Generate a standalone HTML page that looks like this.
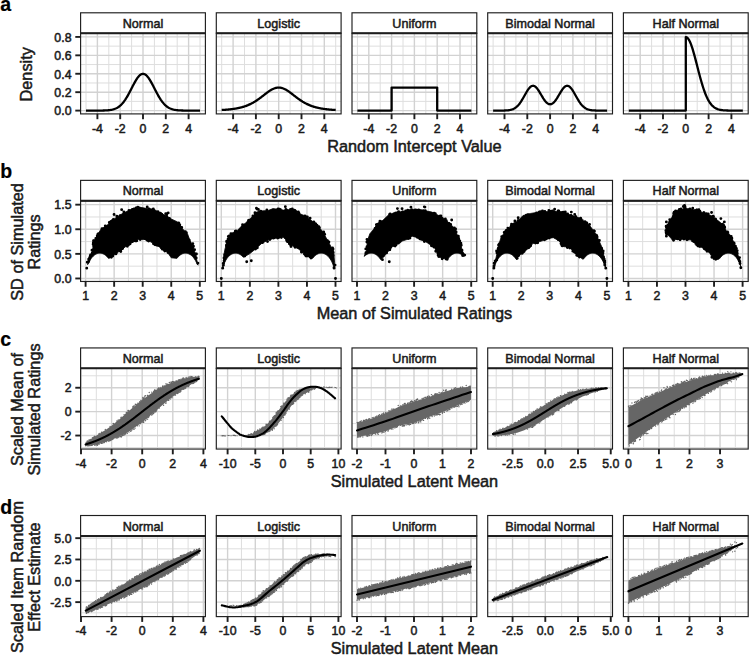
<!DOCTYPE html>
<html><head><meta charset="utf-8"><style>html,body{margin:0;padding:0;background:#fff;overflow:hidden}svg{display:block}</style></head>
<body>
<svg width="749" height="655" viewBox="0 0 749 655" font-family='"Liberation Sans", sans-serif'>
<style>text{stroke:#1a1a1a;stroke-width:0.5px;} .tag{stroke:#000;stroke-width:0.2px}</style>
<rect width="749" height="655" fill="#fff"/>
<defs>
<clipPath id="c00"><rect x="80.6" y="33.2" width="124.8" height="80.7"/></clipPath>
<clipPath id="c01"><rect x="216.3" y="33.2" width="124.8" height="80.7"/></clipPath>
<clipPath id="c02"><rect x="352" y="33.2" width="124.8" height="80.7"/></clipPath>
<clipPath id="c03"><rect x="487.7" y="33.2" width="124.8" height="80.7"/></clipPath>
<clipPath id="c04"><rect x="623.4" y="33.2" width="124.8" height="80.7"/></clipPath>
<clipPath id="c10"><rect x="80.6" y="200.77" width="124.8" height="80.7"/></clipPath>
<clipPath id="c11"><rect x="216.3" y="200.77" width="124.8" height="80.7"/></clipPath>
<clipPath id="c12"><rect x="352" y="200.77" width="124.8" height="80.7"/></clipPath>
<clipPath id="c13"><rect x="487.7" y="200.77" width="124.8" height="80.7"/></clipPath>
<clipPath id="c14"><rect x="623.4" y="200.77" width="124.8" height="80.7"/></clipPath>
<clipPath id="c20"><rect x="80.6" y="368.34" width="124.8" height="80.7"/></clipPath>
<clipPath id="c21"><rect x="216.3" y="368.34" width="124.8" height="80.7"/></clipPath>
<clipPath id="c22"><rect x="352" y="368.34" width="124.8" height="80.7"/></clipPath>
<clipPath id="c23"><rect x="487.7" y="368.34" width="124.8" height="80.7"/></clipPath>
<clipPath id="c24"><rect x="623.4" y="368.34" width="124.8" height="80.7"/></clipPath>
<clipPath id="c30"><rect x="80.6" y="535.91" width="124.8" height="80.7"/></clipPath>
<clipPath id="c31"><rect x="216.3" y="535.91" width="124.8" height="80.7"/></clipPath>
<clipPath id="c32"><rect x="352" y="535.91" width="124.8" height="80.7"/></clipPath>
<clipPath id="c33"><rect x="487.7" y="535.91" width="124.8" height="80.7"/></clipPath>
<clipPath id="c34"><rect x="623.4" y="535.91" width="124.8" height="80.7"/></clipPath>
</defs>
<g clip-path="url(#c00)"><line x1="80.6" x2="205.4" y1="101.39" y2="101.39" stroke="#dedede" stroke-width="1.0"/><line x1="80.6" x2="205.4" y1="82.97" y2="82.97" stroke="#dedede" stroke-width="1.0"/><line x1="80.6" x2="205.4" y1="64.55" y2="64.55" stroke="#dedede" stroke-width="1.0"/><line x1="80.6" x2="205.4" y1="46.13" y2="46.13" stroke="#dedede" stroke-width="1.0"/><line x1="86" x2="86" y1="33.2" y2="113.9" stroke="#dedede" stroke-width="1.0"/><line x1="108.8" x2="108.8" y1="33.2" y2="113.9" stroke="#dedede" stroke-width="1.0"/><line x1="131.6" x2="131.6" y1="33.2" y2="113.9" stroke="#dedede" stroke-width="1.0"/><line x1="154.4" x2="154.4" y1="33.2" y2="113.9" stroke="#dedede" stroke-width="1.0"/><line x1="177.2" x2="177.2" y1="33.2" y2="113.9" stroke="#dedede" stroke-width="1.0"/><line x1="200" x2="200" y1="33.2" y2="113.9" stroke="#dedede" stroke-width="1.0"/><line x1="80.6" x2="205.4" y1="110.6" y2="110.6" stroke="#d2d2d2" stroke-width="1.4"/><line x1="80.6" x2="205.4" y1="92.18" y2="92.18" stroke="#d2d2d2" stroke-width="1.4"/><line x1="80.6" x2="205.4" y1="73.76" y2="73.76" stroke="#d2d2d2" stroke-width="1.4"/><line x1="80.6" x2="205.4" y1="55.34" y2="55.34" stroke="#d2d2d2" stroke-width="1.4"/><line x1="80.6" x2="205.4" y1="36.92" y2="36.92" stroke="#d2d2d2" stroke-width="1.4"/><line x1="97.4" x2="97.4" y1="33.2" y2="113.9" stroke="#d2d2d2" stroke-width="1.4"/><line x1="120.2" x2="120.2" y1="33.2" y2="113.9" stroke="#d2d2d2" stroke-width="1.4"/><line x1="143" x2="143" y1="33.2" y2="113.9" stroke="#d2d2d2" stroke-width="1.4"/><line x1="165.8" x2="165.8" y1="33.2" y2="113.9" stroke="#d2d2d2" stroke-width="1.4"/><line x1="188.6" x2="188.6" y1="33.2" y2="113.9" stroke="#d2d2d2" stroke-width="1.4"/>
<polyline points="86,110.6 86.57,110.6 87.14,110.6 87.71,110.6 88.28,110.6 88.85,110.6 89.42,110.6 89.99,110.6 90.56,110.6 91.13,110.6 91.7,110.6 92.27,110.6 92.84,110.6 93.41,110.6 93.98,110.6 94.55,110.6 95.12,110.59 95.69,110.59 96.26,110.59 96.83,110.59 97.4,110.59 97.97,110.58 98.54,110.58 99.11,110.58 99.68,110.57 100.25,110.57 100.82,110.56 101.39,110.55 101.96,110.54 102.53,110.53 103.1,110.52 103.67,110.5 104.24,110.49 104.81,110.47 105.38,110.44 105.95,110.41 106.52,110.38 107.09,110.34 107.66,110.3 108.23,110.25 108.8,110.19 109.37,110.13 109.94,110.05 110.51,109.97 111.08,109.87 111.65,109.76 112.22,109.64 112.79,109.5 113.36,109.35 113.93,109.18 114.5,108.99 115.07,108.77 115.64,108.54 116.21,108.28 116.78,107.99 117.35,107.68 117.92,107.33 118.49,106.96 119.06,106.55 119.63,106.11 120.2,105.63 120.77,105.11 121.34,104.56 121.91,103.96 122.48,103.33 123.05,102.65 123.62,101.94 124.19,101.18 124.76,100.38 125.33,99.55 125.9,98.67 126.47,97.76 127.04,96.81 127.61,95.83 128.18,94.82 128.75,93.78 129.32,92.72 129.89,91.63 130.46,90.54 131.03,89.43 131.6,88.31 132.17,87.2 132.74,86.09 133.31,85 133.88,83.92 134.45,82.87 135.02,81.84 135.59,80.85 136.16,79.91 136.73,79.01 137.3,78.17 137.87,77.4 138.44,76.68 139.01,76.04 139.58,75.47 140.15,74.99 140.72,74.58 141.29,74.27 141.86,74.04 142.43,73.9 143,73.86 143.57,73.9 144.14,74.04 144.71,74.27 145.28,74.58 145.85,74.99 146.42,75.47 146.99,76.04 147.56,76.68 148.13,77.4 148.7,78.17 149.27,79.01 149.84,79.91 150.41,80.85 150.98,81.84 151.55,82.87 152.12,83.92 152.69,85 153.26,86.09 153.83,87.2 154.4,88.31 154.97,89.43 155.54,90.54 156.11,91.63 156.68,92.72 157.25,93.78 157.82,94.82 158.39,95.83 158.96,96.81 159.53,97.76 160.1,98.67 160.67,99.55 161.24,100.38 161.81,101.18 162.38,101.94 162.95,102.65 163.52,103.33 164.09,103.96 164.66,104.56 165.23,105.11 165.8,105.63 166.37,106.11 166.94,106.55 167.51,106.96 168.08,107.33 168.65,107.68 169.22,107.99 169.79,108.28 170.36,108.54 170.93,108.77 171.5,108.99 172.07,109.18 172.64,109.35 173.21,109.5 173.78,109.64 174.35,109.76 174.92,109.87 175.49,109.97 176.06,110.05 176.63,110.13 177.2,110.19 177.77,110.25 178.34,110.3 178.91,110.34 179.48,110.38 180.05,110.41 180.62,110.44 181.19,110.47 181.76,110.49 182.33,110.5 182.9,110.52 183.47,110.53 184.04,110.54 184.61,110.55 185.18,110.56 185.75,110.57 186.32,110.57 186.89,110.58 187.46,110.58 188.03,110.58 188.6,110.59 189.17,110.59 189.74,110.59 190.31,110.59 190.88,110.59 191.45,110.6 192.02,110.6 192.59,110.6 193.16,110.6 193.73,110.6 194.3,110.6 194.87,110.6 195.44,110.6 196.01,110.6 196.58,110.6 197.15,110.6 197.72,110.6 198.29,110.6 198.86,110.6 199.43,110.6 200,110.6" fill="none" stroke="#000" stroke-width="2.3" stroke-linejoin="round"/>
</g>
<rect x="80.6" y="33.2" width="124.8" height="80.7" fill="none" stroke="#1e1e1e" stroke-width="1.15"/>
<rect x="80.6" y="12.8" width="124.8" height="20.4" fill="#fff" stroke="#1e1e1e" stroke-width="1.15"/>
<line x1="80.6" x2="205.4" y1="33.2" y2="33.2" stroke="#1e1e1e" stroke-width="2.0"/>
<text transform="translate(143,27.8) scale(1,1.08)" font-size="12.6" text-anchor="middle" fill="#1a1a1a" >Normal</text>
<line x1="97.4" x2="97.4" y1="113.9" y2="119.2" stroke="#1e1e1e" stroke-width="1.9"/>
<text transform="translate(97.4,132.7) scale(1,1.1)" font-size="12.35" text-anchor="middle" fill="#1a1a1a" >-4</text>
<line x1="120.2" x2="120.2" y1="113.9" y2="119.2" stroke="#1e1e1e" stroke-width="1.9"/>
<text transform="translate(120.2,132.7) scale(1,1.1)" font-size="12.35" text-anchor="middle" fill="#1a1a1a" >-2</text>
<line x1="143" x2="143" y1="113.9" y2="119.2" stroke="#1e1e1e" stroke-width="1.9"/>
<text transform="translate(143,132.7) scale(1,1.1)" font-size="12.35" text-anchor="middle" fill="#1a1a1a" >0</text>
<line x1="165.8" x2="165.8" y1="113.9" y2="119.2" stroke="#1e1e1e" stroke-width="1.9"/>
<text transform="translate(165.8,132.7) scale(1,1.1)" font-size="12.35" text-anchor="middle" fill="#1a1a1a" >2</text>
<line x1="188.6" x2="188.6" y1="113.9" y2="119.2" stroke="#1e1e1e" stroke-width="1.9"/>
<text transform="translate(188.6,132.7) scale(1,1.1)" font-size="12.35" text-anchor="middle" fill="#1a1a1a" >4</text>
<line x1="75.3" x2="80.6" y1="110.6" y2="110.6" stroke="#1e1e1e" stroke-width="1.9"/>
<text transform="translate(71.5,115.35) scale(1,1.1)" font-size="12.35" text-anchor="end" fill="#1a1a1a" >0.0</text>
<line x1="75.3" x2="80.6" y1="92.18" y2="92.18" stroke="#1e1e1e" stroke-width="1.9"/>
<text transform="translate(71.5,96.93) scale(1,1.1)" font-size="12.35" text-anchor="end" fill="#1a1a1a" >0.2</text>
<line x1="75.3" x2="80.6" y1="73.76" y2="73.76" stroke="#1e1e1e" stroke-width="1.9"/>
<text transform="translate(71.5,78.51) scale(1,1.1)" font-size="12.35" text-anchor="end" fill="#1a1a1a" >0.4</text>
<line x1="75.3" x2="80.6" y1="55.34" y2="55.34" stroke="#1e1e1e" stroke-width="1.9"/>
<text transform="translate(71.5,60.09) scale(1,1.1)" font-size="12.35" text-anchor="end" fill="#1a1a1a" >0.6</text>
<line x1="75.3" x2="80.6" y1="36.92" y2="36.92" stroke="#1e1e1e" stroke-width="1.9"/>
<text transform="translate(71.5,41.67) scale(1,1.1)" font-size="12.35" text-anchor="end" fill="#1a1a1a" >0.8</text>
<g clip-path="url(#c01)"><line x1="216.3" x2="341.1" y1="101.39" y2="101.39" stroke="#dedede" stroke-width="1.0"/><line x1="216.3" x2="341.1" y1="82.97" y2="82.97" stroke="#dedede" stroke-width="1.0"/><line x1="216.3" x2="341.1" y1="64.55" y2="64.55" stroke="#dedede" stroke-width="1.0"/><line x1="216.3" x2="341.1" y1="46.13" y2="46.13" stroke="#dedede" stroke-width="1.0"/><line x1="221.7" x2="221.7" y1="33.2" y2="113.9" stroke="#dedede" stroke-width="1.0"/><line x1="244.5" x2="244.5" y1="33.2" y2="113.9" stroke="#dedede" stroke-width="1.0"/><line x1="267.3" x2="267.3" y1="33.2" y2="113.9" stroke="#dedede" stroke-width="1.0"/><line x1="290.1" x2="290.1" y1="33.2" y2="113.9" stroke="#dedede" stroke-width="1.0"/><line x1="312.9" x2="312.9" y1="33.2" y2="113.9" stroke="#dedede" stroke-width="1.0"/><line x1="335.7" x2="335.7" y1="33.2" y2="113.9" stroke="#dedede" stroke-width="1.0"/><line x1="216.3" x2="341.1" y1="110.6" y2="110.6" stroke="#d2d2d2" stroke-width="1.4"/><line x1="216.3" x2="341.1" y1="92.18" y2="92.18" stroke="#d2d2d2" stroke-width="1.4"/><line x1="216.3" x2="341.1" y1="73.76" y2="73.76" stroke="#d2d2d2" stroke-width="1.4"/><line x1="216.3" x2="341.1" y1="55.34" y2="55.34" stroke="#d2d2d2" stroke-width="1.4"/><line x1="216.3" x2="341.1" y1="36.92" y2="36.92" stroke="#d2d2d2" stroke-width="1.4"/><line x1="233.1" x2="233.1" y1="33.2" y2="113.9" stroke="#d2d2d2" stroke-width="1.4"/><line x1="255.9" x2="255.9" y1="33.2" y2="113.9" stroke="#d2d2d2" stroke-width="1.4"/><line x1="278.7" x2="278.7" y1="33.2" y2="113.9" stroke="#d2d2d2" stroke-width="1.4"/><line x1="301.5" x2="301.5" y1="33.2" y2="113.9" stroke="#d2d2d2" stroke-width="1.4"/><line x1="324.3" x2="324.3" y1="33.2" y2="113.9" stroke="#d2d2d2" stroke-width="1.4"/>
<polyline points="221.7,109.99 222.27,109.96 222.84,109.92 223.41,109.89 223.98,109.85 224.55,109.82 225.12,109.78 225.69,109.74 226.26,109.69 226.83,109.65 227.4,109.6 227.97,109.55 228.54,109.5 229.11,109.44 229.68,109.38 230.25,109.32 230.82,109.26 231.39,109.19 231.96,109.12 232.53,109.05 233.1,108.97 233.67,108.89 234.24,108.81 234.81,108.72 235.38,108.63 235.95,108.53 236.52,108.43 237.09,108.33 237.66,108.22 238.23,108.1 238.8,107.98 239.37,107.85 239.94,107.72 240.51,107.58 241.08,107.44 241.65,107.29 242.22,107.13 242.79,106.97 243.36,106.8 243.93,106.62 244.5,106.44 245.07,106.25 245.64,106.05 246.21,105.84 246.78,105.62 247.35,105.4 247.92,105.17 248.49,104.92 249.06,104.67 249.63,104.41 250.2,104.14 250.77,103.86 251.34,103.58 251.91,103.28 252.48,102.97 253.05,102.66 253.62,102.33 254.19,101.99 254.76,101.65 255.33,101.29 255.9,100.93 256.47,100.56 257.04,100.18 257.61,99.79 258.18,99.39 258.75,98.98 259.32,98.57 259.89,98.15 260.46,97.73 261.03,97.3 261.6,96.86 262.17,96.43 262.74,95.99 263.31,95.54 263.88,95.1 264.45,94.66 265.02,94.22 265.59,93.78 266.16,93.34 266.73,92.91 267.3,92.49 267.87,92.08 268.44,91.67 269.01,91.28 269.58,90.9 270.15,90.53 270.72,90.18 271.29,89.85 271.86,89.53 272.43,89.23 273,88.96 273.57,88.7 274.14,88.47 274.71,88.27 275.28,88.09 275.85,87.93 276.42,87.8 276.99,87.7 277.56,87.63 278.13,87.59 278.7,87.57 279.27,87.59 279.84,87.63 280.41,87.7 280.98,87.8 281.55,87.93 282.12,88.09 282.69,88.27 283.26,88.47 283.83,88.7 284.4,88.96 284.97,89.23 285.54,89.53 286.11,89.85 286.68,90.18 287.25,90.53 287.82,90.9 288.39,91.28 288.96,91.67 289.53,92.08 290.1,92.49 290.67,92.91 291.24,93.34 291.81,93.78 292.38,94.22 292.95,94.66 293.52,95.1 294.09,95.54 294.66,95.99 295.23,96.43 295.8,96.86 296.37,97.3 296.94,97.73 297.51,98.15 298.08,98.57 298.65,98.98 299.22,99.39 299.79,99.79 300.36,100.18 300.93,100.56 301.5,100.93 302.07,101.29 302.64,101.65 303.21,101.99 303.78,102.33 304.35,102.66 304.92,102.97 305.49,103.28 306.06,103.58 306.63,103.86 307.2,104.14 307.77,104.41 308.34,104.67 308.91,104.92 309.48,105.17 310.05,105.4 310.62,105.62 311.19,105.84 311.76,106.05 312.33,106.25 312.9,106.44 313.47,106.62 314.04,106.8 314.61,106.97 315.18,107.13 315.75,107.29 316.32,107.44 316.89,107.58 317.46,107.72 318.03,107.85 318.6,107.98 319.17,108.1 319.74,108.22 320.31,108.33 320.88,108.43 321.45,108.53 322.02,108.63 322.59,108.72 323.16,108.81 323.73,108.89 324.3,108.97 324.87,109.05 325.44,109.12 326.01,109.19 326.58,109.26 327.15,109.32 327.72,109.38 328.29,109.44 328.86,109.5 329.43,109.55 330,109.6 330.57,109.65 331.14,109.69 331.71,109.74 332.28,109.78 332.85,109.82 333.42,109.85 333.99,109.89 334.56,109.92 335.13,109.96 335.7,109.99" fill="none" stroke="#000" stroke-width="2.3" stroke-linejoin="round"/>
</g>
<rect x="216.3" y="33.2" width="124.8" height="80.7" fill="none" stroke="#1e1e1e" stroke-width="1.15"/>
<rect x="216.3" y="12.8" width="124.8" height="20.4" fill="#fff" stroke="#1e1e1e" stroke-width="1.15"/>
<line x1="216.3" x2="341.1" y1="33.2" y2="33.2" stroke="#1e1e1e" stroke-width="2.0"/>
<text transform="translate(278.7,27.8) scale(1,1.08)" font-size="12.6" text-anchor="middle" fill="#1a1a1a" >Logistic</text>
<line x1="233.1" x2="233.1" y1="113.9" y2="119.2" stroke="#1e1e1e" stroke-width="1.9"/>
<text transform="translate(233.1,132.7) scale(1,1.1)" font-size="12.35" text-anchor="middle" fill="#1a1a1a" >-4</text>
<line x1="255.9" x2="255.9" y1="113.9" y2="119.2" stroke="#1e1e1e" stroke-width="1.9"/>
<text transform="translate(255.9,132.7) scale(1,1.1)" font-size="12.35" text-anchor="middle" fill="#1a1a1a" >-2</text>
<line x1="278.7" x2="278.7" y1="113.9" y2="119.2" stroke="#1e1e1e" stroke-width="1.9"/>
<text transform="translate(278.7,132.7) scale(1,1.1)" font-size="12.35" text-anchor="middle" fill="#1a1a1a" >0</text>
<line x1="301.5" x2="301.5" y1="113.9" y2="119.2" stroke="#1e1e1e" stroke-width="1.9"/>
<text transform="translate(301.5,132.7) scale(1,1.1)" font-size="12.35" text-anchor="middle" fill="#1a1a1a" >2</text>
<line x1="324.3" x2="324.3" y1="113.9" y2="119.2" stroke="#1e1e1e" stroke-width="1.9"/>
<text transform="translate(324.3,132.7) scale(1,1.1)" font-size="12.35" text-anchor="middle" fill="#1a1a1a" >4</text>
<g clip-path="url(#c02)"><line x1="352" x2="476.8" y1="101.39" y2="101.39" stroke="#dedede" stroke-width="1.0"/><line x1="352" x2="476.8" y1="82.97" y2="82.97" stroke="#dedede" stroke-width="1.0"/><line x1="352" x2="476.8" y1="64.55" y2="64.55" stroke="#dedede" stroke-width="1.0"/><line x1="352" x2="476.8" y1="46.13" y2="46.13" stroke="#dedede" stroke-width="1.0"/><line x1="357.4" x2="357.4" y1="33.2" y2="113.9" stroke="#dedede" stroke-width="1.0"/><line x1="380.2" x2="380.2" y1="33.2" y2="113.9" stroke="#dedede" stroke-width="1.0"/><line x1="403" x2="403" y1="33.2" y2="113.9" stroke="#dedede" stroke-width="1.0"/><line x1="425.8" x2="425.8" y1="33.2" y2="113.9" stroke="#dedede" stroke-width="1.0"/><line x1="448.6" x2="448.6" y1="33.2" y2="113.9" stroke="#dedede" stroke-width="1.0"/><line x1="471.4" x2="471.4" y1="33.2" y2="113.9" stroke="#dedede" stroke-width="1.0"/><line x1="352" x2="476.8" y1="110.6" y2="110.6" stroke="#d2d2d2" stroke-width="1.4"/><line x1="352" x2="476.8" y1="92.18" y2="92.18" stroke="#d2d2d2" stroke-width="1.4"/><line x1="352" x2="476.8" y1="73.76" y2="73.76" stroke="#d2d2d2" stroke-width="1.4"/><line x1="352" x2="476.8" y1="55.34" y2="55.34" stroke="#d2d2d2" stroke-width="1.4"/><line x1="352" x2="476.8" y1="36.92" y2="36.92" stroke="#d2d2d2" stroke-width="1.4"/><line x1="368.8" x2="368.8" y1="33.2" y2="113.9" stroke="#d2d2d2" stroke-width="1.4"/><line x1="391.6" x2="391.6" y1="33.2" y2="113.9" stroke="#d2d2d2" stroke-width="1.4"/><line x1="414.4" x2="414.4" y1="33.2" y2="113.9" stroke="#d2d2d2" stroke-width="1.4"/><line x1="437.2" x2="437.2" y1="33.2" y2="113.9" stroke="#d2d2d2" stroke-width="1.4"/><line x1="460" x2="460" y1="33.2" y2="113.9" stroke="#d2d2d2" stroke-width="1.4"/>
<polyline points="357.4,110.6 391.6,110.6 391.6,87.57 437.2,87.57 437.2,110.6 471.4,110.6" fill="none" stroke="#000" stroke-width="2.3" stroke-linejoin="round"/>
</g>
<rect x="352" y="33.2" width="124.8" height="80.7" fill="none" stroke="#1e1e1e" stroke-width="1.15"/>
<rect x="352" y="12.8" width="124.8" height="20.4" fill="#fff" stroke="#1e1e1e" stroke-width="1.15"/>
<line x1="352" x2="476.8" y1="33.2" y2="33.2" stroke="#1e1e1e" stroke-width="2.0"/>
<text transform="translate(414.4,27.8) scale(1,1.08)" font-size="12.6" text-anchor="middle" fill="#1a1a1a" >Uniform</text>
<line x1="368.8" x2="368.8" y1="113.9" y2="119.2" stroke="#1e1e1e" stroke-width="1.9"/>
<text transform="translate(368.8,132.7) scale(1,1.1)" font-size="12.35" text-anchor="middle" fill="#1a1a1a" >-4</text>
<line x1="391.6" x2="391.6" y1="113.9" y2="119.2" stroke="#1e1e1e" stroke-width="1.9"/>
<text transform="translate(391.6,132.7) scale(1,1.1)" font-size="12.35" text-anchor="middle" fill="#1a1a1a" >-2</text>
<line x1="414.4" x2="414.4" y1="113.9" y2="119.2" stroke="#1e1e1e" stroke-width="1.9"/>
<text transform="translate(414.4,132.7) scale(1,1.1)" font-size="12.35" text-anchor="middle" fill="#1a1a1a" >0</text>
<line x1="437.2" x2="437.2" y1="113.9" y2="119.2" stroke="#1e1e1e" stroke-width="1.9"/>
<text transform="translate(437.2,132.7) scale(1,1.1)" font-size="12.35" text-anchor="middle" fill="#1a1a1a" >2</text>
<line x1="460" x2="460" y1="113.9" y2="119.2" stroke="#1e1e1e" stroke-width="1.9"/>
<text transform="translate(460,132.7) scale(1,1.1)" font-size="12.35" text-anchor="middle" fill="#1a1a1a" >4</text>
<g clip-path="url(#c03)"><line x1="487.7" x2="612.5" y1="101.39" y2="101.39" stroke="#dedede" stroke-width="1.0"/><line x1="487.7" x2="612.5" y1="82.97" y2="82.97" stroke="#dedede" stroke-width="1.0"/><line x1="487.7" x2="612.5" y1="64.55" y2="64.55" stroke="#dedede" stroke-width="1.0"/><line x1="487.7" x2="612.5" y1="46.13" y2="46.13" stroke="#dedede" stroke-width="1.0"/><line x1="493.1" x2="493.1" y1="33.2" y2="113.9" stroke="#dedede" stroke-width="1.0"/><line x1="515.9" x2="515.9" y1="33.2" y2="113.9" stroke="#dedede" stroke-width="1.0"/><line x1="538.7" x2="538.7" y1="33.2" y2="113.9" stroke="#dedede" stroke-width="1.0"/><line x1="561.5" x2="561.5" y1="33.2" y2="113.9" stroke="#dedede" stroke-width="1.0"/><line x1="584.3" x2="584.3" y1="33.2" y2="113.9" stroke="#dedede" stroke-width="1.0"/><line x1="607.1" x2="607.1" y1="33.2" y2="113.9" stroke="#dedede" stroke-width="1.0"/><line x1="487.7" x2="612.5" y1="110.6" y2="110.6" stroke="#d2d2d2" stroke-width="1.4"/><line x1="487.7" x2="612.5" y1="92.18" y2="92.18" stroke="#d2d2d2" stroke-width="1.4"/><line x1="487.7" x2="612.5" y1="73.76" y2="73.76" stroke="#d2d2d2" stroke-width="1.4"/><line x1="487.7" x2="612.5" y1="55.34" y2="55.34" stroke="#d2d2d2" stroke-width="1.4"/><line x1="487.7" x2="612.5" y1="36.92" y2="36.92" stroke="#d2d2d2" stroke-width="1.4"/><line x1="504.5" x2="504.5" y1="33.2" y2="113.9" stroke="#d2d2d2" stroke-width="1.4"/><line x1="527.3" x2="527.3" y1="33.2" y2="113.9" stroke="#d2d2d2" stroke-width="1.4"/><line x1="550.1" x2="550.1" y1="33.2" y2="113.9" stroke="#d2d2d2" stroke-width="1.4"/><line x1="572.9" x2="572.9" y1="33.2" y2="113.9" stroke="#d2d2d2" stroke-width="1.4"/><line x1="595.7" x2="595.7" y1="33.2" y2="113.9" stroke="#d2d2d2" stroke-width="1.4"/>
<polyline points="493.1,110.6 493.67,110.6 494.24,110.6 494.81,110.6 495.38,110.6 495.95,110.6 496.52,110.6 497.09,110.6 497.66,110.6 498.23,110.59 498.8,110.59 499.37,110.59 499.94,110.59 500.51,110.59 501.08,110.58 501.65,110.58 502.22,110.57 502.79,110.56 503.36,110.55 503.93,110.53 504.5,110.52 505.07,110.5 505.64,110.47 506.21,110.44 506.78,110.4 507.35,110.36 507.92,110.3 508.49,110.24 509.06,110.16 509.63,110.06 510.2,109.96 510.77,109.83 511.34,109.68 511.91,109.51 512.48,109.31 513.05,109.08 513.62,108.83 514.19,108.53 514.76,108.2 515.33,107.83 515.9,107.42 516.47,106.96 517.04,106.45 517.61,105.9 518.18,105.29 518.75,104.64 519.32,103.93 519.89,103.18 520.46,102.38 521.03,101.53 521.6,100.64 522.17,99.71 522.74,98.75 523.31,97.76 523.88,96.76 524.45,95.75 525.02,94.73 525.59,93.72 526.16,92.73 526.73,91.77 527.3,90.84 527.87,89.96 528.44,89.15 529.01,88.4 529.58,87.73 530.15,87.15 530.72,86.66 531.29,86.28 531.86,86 532.43,85.83 533,85.77 533.57,85.82 534.14,85.99 534.71,86.26 535.28,86.64 535.85,87.13 536.42,87.7 536.99,88.36 537.56,89.1 538.13,89.9 538.7,90.76 539.27,91.66 539.84,92.6 540.41,93.56 540.98,94.53 541.55,95.5 542.12,96.46 542.69,97.4 543.26,98.31 543.83,99.17 544.4,99.99 544.97,100.76 545.54,101.46 546.11,102.09 546.68,102.65 547.25,103.12 547.82,103.52 548.39,103.83 548.96,104.06 549.53,104.19 550.1,104.24 550.67,104.19 551.24,104.06 551.81,103.83 552.38,103.52 552.95,103.12 553.52,102.65 554.09,102.09 554.66,101.46 555.23,100.76 555.8,99.99 556.37,99.17 556.94,98.31 557.51,97.4 558.08,96.46 558.65,95.5 559.22,94.53 559.79,93.56 560.36,92.6 560.93,91.66 561.5,90.76 562.07,89.9 562.64,89.1 563.21,88.36 563.78,87.7 564.35,87.13 564.92,86.64 565.49,86.26 566.06,85.99 566.63,85.82 567.2,85.77 567.77,85.83 568.34,86 568.91,86.28 569.48,86.66 570.05,87.15 570.62,87.73 571.19,88.4 571.76,89.15 572.33,89.96 572.9,90.84 573.47,91.77 574.04,92.73 574.61,93.72 575.18,94.73 575.75,95.75 576.32,96.76 576.89,97.76 577.46,98.75 578.03,99.71 578.6,100.64 579.17,101.53 579.74,102.38 580.31,103.18 580.88,103.93 581.45,104.64 582.02,105.29 582.59,105.9 583.16,106.45 583.73,106.96 584.3,107.42 584.87,107.83 585.44,108.2 586.01,108.53 586.58,108.83 587.15,109.08 587.72,109.31 588.29,109.51 588.86,109.68 589.43,109.83 590,109.96 590.57,110.06 591.14,110.16 591.71,110.24 592.28,110.3 592.85,110.36 593.42,110.4 593.99,110.44 594.56,110.47 595.13,110.5 595.7,110.52 596.27,110.53 596.84,110.55 597.41,110.56 597.98,110.57 598.55,110.58 599.12,110.58 599.69,110.59 600.26,110.59 600.83,110.59 601.4,110.59 601.97,110.59 602.54,110.6 603.11,110.6 603.68,110.6 604.25,110.6 604.82,110.6 605.39,110.6 605.96,110.6 606.53,110.6 607.1,110.6" fill="none" stroke="#000" stroke-width="2.3" stroke-linejoin="round"/>
</g>
<rect x="487.7" y="33.2" width="124.8" height="80.7" fill="none" stroke="#1e1e1e" stroke-width="1.15"/>
<rect x="487.7" y="12.8" width="124.8" height="20.4" fill="#fff" stroke="#1e1e1e" stroke-width="1.15"/>
<line x1="487.7" x2="612.5" y1="33.2" y2="33.2" stroke="#1e1e1e" stroke-width="2.0"/>
<text transform="translate(550.1,27.8) scale(1,1.08)" font-size="12.6" text-anchor="middle" fill="#1a1a1a" >Bimodal Normal</text>
<line x1="504.5" x2="504.5" y1="113.9" y2="119.2" stroke="#1e1e1e" stroke-width="1.9"/>
<text transform="translate(504.5,132.7) scale(1,1.1)" font-size="12.35" text-anchor="middle" fill="#1a1a1a" >-4</text>
<line x1="527.3" x2="527.3" y1="113.9" y2="119.2" stroke="#1e1e1e" stroke-width="1.9"/>
<text transform="translate(527.3,132.7) scale(1,1.1)" font-size="12.35" text-anchor="middle" fill="#1a1a1a" >-2</text>
<line x1="550.1" x2="550.1" y1="113.9" y2="119.2" stroke="#1e1e1e" stroke-width="1.9"/>
<text transform="translate(550.1,132.7) scale(1,1.1)" font-size="12.35" text-anchor="middle" fill="#1a1a1a" >0</text>
<line x1="572.9" x2="572.9" y1="113.9" y2="119.2" stroke="#1e1e1e" stroke-width="1.9"/>
<text transform="translate(572.9,132.7) scale(1,1.1)" font-size="12.35" text-anchor="middle" fill="#1a1a1a" >2</text>
<line x1="595.7" x2="595.7" y1="113.9" y2="119.2" stroke="#1e1e1e" stroke-width="1.9"/>
<text transform="translate(595.7,132.7) scale(1,1.1)" font-size="12.35" text-anchor="middle" fill="#1a1a1a" >4</text>
<g clip-path="url(#c04)"><line x1="623.4" x2="748.2" y1="101.39" y2="101.39" stroke="#dedede" stroke-width="1.0"/><line x1="623.4" x2="748.2" y1="82.97" y2="82.97" stroke="#dedede" stroke-width="1.0"/><line x1="623.4" x2="748.2" y1="64.55" y2="64.55" stroke="#dedede" stroke-width="1.0"/><line x1="623.4" x2="748.2" y1="46.13" y2="46.13" stroke="#dedede" stroke-width="1.0"/><line x1="628.8" x2="628.8" y1="33.2" y2="113.9" stroke="#dedede" stroke-width="1.0"/><line x1="651.6" x2="651.6" y1="33.2" y2="113.9" stroke="#dedede" stroke-width="1.0"/><line x1="674.4" x2="674.4" y1="33.2" y2="113.9" stroke="#dedede" stroke-width="1.0"/><line x1="697.2" x2="697.2" y1="33.2" y2="113.9" stroke="#dedede" stroke-width="1.0"/><line x1="720" x2="720" y1="33.2" y2="113.9" stroke="#dedede" stroke-width="1.0"/><line x1="742.8" x2="742.8" y1="33.2" y2="113.9" stroke="#dedede" stroke-width="1.0"/><line x1="623.4" x2="748.2" y1="110.6" y2="110.6" stroke="#d2d2d2" stroke-width="1.4"/><line x1="623.4" x2="748.2" y1="92.18" y2="92.18" stroke="#d2d2d2" stroke-width="1.4"/><line x1="623.4" x2="748.2" y1="73.76" y2="73.76" stroke="#d2d2d2" stroke-width="1.4"/><line x1="623.4" x2="748.2" y1="55.34" y2="55.34" stroke="#d2d2d2" stroke-width="1.4"/><line x1="623.4" x2="748.2" y1="36.92" y2="36.92" stroke="#d2d2d2" stroke-width="1.4"/><line x1="640.2" x2="640.2" y1="33.2" y2="113.9" stroke="#d2d2d2" stroke-width="1.4"/><line x1="663" x2="663" y1="33.2" y2="113.9" stroke="#d2d2d2" stroke-width="1.4"/><line x1="685.8" x2="685.8" y1="33.2" y2="113.9" stroke="#d2d2d2" stroke-width="1.4"/><line x1="708.6" x2="708.6" y1="33.2" y2="113.9" stroke="#d2d2d2" stroke-width="1.4"/><line x1="731.4" x2="731.4" y1="33.2" y2="113.9" stroke="#d2d2d2" stroke-width="1.4"/>
<polyline points="628.8,110.6 685.8,110.6 685.8,37.11 686.37,37.21 686.94,37.48 687.51,37.94 688.08,38.57 688.65,39.38 689.22,40.35 689.79,41.48 690.36,42.76 690.93,44.19 691.5,45.75 692.07,47.43 692.64,49.22 693.21,51.11 693.78,53.08 694.35,55.13 694.92,57.24 695.49,59.4 696.06,61.59 696.63,63.8 697.2,66.03 697.77,68.26 698.34,70.47 698.91,72.67 699.48,74.83 700.05,76.96 700.62,79.03 701.19,81.06 701.76,83.02 702.33,84.92 702.9,86.74 703.47,88.49 704.04,90.17 704.61,91.76 705.18,93.28 705.75,94.71 706.32,96.06 706.89,97.33 707.46,98.51 708.03,99.62 708.6,100.65 709.17,101.61 709.74,102.5 710.31,103.31 710.88,104.07 711.45,104.75 712.02,105.38 712.59,105.95 713.16,106.47 713.73,106.95 714.3,107.37 714.87,107.75 715.44,108.1 716.01,108.41 716.58,108.68 717.15,108.92 717.72,109.14 718.29,109.33 718.86,109.5 719.43,109.65 720,109.78 720.57,109.9 721.14,110 721.71,110.09 722.28,110.16 722.85,110.23 723.42,110.28 723.99,110.33 724.56,110.37 725.13,110.41 725.7,110.44 726.27,110.47 726.84,110.49 727.41,110.51 727.98,110.52 728.55,110.54 729.12,110.55 729.69,110.56 730.26,110.56 730.83,110.57 731.4,110.58 731.97,110.58 732.54,110.58 733.11,110.59 733.68,110.59 734.25,110.59 734.82,110.59 735.39,110.59 735.96,110.6 736.53,110.6 737.1,110.6 737.67,110.6 738.24,110.6 738.81,110.6 739.38,110.6 739.95,110.6 740.52,110.6 741.09,110.6 741.66,110.6 742.23,110.6 742.8,110.6" fill="none" stroke="#000" stroke-width="2.3" stroke-linejoin="round"/>
</g>
<rect x="623.4" y="33.2" width="124.8" height="80.7" fill="none" stroke="#1e1e1e" stroke-width="1.15"/>
<rect x="623.4" y="12.8" width="124.8" height="20.4" fill="#fff" stroke="#1e1e1e" stroke-width="1.15"/>
<line x1="623.4" x2="748.2" y1="33.2" y2="33.2" stroke="#1e1e1e" stroke-width="2.0"/>
<text transform="translate(685.8,27.8) scale(1,1.08)" font-size="12.6" text-anchor="middle" fill="#1a1a1a" >Half Normal</text>
<line x1="640.2" x2="640.2" y1="113.9" y2="119.2" stroke="#1e1e1e" stroke-width="1.9"/>
<text transform="translate(640.2,132.7) scale(1,1.1)" font-size="12.35" text-anchor="middle" fill="#1a1a1a" >-4</text>
<line x1="663" x2="663" y1="113.9" y2="119.2" stroke="#1e1e1e" stroke-width="1.9"/>
<text transform="translate(663,132.7) scale(1,1.1)" font-size="12.35" text-anchor="middle" fill="#1a1a1a" >-2</text>
<line x1="685.8" x2="685.8" y1="113.9" y2="119.2" stroke="#1e1e1e" stroke-width="1.9"/>
<text transform="translate(685.8,132.7) scale(1,1.1)" font-size="12.35" text-anchor="middle" fill="#1a1a1a" >0</text>
<line x1="708.6" x2="708.6" y1="113.9" y2="119.2" stroke="#1e1e1e" stroke-width="1.9"/>
<text transform="translate(708.6,132.7) scale(1,1.1)" font-size="12.35" text-anchor="middle" fill="#1a1a1a" >2</text>
<line x1="731.4" x2="731.4" y1="113.9" y2="119.2" stroke="#1e1e1e" stroke-width="1.9"/>
<text transform="translate(731.4,132.7) scale(1,1.1)" font-size="12.35" text-anchor="middle" fill="#1a1a1a" >4</text>
<g clip-path="url(#c10)"><line x1="80.6" x2="205.4" y1="266.17" y2="266.17" stroke="#dedede" stroke-width="1.0"/><line x1="80.6" x2="205.4" y1="241.57" y2="241.57" stroke="#dedede" stroke-width="1.0"/><line x1="80.6" x2="205.4" y1="216.97" y2="216.97" stroke="#dedede" stroke-width="1.0"/><line x1="99.88" x2="99.88" y1="200.77" y2="281.47" stroke="#dedede" stroke-width="1.0"/><line x1="128.43" x2="128.43" y1="200.77" y2="281.47" stroke="#dedede" stroke-width="1.0"/><line x1="156.97" x2="156.97" y1="200.77" y2="281.47" stroke="#dedede" stroke-width="1.0"/><line x1="185.52" x2="185.52" y1="200.77" y2="281.47" stroke="#dedede" stroke-width="1.0"/><line x1="80.6" x2="205.4" y1="278.47" y2="278.47" stroke="#d2d2d2" stroke-width="1.4"/><line x1="80.6" x2="205.4" y1="253.87" y2="253.87" stroke="#d2d2d2" stroke-width="1.4"/><line x1="80.6" x2="205.4" y1="229.27" y2="229.27" stroke="#d2d2d2" stroke-width="1.4"/><line x1="80.6" x2="205.4" y1="204.67" y2="204.67" stroke="#d2d2d2" stroke-width="1.4"/><line x1="85.6" x2="85.6" y1="200.77" y2="281.47" stroke="#d2d2d2" stroke-width="1.4"/><line x1="114.15" x2="114.15" y1="200.77" y2="281.47" stroke="#d2d2d2" stroke-width="1.4"/><line x1="142.7" x2="142.7" y1="200.77" y2="281.47" stroke="#d2d2d2" stroke-width="1.4"/><line x1="171.25" x2="171.25" y1="200.77" y2="281.47" stroke="#d2d2d2" stroke-width="1.4"/><line x1="199.8" x2="199.8" y1="200.77" y2="281.47" stroke="#d2d2d2" stroke-width="1.4"/>
<polygon points="87.6,264.69 89.31,257.81 91.6,253.87 94.16,241.27 98.45,233.34 101.02,229.11 107.3,224.88 115.86,217.69 123.29,213.03 132.14,209.1 139.56,207.13 147.55,208.61 153.83,209.1 159.83,213.03 166.11,215.57 171.25,218.96 177.53,221.92 182.38,228.69 187.52,233.77 189.81,240.09 192.38,245.01 194.95,252.39 198.09,265.19 197.17,264.25 196.26,262.11 195.34,260.36 194.42,258.89 193.51,257.65 192.59,256.6 191.68,255.72 190.76,254.98 189.84,254.38 188.93,253.91 188.01,253.55 187.1,253.31 186.18,253.18 185.26,253.15 184.35,253.24 183.43,253.43 182.52,253.74 181.6,254.16 180.68,254.71 179.77,255.38 178.85,256.2 177.94,257.18 177.02,258.33 176.1,258.3 171.25,257.81 167.54,252.39 162.4,248.95 156.12,245.01 147.55,240.09 141.27,238.13 134.71,241.08 125.86,246.49 115.86,253.87 109.3,258.3 108.39,258.35 107.49,257.2 106.58,256.24 105.68,255.42 104.78,254.75 103.87,254.2 102.97,253.77 102.06,253.46 101.16,253.25 100.26,253.16 99.35,253.17 98.45,253.28 97.54,253.5 96.64,253.83 95.74,254.28 94.83,254.85 93.93,255.54 93.02,256.38 92.12,257.37 91.21,258.55 90.31,259.93 89.41,261.57 88.5,263.56" fill="#000" stroke="#000" stroke-width="0.8" stroke-linejoin="round"/><path d="M136.06,207.99h0.01M110.31,222.78h0.01M93.13,244.28h0.01M134.02,209.07h0.01M93.34,242.65h0.01M136.61,207.92h0.01M160.86,213.91h0.01M93.53,240.63h0.01M193.45,246.28h0.01M189.2,240.12h0.01M101.98,228.82h0.01M113.35,219.52h0.01M197.9,263.12h0.01M132.37,209.53h0.01M160.43,213.24h0.01M161.68,214.11h0.01M137.55,208.77h0.01M195.2,256.75h0.01M109.3,222.53h0.01M185.43,231.63h0.01M94.12,240.71h0.01M178.61,223.05h0.01M98.74,233.93h0.01M194.58,249.75h0.01M186.38,232.81h0.01M196.22,257.89h0.01M117.04,216.8h0.01M98.04,233.97h0.01M128.99,210.51h0.01M113.24,220.8h0.01M181.73,227.53h0.01M95.81,238.36h0.01M185.42,232.33h0.01M169.4,218.37h0.01M89.53,258.07h0.01M105.3,225.87h0.01M196.44,254.04h0.01M157.96,211.62h0.01M178.62,223.17h0.01M153.32,209.01h0.01M88.69,261.4h0.01M97.79,234.36h0.01M178.92,223.35h0.01M158.71,212.88h0.01M97.23,236.04h0.01M195.71,253.89h0.01M178.75,224.18h0.01M123.85,211.93h0.01M192.81,243.81h0.01M139.4,208.14h0.01M166.77,216.19h0.01M90.52,254.9h0.01M87.27,262.31h0.01M193.14,247.06h0.01M153.18,209.63h0.01M120.16,215.75h0.01M93.76,246.07h0.01M179.79,225h0.01M131.55,210.46h0.01M111.76,221.66h0.01M149.01,209.04h0.01M92.19,253.32h0.01M88.67,259.14h0.01M180.64,227.09h0.01M110.99,221.33h0.01M137.85,207.1h0.01M181.11,227.53h0.01M90.12,256.56h0.01M91.97,250.17h0.01M112.42,220.43h0.01M135.74,240.25h0.01M136.77,240.78h0.01M119.72,250.85h0.01M157.11,245.18h0.01M148.63,241.05h0.01M161.45,247.9h0.01M116.22,253.35h0.01M127.27,246.28h0.01M162.35,249.14h0.01M129.98,243.89h0.01M142.9,238.59h0.01M141.96,238.04h0.01M141.1,238.66h0.01M122.62,248.48h0.01M112.13,256.04h0.01M120.65,250.01h0.01M146.16,239.21h0.01M128.4,244.97h0.01M155.14,244.83h0.01M167.99,252.51h0.01M153.49,243.72h0.01M135.23,240.91h0.01M164.78,251.09h0.01M120.75,250.1h0.01M115.92,253.89h0.01M112.75,256.03h0.01M111.29,257.37h0.01M140.24,239.43h0.01M164.01,249.84h0.01M144.55,238.58h0.01M145.74,238.71h0.01M120.78,251.52h0.01M128.13,244.5h0.01M132.4,241.62h0.01M147.31,240.25h0.01M86.74,268.14h0.01M114.06,214.48h0.01M168.2,212.92h0.01M121.65,209.66h0.01M116.79,216.09h0.01M147.21,206.92h0.01M166.81,213.97h0.01M165.7,213.64h0.01" stroke="#000" stroke-width="2.9" stroke-linecap="round" fill="none"/>
</g>
<rect x="80.6" y="200.77" width="124.8" height="80.7" fill="none" stroke="#1e1e1e" stroke-width="1.15"/>
<rect x="80.6" y="180.37" width="124.8" height="20.4" fill="#fff" stroke="#1e1e1e" stroke-width="1.15"/>
<line x1="80.6" x2="205.4" y1="200.77" y2="200.77" stroke="#1e1e1e" stroke-width="2.0"/>
<text transform="translate(143,195.37) scale(1,1.08)" font-size="12.6" text-anchor="middle" fill="#1a1a1a" >Normal</text>
<line x1="85.6" x2="85.6" y1="281.47" y2="286.77" stroke="#1e1e1e" stroke-width="1.9"/>
<text transform="translate(85.6,300.27) scale(1,1.1)" font-size="12.35" text-anchor="middle" fill="#1a1a1a" >1</text>
<line x1="114.15" x2="114.15" y1="281.47" y2="286.77" stroke="#1e1e1e" stroke-width="1.9"/>
<text transform="translate(114.15,300.27) scale(1,1.1)" font-size="12.35" text-anchor="middle" fill="#1a1a1a" >2</text>
<line x1="142.7" x2="142.7" y1="281.47" y2="286.77" stroke="#1e1e1e" stroke-width="1.9"/>
<text transform="translate(142.7,300.27) scale(1,1.1)" font-size="12.35" text-anchor="middle" fill="#1a1a1a" >3</text>
<line x1="171.25" x2="171.25" y1="281.47" y2="286.77" stroke="#1e1e1e" stroke-width="1.9"/>
<text transform="translate(171.25,300.27) scale(1,1.1)" font-size="12.35" text-anchor="middle" fill="#1a1a1a" >4</text>
<line x1="199.8" x2="199.8" y1="281.47" y2="286.77" stroke="#1e1e1e" stroke-width="1.9"/>
<text transform="translate(199.8,300.27) scale(1,1.1)" font-size="12.35" text-anchor="middle" fill="#1a1a1a" >5</text>
<line x1="75.3" x2="80.6" y1="278.47" y2="278.47" stroke="#1e1e1e" stroke-width="1.9"/>
<text transform="translate(71.5,283.22) scale(1,1.1)" font-size="12.35" text-anchor="end" fill="#1a1a1a" >0.0</text>
<line x1="75.3" x2="80.6" y1="253.87" y2="253.87" stroke="#1e1e1e" stroke-width="1.9"/>
<text transform="translate(71.5,258.62) scale(1,1.1)" font-size="12.35" text-anchor="end" fill="#1a1a1a" >0.5</text>
<line x1="75.3" x2="80.6" y1="229.27" y2="229.27" stroke="#1e1e1e" stroke-width="1.9"/>
<text transform="translate(71.5,234.02) scale(1,1.1)" font-size="12.35" text-anchor="end" fill="#1a1a1a" >1.0</text>
<line x1="75.3" x2="80.6" y1="204.67" y2="204.67" stroke="#1e1e1e" stroke-width="1.9"/>
<text transform="translate(71.5,209.42) scale(1,1.1)" font-size="12.35" text-anchor="end" fill="#1a1a1a" >1.5</text>
<g clip-path="url(#c11)"><line x1="216.3" x2="341.1" y1="266.17" y2="266.17" stroke="#dedede" stroke-width="1.0"/><line x1="216.3" x2="341.1" y1="241.57" y2="241.57" stroke="#dedede" stroke-width="1.0"/><line x1="216.3" x2="341.1" y1="216.97" y2="216.97" stroke="#dedede" stroke-width="1.0"/><line x1="235.57" x2="235.57" y1="200.77" y2="281.47" stroke="#dedede" stroke-width="1.0"/><line x1="264.12" x2="264.12" y1="200.77" y2="281.47" stroke="#dedede" stroke-width="1.0"/><line x1="292.67" x2="292.67" y1="200.77" y2="281.47" stroke="#dedede" stroke-width="1.0"/><line x1="321.22" x2="321.22" y1="200.77" y2="281.47" stroke="#dedede" stroke-width="1.0"/><line x1="216.3" x2="341.1" y1="278.47" y2="278.47" stroke="#d2d2d2" stroke-width="1.4"/><line x1="216.3" x2="341.1" y1="253.87" y2="253.87" stroke="#d2d2d2" stroke-width="1.4"/><line x1="216.3" x2="341.1" y1="229.27" y2="229.27" stroke="#d2d2d2" stroke-width="1.4"/><line x1="216.3" x2="341.1" y1="204.67" y2="204.67" stroke="#d2d2d2" stroke-width="1.4"/><line x1="221.3" x2="221.3" y1="200.77" y2="281.47" stroke="#d2d2d2" stroke-width="1.4"/><line x1="249.85" x2="249.85" y1="200.77" y2="281.47" stroke="#d2d2d2" stroke-width="1.4"/><line x1="278.4" x2="278.4" y1="200.77" y2="281.47" stroke="#d2d2d2" stroke-width="1.4"/><line x1="306.95" x2="306.95" y1="200.77" y2="281.47" stroke="#d2d2d2" stroke-width="1.4"/><line x1="335.5" x2="335.5" y1="200.77" y2="281.47" stroke="#d2d2d2" stroke-width="1.4"/>
<polygon points="222.16,268.63 223.3,263.71 223.87,254.85 225.01,248.95 228.15,237.63 231.29,233.34 237,230.81 241.86,225.73 246.99,221.92 253.28,215.57 259.27,211.07 268.12,210.57 272.98,208.61 283.54,210.08 292.39,209.59 298.38,213.03 306.09,216.42 312.09,221.07 317.23,225.3 322.08,230.81 326.08,237.63 330.93,246.49 333.5,249.93 334.64,262.73 334.64,268.63 333.7,266.69 332.76,263.97 331.82,261.84 330.88,260.09 329.94,258.63 329,257.4 328.07,256.37 327.13,255.5 326.19,254.79 325.25,254.21 324.31,253.77 323.37,253.45 322.43,253.24 321.49,253.15 320.55,253.18 319.61,253.32 318.67,253.57 317.73,253.95 316.79,254.45 315.85,255.09 314.91,255.87 313.97,256.8 313.03,257.92 312.09,258.3 304.67,253.87 298.38,248.95 290.96,245.01 282.97,236.65 274.4,237.63 268.12,240.09 261.56,243.54 255.56,248.95 249.56,253.87 244.14,256.82 243.22,257.25 242.31,256.26 241.39,255.43 240.48,254.75 239.56,254.19 238.64,253.76 237.73,253.45 236.81,253.25 235.9,253.15 234.98,253.17 234.06,253.3 233.15,253.53 232.23,253.88 231.32,254.35 230.4,254.94 229.48,255.66 228.57,256.54 227.65,257.57 226.74,258.8 225.82,260.25 224.9,261.99 223.99,264.09 223.07,266.77" fill="#000" stroke="#000" stroke-width="0.8" stroke-linejoin="round"/><path d="M257.13,213h0.01M333.08,252.39h0.01M287.21,210.39h0.01M292.27,208.88h0.01M327.47,240.78h0.01M227.03,241.2h0.01M304.92,215.84h0.01M323.68,232.06h0.01M328.07,241.74h0.01M316.95,225.17h0.01M226.45,245.74h0.01M335.06,265.08h0.01M298.92,213.18h0.01M332.56,248h0.01M226.63,241.75h0.01M305.95,216.72h0.01M223.43,265.15h0.01M315.09,224.53h0.01M285.9,209.48h0.01M249.07,220.08h0.01M224.11,260.68h0.01M319.43,227.62h0.01M226.54,244.97h0.01M318.24,226.58h0.01M328.91,242.05h0.01M266.87,209.89h0.01M260.76,211.32h0.01M242.6,226.05h0.01M242.92,224.94h0.01M333.17,255.45h0.01M318.79,226.78h0.01M228.1,238.99h0.01M307.26,217.21h0.01M290.65,210.07h0.01M235.91,231.01h0.01M334,267.71h0.01M286.4,209.87h0.01M333.03,249.12h0.01M294.92,210.41h0.01M280.27,209.4h0.01M315.8,223.91h0.01M279.48,209.31h0.01M310.09,218.27h0.01M247.69,222.59h0.01M298.34,211.84h0.01M242.57,224.71h0.01M323.79,233.61h0.01M277.8,209.12h0.01M229.16,236.03h0.01M278.06,208.85h0.01M223.98,258.03h0.01M313.81,221.94h0.01M230.9,233.66h0.01M255.44,215.19h0.01M235.34,231.3h0.01M226.67,241.22h0.01M223.46,263.41h0.01M223.24,263.53h0.01M258.04,212.74h0.01M293.55,209.84h0.01M290.48,209.37h0.01M228.31,236.37h0.01M324.75,234.37h0.01M314.15,222.76h0.01M224.81,254.68h0.01M307.38,216.93h0.01M324.1,233.79h0.01M252.91,215.91h0.01M228.35,240.35h0.01M248.47,220.54h0.01M301.37,252.02h0.01M310.8,256.67h0.01M305.95,253.32h0.01M262.43,242.65h0.01M267.52,241.62h0.01M275.64,237.18h0.01M277.58,238.03h0.01M281.4,237.58h0.01M305.4,255.21h0.01M295.03,247.3h0.01M289.34,243.76h0.01M302.05,252.06h0.01M302,251.43h0.01M270.61,238.57h0.01M244.79,256.05h0.01M306.1,255.95h0.01M274.79,237.47h0.01M257.33,247.69h0.01M255.49,248.95h0.01M284.82,237.36h0.01M287.8,240.77h0.01M287.48,241.64h0.01M305.35,253.29h0.01M291.25,243.64h0.01M310.14,257.04h0.01M307.91,255.88h0.01M273.37,238.16h0.01M286.63,240.51h0.01M307.52,254.51h0.01M281.5,237.14h0.01M269.89,239.52h0.01M304.4,253.99h0.01M290.58,245.01h0.01M310.99,258.06h0.01M278.79,237.51h0.01M221.3,278.47h0.01M222.73,268.14h0.01M246.71,261.74h0.01M251.28,260.76h0.01M335.5,278.47h0.01M334.07,268.14h0.01M290.96,246.49h0.01M256.43,208.24h0.01M255.09,213.54h0.01M285.34,206.67h0.01M257.04,209.06h0.01M258.38,209.55h0.01M295.87,211.39h0.01M254.97,212.78h0.01" stroke="#000" stroke-width="2.9" stroke-linecap="round" fill="none"/>
</g>
<rect x="216.3" y="200.77" width="124.8" height="80.7" fill="none" stroke="#1e1e1e" stroke-width="1.15"/>
<rect x="216.3" y="180.37" width="124.8" height="20.4" fill="#fff" stroke="#1e1e1e" stroke-width="1.15"/>
<line x1="216.3" x2="341.1" y1="200.77" y2="200.77" stroke="#1e1e1e" stroke-width="2.0"/>
<text transform="translate(278.7,195.37) scale(1,1.08)" font-size="12.6" text-anchor="middle" fill="#1a1a1a" >Logistic</text>
<line x1="221.3" x2="221.3" y1="281.47" y2="286.77" stroke="#1e1e1e" stroke-width="1.9"/>
<text transform="translate(221.3,300.27) scale(1,1.1)" font-size="12.35" text-anchor="middle" fill="#1a1a1a" >1</text>
<line x1="249.85" x2="249.85" y1="281.47" y2="286.77" stroke="#1e1e1e" stroke-width="1.9"/>
<text transform="translate(249.85,300.27) scale(1,1.1)" font-size="12.35" text-anchor="middle" fill="#1a1a1a" >2</text>
<line x1="278.4" x2="278.4" y1="281.47" y2="286.77" stroke="#1e1e1e" stroke-width="1.9"/>
<text transform="translate(278.4,300.27) scale(1,1.1)" font-size="12.35" text-anchor="middle" fill="#1a1a1a" >3</text>
<line x1="306.95" x2="306.95" y1="281.47" y2="286.77" stroke="#1e1e1e" stroke-width="1.9"/>
<text transform="translate(306.95,300.27) scale(1,1.1)" font-size="12.35" text-anchor="middle" fill="#1a1a1a" >4</text>
<line x1="335.5" x2="335.5" y1="281.47" y2="286.77" stroke="#1e1e1e" stroke-width="1.9"/>
<text transform="translate(335.5,300.27) scale(1,1.1)" font-size="12.35" text-anchor="middle" fill="#1a1a1a" >5</text>
<g clip-path="url(#c12)"><line x1="352" x2="476.8" y1="266.17" y2="266.17" stroke="#dedede" stroke-width="1.0"/><line x1="352" x2="476.8" y1="241.57" y2="241.57" stroke="#dedede" stroke-width="1.0"/><line x1="352" x2="476.8" y1="216.97" y2="216.97" stroke="#dedede" stroke-width="1.0"/><line x1="371.27" x2="371.27" y1="200.77" y2="281.47" stroke="#dedede" stroke-width="1.0"/><line x1="399.82" x2="399.82" y1="200.77" y2="281.47" stroke="#dedede" stroke-width="1.0"/><line x1="428.38" x2="428.38" y1="200.77" y2="281.47" stroke="#dedede" stroke-width="1.0"/><line x1="456.93" x2="456.93" y1="200.77" y2="281.47" stroke="#dedede" stroke-width="1.0"/><line x1="352" x2="476.8" y1="278.47" y2="278.47" stroke="#d2d2d2" stroke-width="1.4"/><line x1="352" x2="476.8" y1="253.87" y2="253.87" stroke="#d2d2d2" stroke-width="1.4"/><line x1="352" x2="476.8" y1="229.27" y2="229.27" stroke="#d2d2d2" stroke-width="1.4"/><line x1="352" x2="476.8" y1="204.67" y2="204.67" stroke="#d2d2d2" stroke-width="1.4"/><line x1="357" x2="357" y1="200.77" y2="281.47" stroke="#d2d2d2" stroke-width="1.4"/><line x1="385.55" x2="385.55" y1="200.77" y2="281.47" stroke="#d2d2d2" stroke-width="1.4"/><line x1="414.1" x2="414.1" y1="200.77" y2="281.47" stroke="#d2d2d2" stroke-width="1.4"/><line x1="442.65" x2="442.65" y1="200.77" y2="281.47" stroke="#d2d2d2" stroke-width="1.4"/><line x1="471.2" x2="471.2" y1="200.77" y2="281.47" stroke="#d2d2d2" stroke-width="1.4"/>
<polygon points="364.14,256.33 366.71,249.93 367.28,241.08 369.85,233.77 374.13,228.69 377.84,223.61 382.98,220.23 387.83,215.57 395.26,212.05 404.11,211.56 409.25,209.59 422.09,210.08 431.8,212.05 438.08,215.15 444.36,218.96 449.5,223.19 454.07,227.84 455.78,230.81 458.07,237.63 460.64,243.54 462.06,249.93 464.06,256.33 463.36,255.97 462.66,255.36 461.96,254.84 461.26,254.39 460.55,254.01 459.85,253.71 459.15,253.47 458.45,253.3 457.75,253.19 457.04,253.15 456.34,253.17 455.64,253.25 454.94,253.4 454.24,253.62 453.53,253.9 452.83,254.25 452.13,254.68 451.43,255.18 450.73,255.76 450.03,256.43 449.32,257.19 448.62,258.06 447.92,259.05 447.22,259.28 442.65,258.3 438.94,256.33 434.37,247.47 426.95,242.55 419.52,238.13 412.1,236.16 406.68,239.6 397.83,242.55 391.55,247.47 384.12,256.33 380.98,259.77 380.28,259.05 379.58,258.06 378.88,257.19 378.17,256.43 377.47,255.76 376.77,255.18 376.07,254.68 375.37,254.25 374.67,253.9 373.96,253.62 373.26,253.4 372.56,253.25 371.86,253.17 371.16,253.15 370.45,253.19 369.75,253.3 369.05,253.47 368.35,253.71 367.65,254.01 366.94,254.39 366.24,254.84 365.54,255.36 364.84,255.97" fill="#000" stroke="#000" stroke-width="0.8" stroke-linejoin="round"/><path d="M434.75,213.37h0.01M376.36,224.81h0.01M459.81,240.89h0.01M365.95,252.69h0.01M365.88,253.26h0.01M420.56,210.67h0.01M455.6,228.96h0.01M442.03,217.88h0.01M462,250.29h0.01M367.6,241.54h0.01M454.44,228.01h0.01M462.38,252.85h0.01M455.33,230.96h0.01M425.27,210.59h0.01M376.79,225.17h0.01M377.61,224.61h0.01M433.53,213.42h0.01M375.06,228.41h0.01M435.3,213.7h0.01M446.3,220.76h0.01M463.18,254.31h0.01M440.9,215.85h0.01M377.37,224.92h0.01M381.79,222.36h0.01M458.11,239.07h0.01M398.53,211.61h0.01M381.15,222.08h0.01M379.95,221.08h0.01M398.96,213.56h0.01M415.17,209.9h0.01M366.98,239.54h0.01M402.54,211.86h0.01M462.58,255.52h0.01M458.38,236.23h0.01M439.66,216.25h0.01M434.98,213.76h0.01M407.69,210.27h0.01M380.64,221.56h0.01M460.9,243.17h0.01M434.07,213.1h0.01M449.09,223.42h0.01M418.66,209.94h0.01M366.17,253.13h0.01M456.11,232.12h0.01M458.7,238.56h0.01M412.22,210.03h0.01M450.68,224.4h0.01M421.08,211.06h0.01M402.39,212.27h0.01M446.27,220.83h0.01M463.53,255.19h0.01M416.53,210.1h0.01M389.55,214.42h0.01M376.79,226.23h0.01M377.76,224.29h0.01M367.01,246.77h0.01M376.4,227.52h0.01M423.51,210.69h0.01M454.63,228.88h0.01M402.95,211.85h0.01M445.37,219.06h0.01M366.86,242.09h0.01M457.62,236.63h0.01M405.63,211.03h0.01M379.7,222.45h0.01M457.45,236.21h0.01M464.71,255.1h0.01M461.25,245.27h0.01M411.52,210.17h0.01M365.79,248.89h0.01M396.44,243.2h0.01M409.96,238.09h0.01M418.56,237.6h0.01M399.17,242.19h0.01M417.52,237.42h0.01M419.79,238.85h0.01M389.82,249.72h0.01M390.54,247.52h0.01M395.1,246.01h0.01M394.49,244.33h0.01M407.58,238.39h0.01M442.16,258.68h0.01M393.97,245.56h0.01M398.45,243h0.01M383.31,255.7h0.01M447.21,259.37h0.01M397.26,243.31h0.01M438.16,255.42h0.01M436.41,251.14h0.01M446.13,259h0.01M435.74,251.26h0.01M442.41,258.27h0.01M386.53,252.88h0.01M422.19,239.43h0.01M424.33,241.6h0.01M439.88,256.58h0.01M408.41,238.54h0.01M433.79,246.96h0.01M431.45,245.7h0.01M382.45,259.65h0.01M438.74,256.44h0.01M420.81,239.01h0.01M400.16,241.49h0.01M437.92,253.61h0.01M395.98,245.07h0.01M389.26,261.74h0.01M424.94,207.08h0.01M397.44,208.6h0.01M390.12,214.02h0.01M410.94,207.27h0.01M451.69,220.07h0.01M402.06,208.66h0.01M424.33,206.86h0.01" stroke="#000" stroke-width="2.9" stroke-linecap="round" fill="none"/>
</g>
<rect x="352" y="200.77" width="124.8" height="80.7" fill="none" stroke="#1e1e1e" stroke-width="1.15"/>
<rect x="352" y="180.37" width="124.8" height="20.4" fill="#fff" stroke="#1e1e1e" stroke-width="1.15"/>
<line x1="352" x2="476.8" y1="200.77" y2="200.77" stroke="#1e1e1e" stroke-width="2.0"/>
<text transform="translate(414.4,195.37) scale(1,1.08)" font-size="12.6" text-anchor="middle" fill="#1a1a1a" >Uniform</text>
<line x1="357" x2="357" y1="281.47" y2="286.77" stroke="#1e1e1e" stroke-width="1.9"/>
<text transform="translate(357,300.27) scale(1,1.1)" font-size="12.35" text-anchor="middle" fill="#1a1a1a" >1</text>
<line x1="385.55" x2="385.55" y1="281.47" y2="286.77" stroke="#1e1e1e" stroke-width="1.9"/>
<text transform="translate(385.55,300.27) scale(1,1.1)" font-size="12.35" text-anchor="middle" fill="#1a1a1a" >2</text>
<line x1="414.1" x2="414.1" y1="281.47" y2="286.77" stroke="#1e1e1e" stroke-width="1.9"/>
<text transform="translate(414.1,300.27) scale(1,1.1)" font-size="12.35" text-anchor="middle" fill="#1a1a1a" >3</text>
<line x1="442.65" x2="442.65" y1="281.47" y2="286.77" stroke="#1e1e1e" stroke-width="1.9"/>
<text transform="translate(442.65,300.27) scale(1,1.1)" font-size="12.35" text-anchor="middle" fill="#1a1a1a" >4</text>
<line x1="471.2" x2="471.2" y1="281.47" y2="286.77" stroke="#1e1e1e" stroke-width="1.9"/>
<text transform="translate(471.2,300.27) scale(1,1.1)" font-size="12.35" text-anchor="middle" fill="#1a1a1a" >5</text>
<g clip-path="url(#c13)"><line x1="487.7" x2="612.5" y1="266.17" y2="266.17" stroke="#dedede" stroke-width="1.0"/><line x1="487.7" x2="612.5" y1="241.57" y2="241.57" stroke="#dedede" stroke-width="1.0"/><line x1="487.7" x2="612.5" y1="216.97" y2="216.97" stroke="#dedede" stroke-width="1.0"/><line x1="506.97" x2="506.97" y1="200.77" y2="281.47" stroke="#dedede" stroke-width="1.0"/><line x1="535.52" x2="535.52" y1="200.77" y2="281.47" stroke="#dedede" stroke-width="1.0"/><line x1="564.07" x2="564.07" y1="200.77" y2="281.47" stroke="#dedede" stroke-width="1.0"/><line x1="592.62" x2="592.62" y1="200.77" y2="281.47" stroke="#dedede" stroke-width="1.0"/><line x1="487.7" x2="612.5" y1="278.47" y2="278.47" stroke="#d2d2d2" stroke-width="1.4"/><line x1="487.7" x2="612.5" y1="253.87" y2="253.87" stroke="#d2d2d2" stroke-width="1.4"/><line x1="487.7" x2="612.5" y1="229.27" y2="229.27" stroke="#d2d2d2" stroke-width="1.4"/><line x1="487.7" x2="612.5" y1="204.67" y2="204.67" stroke="#d2d2d2" stroke-width="1.4"/><line x1="492.7" x2="492.7" y1="200.77" y2="281.47" stroke="#d2d2d2" stroke-width="1.4"/><line x1="521.25" x2="521.25" y1="200.77" y2="281.47" stroke="#d2d2d2" stroke-width="1.4"/><line x1="549.8" x2="549.8" y1="200.77" y2="281.47" stroke="#d2d2d2" stroke-width="1.4"/><line x1="578.35" x2="578.35" y1="200.77" y2="281.47" stroke="#d2d2d2" stroke-width="1.4"/><line x1="606.9" x2="606.9" y1="200.77" y2="281.47" stroke="#d2d2d2" stroke-width="1.4"/>
<polygon points="493.84,268.14 494.7,263.71 496.7,254.85 497.84,247.47 500.98,237.63 504.98,231.65 507.83,229.11 512.4,223.61 517.82,221.07 522.96,215.57 530.39,213.46 539.24,212.05 547.8,211.56 554.37,211.56 563.22,211.56 568.36,214.3 575.78,216.42 583.2,221.07 589.48,225.3 594.34,231.65 598.05,238.62 602.05,247.47 604.33,257.81 605.76,268.14 604.81,265.75 603.85,263.22 602.9,261.2 601.95,259.54 601,258.15 600.05,256.99 599.1,256.01 598.14,255.2 597.19,254.53 596.24,254.01 595.29,253.61 594.34,253.34 593.39,253.19 592.43,253.15 591.48,253.23 590.53,253.43 589.58,253.75 588.63,254.2 587.68,254.78 586.72,255.5 585.77,256.38 584.82,257.43 583.87,258.68 582.92,259.28 576.92,254.85 569.5,247.47 563.22,246.49 559.51,241.08 553.23,237.63 547.8,238.62 541.52,241.08 532.96,243.54 526.67,249.93 517.82,256.33 516.68,259.77 515.73,258.68 514.78,257.43 513.83,256.38 512.88,255.5 511.92,254.78 510.97,254.2 510.02,253.75 509.07,253.43 508.12,253.23 507.17,253.15 506.21,253.19 505.26,253.34 504.31,253.61 503.36,254.01 502.41,254.53 501.46,255.2 500.5,256.01 499.55,256.99 498.6,258.15 497.65,259.54 496.7,261.2 495.75,263.22 494.79,265.75" fill="#000" stroke="#000" stroke-width="0.8" stroke-linejoin="round"/><path d="M495.14,261.07h0.01M542.43,211.06h0.01M541.07,211.94h0.01M536.76,213.04h0.01M558.08,211.02h0.01M501.73,236.58h0.01M527.95,214.63h0.01M548.96,210.89h0.01M550.36,211.34h0.01M496.75,259.96h0.01M598.46,241.2h0.01M554.39,212.15h0.01M565.3,211.99h0.01M496.58,250.91h0.01M602.35,250.74h0.01M583.96,222.09h0.01M594.44,231.16h0.01M526.37,215.3h0.01M604.77,262.56h0.01M548.9,210.33h0.01M586.83,223h0.01M567.62,213.92h0.01M496.85,252.68h0.01M596.66,235.5h0.01M539.38,212.05h0.01M603.08,250.98h0.01M589.55,224.55h0.01M601.69,248.44h0.01M549.97,211.26h0.01M599.41,240.56h0.01M585.43,222.57h0.01M603.49,257.26h0.01M563.18,212.22h0.01M602.96,252.99h0.01M502.56,236.73h0.01M584.95,221.6h0.01M604.8,261.1h0.01M504.18,232.36h0.01M506.26,230.4h0.01M494.12,263.13h0.01M552.4,211.05h0.01M604.21,259.22h0.01M498.58,244.93h0.01M493.97,266.81h0.01M571.03,215.52h0.01M494.03,265.84h0.01M511.25,226.01h0.01M582.21,220.56h0.01M511.5,224.16h0.01M575.92,216.61h0.01M499.37,243.91h0.01M544.84,211.4h0.01M578.31,218.66h0.01M540.23,211.6h0.01M558.72,210.99h0.01M586.21,223.46h0.01M505.59,231.4h0.01M597.12,236.97h0.01M498.17,248.49h0.01M603.15,250.94h0.01M604.77,264.97h0.01M552.56,212.13h0.01M542.63,212.28h0.01M539.27,212.32h0.01M595.62,234.99h0.01M593.91,230.81h0.01M518.11,220.53h0.01M541.79,212.99h0.01M507.86,228.13h0.01M496.07,260.51h0.01M569.89,248.1h0.01M578.15,255.84h0.01M576.72,255.28h0.01M577.33,255.4h0.01M575.6,252.71h0.01M524.06,251.61h0.01M567.38,247.43h0.01M562.22,245.89h0.01M544.6,239.8h0.01M561.09,242.99h0.01M549.03,238.05h0.01M561.59,244.54h0.01M561.47,244.59h0.01M579.49,257.01h0.01M537.68,242.75h0.01M572.81,251.14h0.01M528.68,247.81h0.01M518.7,255.44h0.01M576.63,253.65h0.01M530.67,245.74h0.01M522.25,253.27h0.01M574.35,251.95h0.01M560.98,243.53h0.01M558.31,239.64h0.01M536.04,242.21h0.01M559.98,240.54h0.01M546.42,238.86h0.01M545.25,239.23h0.01M517.23,258.19h0.01M516.78,256.81h0.01M521.89,253.21h0.01M522.86,252.23h0.01M561.91,245.46h0.01M529.88,246.6h0.01M535.41,243.01h0.01M492.7,278.47h0.01M493.84,268.14h0.01M606.9,278.47h0.01M605.76,268.14h0.01M514.88,220.91h0.01M580.89,218.71h0.01M580.59,218.1h0.01M518.17,217.72h0.01M571.31,212.09h0.01M574.71,214.35h0.01M554.63,209.18h0.01" stroke="#000" stroke-width="2.9" stroke-linecap="round" fill="none"/>
</g>
<rect x="487.7" y="200.77" width="124.8" height="80.7" fill="none" stroke="#1e1e1e" stroke-width="1.15"/>
<rect x="487.7" y="180.37" width="124.8" height="20.4" fill="#fff" stroke="#1e1e1e" stroke-width="1.15"/>
<line x1="487.7" x2="612.5" y1="200.77" y2="200.77" stroke="#1e1e1e" stroke-width="2.0"/>
<text transform="translate(550.1,195.37) scale(1,1.08)" font-size="12.6" text-anchor="middle" fill="#1a1a1a" >Bimodal Normal</text>
<line x1="492.7" x2="492.7" y1="281.47" y2="286.77" stroke="#1e1e1e" stroke-width="1.9"/>
<text transform="translate(492.7,300.27) scale(1,1.1)" font-size="12.35" text-anchor="middle" fill="#1a1a1a" >1</text>
<line x1="521.25" x2="521.25" y1="281.47" y2="286.77" stroke="#1e1e1e" stroke-width="1.9"/>
<text transform="translate(521.25,300.27) scale(1,1.1)" font-size="12.35" text-anchor="middle" fill="#1a1a1a" >2</text>
<line x1="549.8" x2="549.8" y1="281.47" y2="286.77" stroke="#1e1e1e" stroke-width="1.9"/>
<text transform="translate(549.8,300.27) scale(1,1.1)" font-size="12.35" text-anchor="middle" fill="#1a1a1a" >3</text>
<line x1="578.35" x2="578.35" y1="281.47" y2="286.77" stroke="#1e1e1e" stroke-width="1.9"/>
<text transform="translate(578.35,300.27) scale(1,1.1)" font-size="12.35" text-anchor="middle" fill="#1a1a1a" >4</text>
<line x1="606.9" x2="606.9" y1="281.47" y2="286.77" stroke="#1e1e1e" stroke-width="1.9"/>
<text transform="translate(606.9,300.27) scale(1,1.1)" font-size="12.35" text-anchor="middle" fill="#1a1a1a" >5</text>
<g clip-path="url(#c14)"><line x1="623.4" x2="748.2" y1="266.17" y2="266.17" stroke="#dedede" stroke-width="1.0"/><line x1="623.4" x2="748.2" y1="241.57" y2="241.57" stroke="#dedede" stroke-width="1.0"/><line x1="623.4" x2="748.2" y1="216.97" y2="216.97" stroke="#dedede" stroke-width="1.0"/><line x1="642.67" x2="642.67" y1="200.77" y2="281.47" stroke="#dedede" stroke-width="1.0"/><line x1="671.23" x2="671.23" y1="200.77" y2="281.47" stroke="#dedede" stroke-width="1.0"/><line x1="699.77" x2="699.77" y1="200.77" y2="281.47" stroke="#dedede" stroke-width="1.0"/><line x1="728.32" x2="728.32" y1="200.77" y2="281.47" stroke="#dedede" stroke-width="1.0"/><line x1="623.4" x2="748.2" y1="278.47" y2="278.47" stroke="#d2d2d2" stroke-width="1.4"/><line x1="623.4" x2="748.2" y1="253.87" y2="253.87" stroke="#d2d2d2" stroke-width="1.4"/><line x1="623.4" x2="748.2" y1="229.27" y2="229.27" stroke="#d2d2d2" stroke-width="1.4"/><line x1="623.4" x2="748.2" y1="204.67" y2="204.67" stroke="#d2d2d2" stroke-width="1.4"/><line x1="628.4" x2="628.4" y1="200.77" y2="281.47" stroke="#d2d2d2" stroke-width="1.4"/><line x1="656.95" x2="656.95" y1="200.77" y2="281.47" stroke="#d2d2d2" stroke-width="1.4"/><line x1="685.5" x2="685.5" y1="200.77" y2="281.47" stroke="#d2d2d2" stroke-width="1.4"/><line x1="714.05" x2="714.05" y1="200.77" y2="281.47" stroke="#d2d2d2" stroke-width="1.4"/><line x1="742.6" x2="742.6" y1="200.77" y2="281.47" stroke="#d2d2d2" stroke-width="1.4"/>
<polygon points="665.8,232.92 665.8,228.27 669.51,221.92 672.65,217.69 675.51,211.07 684.36,208.61 692.35,210.08 696.92,209.1 703.77,213.46 711.19,215.57 718.62,221.07 724.04,225.73 726.04,230.38 731.18,236.16 734.89,245.01 737.46,252.39 741.17,268.14 740.24,264.99 739.32,262.68 738.39,260.8 737.46,259.24 736.53,257.93 735.61,256.83 734.68,255.9 733.75,255.12 732.82,254.49 731.89,253.98 730.97,253.6 730.04,253.34 729.11,253.19 728.18,253.15 727.25,253.22 726.33,253.41 725.4,253.71 724.47,254.13 723.54,254.67 722.62,255.35 721.69,256.17 720.76,257.15 719.83,258.31 718.9,259.28 712.62,257.81 708.63,251.41 700.06,246.49 691.21,240.09 681.22,238.62 672.65,240.09 665.8,232.71" fill="#000" stroke="#000" stroke-width="0.8" stroke-linejoin="round"/><path d="M699.86,211.32h0.01M674.58,213.38h0.01M671.34,219.86h0.01M713.53,216.68h0.01M697.01,209.99h0.01M692.22,210.33h0.01M723.05,224.88h0.01M669.66,222.01h0.01M723.81,225.39h0.01M697.33,210.22h0.01M675.13,212.27h0.01M666.13,226.15h0.01M704.53,213.64h0.01M731.2,236.44h0.01M735.35,247.16h0.01M715.51,219.28h0.01M734.02,242.96h0.01M735.44,246.23h0.01M673.62,215.57h0.01M731.87,238.2h0.01M740.81,267.75h0.01M670.16,221.16h0.01M722.41,224.09h0.01M666.3,226.92h0.01M674.11,212.2h0.01M722.94,225.65h0.01M685.11,208.69h0.01M727.36,231.89h0.01M736.42,248.49h0.01M740.04,263.56h0.01M713.06,216.11h0.01M715.63,219.19h0.01M687.62,209.66h0.01M739.87,261.35h0.01M739.44,261.09h0.01M703.75,212.74h0.01M669.47,222.69h0.01M684.6,208.62h0.01M681.02,208.87h0.01M667.99,224.91h0.01M673.08,217.39h0.01M679.34,209.51h0.01M690.23,210.26h0.01M739.54,257.61h0.01M739.03,259.77h0.01M698.84,209.62h0.01M727.13,232.09h0.01M727.85,232.37h0.01M689.19,209.48h0.01M672.03,218.65h0.01M670.89,219.82h0.01M724.4,227.02h0.01M738.37,257.86h0.01M727.36,232.8h0.01M689.93,208.98h0.01M665.87,230.64h0.01M666.37,231.2h0.01M737.19,250.73h0.01M703.96,212.58h0.01M735.64,247.55h0.01M673.15,216.94h0.01M734.18,243.45h0.01M673.66,213.34h0.01M708.28,213.95h0.01M737.18,253.29h0.01M706.45,213.8h0.01M675.68,210.86h0.01M724.72,227.27h0.01M678.92,210.14h0.01M685.33,208.5h0.01M666.13,232.53h0.01M673.09,239.37h0.01M682.82,237.9h0.01M683.99,239.04h0.01M698.14,245.94h0.01M707.01,251.34h0.01M715.79,259.23h0.01M692.62,240.91h0.01M686.98,239.77h0.01M711.87,257.26h0.01M716.69,258.77h0.01M707.06,250.68h0.01M693.84,241.54h0.01M677.55,238.92h0.01M667.19,234.12h0.01M705.67,249.62h0.01M709.29,251.6h0.01M696.93,245.05h0.01M687.74,239.2h0.01M703.98,247.37h0.01M695.77,243.45h0.01M713.97,258.47h0.01M680.09,239.74h0.01M695.97,243.47h0.01M704.31,248.8h0.01M666.24,232.89h0.01M666.4,233.68h0.01M696.69,244.63h0.01M683.83,239.05h0.01M699.91,246.62h0.01M673.53,240.31h0.01M704.25,248.22h0.01M681.91,238.32h0.01M699.18,245.22h0.01M700.12,246.07h0.01M666.37,221.89h0.01M666.37,236.16h0.01M724.33,221.89h0.01M684.53,205.35h0.01M683.31,206.56h0.01M669.73,219.59h0.01M711.55,212.52h0.01M684.99,206.64h0.01M720.87,218.6h0.01M692.76,208.29h0.01" stroke="#000" stroke-width="2.9" stroke-linecap="round" fill="none"/>
</g>
<rect x="623.4" y="200.77" width="124.8" height="80.7" fill="none" stroke="#1e1e1e" stroke-width="1.15"/>
<rect x="623.4" y="180.37" width="124.8" height="20.4" fill="#fff" stroke="#1e1e1e" stroke-width="1.15"/>
<line x1="623.4" x2="748.2" y1="200.77" y2="200.77" stroke="#1e1e1e" stroke-width="2.0"/>
<text transform="translate(685.8,195.37) scale(1,1.08)" font-size="12.6" text-anchor="middle" fill="#1a1a1a" >Half Normal</text>
<line x1="628.4" x2="628.4" y1="281.47" y2="286.77" stroke="#1e1e1e" stroke-width="1.9"/>
<text transform="translate(628.4,300.27) scale(1,1.1)" font-size="12.35" text-anchor="middle" fill="#1a1a1a" >1</text>
<line x1="656.95" x2="656.95" y1="281.47" y2="286.77" stroke="#1e1e1e" stroke-width="1.9"/>
<text transform="translate(656.95,300.27) scale(1,1.1)" font-size="12.35" text-anchor="middle" fill="#1a1a1a" >2</text>
<line x1="685.5" x2="685.5" y1="281.47" y2="286.77" stroke="#1e1e1e" stroke-width="1.9"/>
<text transform="translate(685.5,300.27) scale(1,1.1)" font-size="12.35" text-anchor="middle" fill="#1a1a1a" >3</text>
<line x1="714.05" x2="714.05" y1="281.47" y2="286.77" stroke="#1e1e1e" stroke-width="1.9"/>
<text transform="translate(714.05,300.27) scale(1,1.1)" font-size="12.35" text-anchor="middle" fill="#1a1a1a" >4</text>
<line x1="742.6" x2="742.6" y1="281.47" y2="286.77" stroke="#1e1e1e" stroke-width="1.9"/>
<text transform="translate(742.6,300.27) scale(1,1.1)" font-size="12.35" text-anchor="middle" fill="#1a1a1a" >5</text>
<g clip-path="url(#c20)"><line x1="80.6" x2="205.4" y1="447.49" y2="447.49" stroke="#dedede" stroke-width="1.0"/><line x1="80.6" x2="205.4" y1="423.59" y2="423.59" stroke="#dedede" stroke-width="1.0"/><line x1="80.6" x2="205.4" y1="399.69" y2="399.69" stroke="#dedede" stroke-width="1.0"/><line x1="80.6" x2="205.4" y1="375.79" y2="375.79" stroke="#dedede" stroke-width="1.0"/><line x1="96.3" x2="96.3" y1="368.34" y2="449.04" stroke="#dedede" stroke-width="1.0"/><line x1="126.9" x2="126.9" y1="368.34" y2="449.04" stroke="#dedede" stroke-width="1.0"/><line x1="157.5" x2="157.5" y1="368.34" y2="449.04" stroke="#dedede" stroke-width="1.0"/><line x1="188.1" x2="188.1" y1="368.34" y2="449.04" stroke="#dedede" stroke-width="1.0"/><line x1="80.6" x2="205.4" y1="435.54" y2="435.54" stroke="#d2d2d2" stroke-width="1.4"/><line x1="80.6" x2="205.4" y1="411.64" y2="411.64" stroke="#d2d2d2" stroke-width="1.4"/><line x1="80.6" x2="205.4" y1="387.74" y2="387.74" stroke="#d2d2d2" stroke-width="1.4"/><line x1="81" x2="81" y1="368.34" y2="449.04" stroke="#d2d2d2" stroke-width="1.4"/><line x1="111.6" x2="111.6" y1="368.34" y2="449.04" stroke="#d2d2d2" stroke-width="1.4"/><line x1="142.2" x2="142.2" y1="368.34" y2="449.04" stroke="#d2d2d2" stroke-width="1.4"/><line x1="172.8" x2="172.8" y1="368.34" y2="449.04" stroke="#d2d2d2" stroke-width="1.4"/><line x1="203.4" x2="203.4" y1="368.34" y2="449.04" stroke="#d2d2d2" stroke-width="1.4"/>
<polygon points="85.59,442.06 87.01,441.26 88.44,440.44 89.86,439.6 91.29,438.74 92.71,437.86 94.14,436.96 95.56,436.04 96.99,435.17 98.41,434.35 99.84,433.51 101.26,432.65 102.69,431.76 104.11,430.85 105.54,429.92 106.96,428.97 108.39,427.99 109.81,426.99 111.24,425.97 112.66,424.87 114.09,423.73 115.51,422.56 116.94,421.37 118.36,420.16 119.79,418.93 121.21,417.69 122.64,416.42 124.06,415.13 125.48,413.83 126.91,412.51 128.33,411.37 129.76,410.21 131.18,409.03 132.61,407.85 134.03,406.66 135.46,405.45 136.88,404.24 138.31,403.03 139.73,401.81 141.16,400.59 142.58,399.42 144.01,398.42 145.43,397.42 146.86,396.43 148.28,395.44 149.71,394.45 151.13,393.48 152.56,392.51 153.98,391.56 155.41,390.61 156.83,389.68 158.26,388.86 159.68,388.13 161.11,387.41 162.53,386.71 163.95,386.03 165.38,385.37 166.8,384.73 168.23,384.11 169.65,383.52 171.08,382.94 172.5,382.39 173.93,381.83 175.35,381.29 176.78,380.77 178.2,380.27 179.63,379.8 181.05,379.35 182.48,378.92 183.9,378.51 185.33,378.13 186.75,377.77 188.18,377.43 189.6,377.25 191.03,377.1 192.45,376.96 193.88,376.85 195.3,376.75 196.73,376.67 198.15,376.61 199.57,376.79 199.57,379.66 198.15,380.25 196.73,381.08 195.3,381.93 193.88,382.8 192.45,383.69 191.03,384.6 189.6,385.52 188.18,386.47 186.75,387.31 185.33,388.16 183.9,389.04 182.48,389.93 181.05,390.85 179.63,391.79 178.2,392.76 176.78,393.74 175.35,394.75 173.93,395.78 172.5,396.84 171.08,397.95 169.65,399.08 168.23,400.24 166.8,401.41 165.38,402.61 163.95,403.83 162.53,405.06 161.11,406.32 159.68,407.59 158.26,408.88 156.83,410.1 155.41,411.26 153.98,412.42 152.56,413.6 151.13,414.79 149.71,415.98 148.28,417.19 146.86,418.4 145.43,419.62 144.01,420.84 142.58,422.07 141.16,423.13 139.73,424.13 138.31,425.12 136.88,426.12 135.46,427.11 134.03,428.09 132.61,429.06 131.18,430.02 129.76,430.97 128.33,431.91 126.91,432.83 125.48,433.55 124.06,434.25 122.64,434.93 121.21,435.6 119.79,436.25 118.36,436.88 116.94,437.48 115.51,438.07 114.09,438.64 112.66,439.18 111.24,439.72 109.81,440.3 108.39,440.85 106.96,441.38 105.54,441.89 104.11,442.38 102.69,442.84 101.26,443.28 99.84,443.7 98.41,444.09 96.99,444.47 95.56,444.75 94.14,444.93 92.71,445.1 91.29,445.25 89.86,445.38 88.44,445.49 87.01,445.58 85.59,445.65" fill="#666666"/><path d="M144.29,397.16h0.01M152.8,413.7h0.01M95.99,444.73h0.01M122.19,435.63h0.01M192.89,383.46h0.01M118.24,419.99h0.01M142.84,422.25h0.01M185.75,388.07h0.01M96.41,444.91h0.01M177.36,393.47h0.01M135.32,404.19h0.01M166.31,384.65h0.01M88.99,440.04h0.01M154.86,389.75h0.01M133.61,428.95h0.01M164.2,385.86h0.01M198.92,376.41h0.01M125.68,433.47h0.01M148.61,416.97h0.01M145.68,420.1h0.01M103.15,442.83h0.01M159,388.34h0.01M96.9,444.5h0.01M165.86,402.83h0.01M188.33,386.52h0.01M180.95,379.34h0.01M127.08,412.15h0.01M178.18,393.03h0.01M155.14,411.73h0.01M170.15,398.97h0.01M133.19,406.94h0.01M162.77,386h0.01M87.3,441.07h0.01M165.79,403.25h0.01M94.76,445.34h0.01M176.05,380.86h0.01M118.79,436.97h0.01M167.57,384.19h0.01M113.72,423.35h0.01M171.84,397.82h0.01M111,440.12h0.01M94.77,436.34h0.01M128.96,432.08h0.01M154.66,391.09h0.01M178.33,380.14h0.01M152.01,414.77h0.01M116.91,437.72h0.01M120.99,417.52h0.01M176.23,380.86h0.01M145.43,395.76h0.01M147.55,419.16h0.01M179.39,379.81h0.01M186.14,377.48h0.01M131,430.72h0.01M134.17,429.15h0.01M183.64,389.36h0.01M130.8,431.41h0.01M153.67,391.45h0.01M117.78,437.71h0.01M162.69,386.48h0.01M147.89,395.5h0.01M143.09,398.84h0.01M174.85,395.11h0.01M140.56,423.67h0.01M146.49,418.85h0.01M198.09,376.54h0.01M143.72,422.32h0.01M101.42,443.42h0.01M121.34,436.51h0.01M189.16,385.83h0.01M173.65,381.87h0.01M105.31,429.46h0.01M139.76,401.63h0.01M184.74,388.67h0.01M92.44,437.79h0.01M134.82,405.9h0.01M116.89,421.05h0.01M175.5,394.95h0.01M195.17,382.1h0.01M166.24,384.59h0.01M99.26,433.5h0.01M155.44,390.41h0.01M158.62,388.48h0.01M158.19,388.73h0.01M140.87,400.39h0.01M180.18,392.03h0.01M137.87,403.29h0.01M112.88,439.29h0.01M123.5,434.96h0.01M171.86,397.66h0.01M120.25,436.56h0.01M148.92,416.73h0.01M166.1,403.02h0.01M153.89,391.09h0.01M128.22,411.04h0.01M147.42,395.55h0.01M108.46,441.14h0.01M97.69,444.66h0.01M133.28,429.08h0.01M170.9,382.75h0.01M156.49,410.7h0.01M106.28,441.7h0.01M92.47,445.15h0.01M187.98,386.77h0.01M108.38,440.91h0.01M190.9,376.51h0.01M183.78,378.3h0.01M132.02,429.84h0.01M149.23,392.52h0.01M94.18,436.7h0.01M97.28,444.42h0.01M148.08,417.57h0.01M195.8,376.63h0.01M180.77,391.41h0.01M128.81,410.34h0.01M189.49,376.85h0.01M163.57,405.24h0.01M109.94,440.81h0.01M171.04,381.88h0.01M198.63,376.42h0.01M192.74,383.57h0.01M88.56,445.52h0.01M162.48,386.63h0.01M190.92,377.01h0.01M154,412.59h0.01M88.25,445.76h0.01M121.1,417.72h0.01M94.29,436.84h0.01M98.9,434.07h0.01M136.33,404.34h0.01M90.89,445.5h0.01M121.25,437h0.01M153.94,412.5h0.01M179.11,392.24h0.01M194.48,382.59h0.01M97.43,445.18h0.01M133.9,405.96h0.01M121.24,417.23h0.01M89.54,445.65h0.01M193.54,383.22h0.01M182.43,378.6h0.01M173.89,381.71h0.01M101.39,432.46h0.01M192.08,376.59h0.01M160.17,387.56h0.01M113.51,423.74h0.01M110.15,440.6h0.01M151.67,414.93h0.01M94.78,436.42h0.01M113.09,423.71h0.01M158.42,387.91h0.01M123.12,435.24h0.01M183.8,378.47h0.01M87.2,445.61h0.01M132.97,407.18h0.01M90.23,439.37h0.01M142.45,399.09h0.01M125.5,433.99h0.01M178.53,379.84h0.01M169.33,382.44h0.01M101.93,432.12h0.01M116.12,437.93h0.01M162.56,386.1h0.01M121.65,435.93h0.01M110.24,426.59h0.01M104.31,442.46h0.01M124.11,414.66h0.01M127.96,410.49h0.01M133.02,406.45h0.01M159.35,407.98h0.01M192,376.81h0.01M181.05,379.3h0.01M154.91,389.93h0.01M111.7,439.72h0.01M160.09,387.72h0.01M135.17,428.09h0.01M108.7,441.05h0.01M143.21,421.55h0.01M87.64,445.77h0.01M166.03,383.62h0.01M94.7,436.39h0.01M109.71,440.8h0.01M155.76,411.77h0.01M118.13,420.14h0.01M96.98,445.01h0.01M118.99,436.91h0.01M142.83,397.46h0.01M157.19,389.17h0.01M126.11,412.87h0.01M171.99,397.34h0.01M151.79,392.14h0.01M183.07,378.07h0.01M127.31,433.2h0.01M143.91,398.44h0.01M102.05,443.33h0.01M124.42,434.23h0.01M137.45,425.74h0.01M196.6,381.18h0.01M178.56,380.13h0.01M133.03,407.06h0.01M99.05,444.2h0.01M177.28,393.53h0.01M168.66,400.38h0.01M91.39,445.42h0.01M93.64,437.21h0.01M132.71,407.1h0.01M191.21,376.94h0.01M188.39,377.11h0.01M153.65,413.45h0.01M154.5,390.42h0.01M196.57,381.48h0.01M172.41,381.77h0.01M171.79,382.62h0.01M126.56,412.57h0.01M145.12,420.82h0.01M110.09,426.54h0.01M139.19,425.83h0.01M124.23,434.91h0.01M172.87,381.66h0.01M85.84,445.87h0.01" stroke="#666666" stroke-width="1.4" stroke-linecap="round" fill="none"/><path d="M152.79,407.11h0.01M170.95,396.33h0.01M150.48,408.92h0.01M144.68,396.08h0.01M125.6,425.13h0.01M133.01,422.29h0.01M180.37,390.12h0.01M156.45,402.38h0.01" stroke="#666666" stroke-width="1.3" stroke-linecap="round" fill="none"/><polyline points="85.59,444.45 85.71,444.42 85.86,444.37 86.05,444.31 86.26,444.25 86.48,444.18 86.7,444.11 86.92,444.05 87.12,443.98 87.31,443.92 87.5,443.86 87.69,443.8 87.88,443.74 88.08,443.68 88.27,443.62 88.46,443.56 88.65,443.49 88.84,443.43 89.03,443.37 89.22,443.3 89.41,443.24 89.61,443.18 89.8,443.11 89.99,443.05 90.18,442.98 90.37,442.92 90.56,442.85 90.75,442.78 90.94,442.72 91.14,442.65 91.33,442.58 91.52,442.51 91.71,442.45 91.9,442.38 92.09,442.31 92.28,442.24 92.47,442.17 92.67,442.1 92.86,442.03 93.05,441.96 93.24,441.89 93.43,441.82 93.62,441.74 93.81,441.67 94,441.6 94.2,441.53 94.39,441.45 94.58,441.38 94.77,441.31 94.96,441.23 95.15,441.16 95.34,441.08 95.53,441.01 95.73,440.93 95.92,440.85 96.11,440.78 96.3,440.7 96.49,440.62 96.68,440.54 96.87,440.47 97.06,440.39 97.26,440.31 97.45,440.23 97.64,440.15 97.83,440.07 98.02,439.99 98.21,439.91 98.4,439.83 98.59,439.74 98.79,439.66 98.98,439.58 99.17,439.5 99.36,439.41 99.55,439.33 99.74,439.25 99.93,439.16 100.12,439.08 100.32,438.99 100.51,438.91 100.7,438.82 100.89,438.73 101.08,438.65 101.27,438.56 101.46,438.47 101.65,438.38 101.85,438.29 102.04,438.21 102.23,438.12 102.42,438.03 102.61,437.94 102.8,437.85 102.99,437.75 103.18,437.66 103.38,437.57 103.57,437.48 103.76,437.39 103.95,437.29 104.14,437.2 104.33,437.11 104.52,437.01 104.71,436.92 104.91,436.82 105.1,436.73 105.29,436.63 105.48,436.54 105.67,436.44 105.86,436.34 106.05,436.24 106.24,436.15 106.44,436.05 106.63,435.95 106.82,435.85 107.01,435.75 107.2,435.65 107.39,435.55 107.58,435.45 107.77,435.35 107.97,435.25 108.16,435.14 108.35,435.04 108.54,434.94 108.73,434.84 108.92,434.73 109.11,434.63 109.3,434.52 109.5,434.42 109.69,434.31 109.88,434.21 110.07,434.1 110.26,434 110.45,433.89 110.64,433.78 110.83,433.67 111.03,433.57 111.22,433.46 111.41,433.35 111.6,433.24 111.79,433.13 111.98,433.02 112.17,432.91 112.36,432.8 112.56,432.69 112.75,432.57 112.94,432.46 113.13,432.35 113.32,432.24 113.51,432.12 113.7,432.01 113.89,431.9 114.09,431.78 114.28,431.67 114.47,431.55 114.66,431.43 114.85,431.32 115.04,431.2 115.23,431.09 115.42,430.97 115.62,430.85 115.81,430.73 116,430.61 116.19,430.5 116.38,430.38 116.57,430.26 116.76,430.14 116.95,430.02 117.15,429.9 117.34,429.77 117.53,429.65 117.72,429.53 117.91,429.41 118.1,429.29 118.29,429.16 118.48,429.04 118.68,428.92 118.87,428.79 119.06,428.67 119.25,428.54 119.44,428.42 119.63,428.29 119.82,428.17 120.01,428.04 120.21,427.91 120.4,427.79 120.59,427.66 120.78,427.53 120.97,427.4 121.16,427.28 121.35,427.15 121.54,427.02 121.74,426.89 121.93,426.76 122.12,426.63 122.31,426.5 122.5,426.37 122.69,426.24 122.88,426.1 123.07,425.97 123.27,425.84 123.46,425.71 123.65,425.58 123.84,425.44 124.03,425.31 124.22,425.18 124.41,425.04 124.6,424.91 124.8,424.77 124.99,424.64 125.18,424.5 125.37,424.37 125.56,424.23 125.75,424.1 125.94,423.96 126.13,423.82 126.33,423.69 126.52,423.55 126.71,423.41 126.9,423.28 127.09,423.14 127.28,423 127.47,422.86 127.66,422.72 127.86,422.58 128.05,422.44 128.24,422.3 128.43,422.16 128.62,422.02 128.81,421.88 129,421.74 129.19,421.6 129.39,421.46 129.58,421.32 129.77,421.18 129.96,421.04 130.15,420.89 130.34,420.75 130.53,420.61 130.72,420.47 130.92,420.32 131.11,420.18 131.3,420.04 131.49,419.9 131.68,419.75 131.87,419.61 132.06,419.46 132.25,419.32 132.45,419.17 132.64,419.03 132.83,418.89 133.02,418.74 133.21,418.6 133.4,418.45 133.59,418.3 133.78,418.16 133.98,418.01 134.17,417.87 134.36,417.72 134.55,417.57 134.74,417.43 134.93,417.28 135.12,417.13 135.31,416.99 135.51,416.84 135.7,416.69 135.89,416.55 136.08,416.4 136.27,416.25 136.46,416.1 136.65,415.96 136.84,415.81 137.04,415.66 137.23,415.51 137.42,415.36 137.61,415.22 137.8,415.07 137.99,414.92 138.18,414.77 138.38,414.62 138.57,414.47 138.76,414.33 138.95,414.18 139.14,414.03 139.33,413.88 139.52,413.73 139.71,413.58 139.91,413.43 140.1,413.28 140.29,413.13 140.48,412.98 140.67,412.83 140.86,412.69 141.05,412.54 141.24,412.39 141.44,412.24 141.63,412.09 141.82,411.94 142.01,411.79 142.2,411.64 142.39,411.49 142.58,411.34 142.77,411.19 142.96,411.04 143.16,410.89 143.35,410.74 143.54,410.59 143.73,410.45 143.92,410.3 144.11,410.15 144.3,410 144.49,409.85 144.69,409.7 144.88,409.55 145.07,409.4 145.26,409.25 145.45,409.1 145.64,408.95 145.83,408.81 146.02,408.66 146.22,408.51 146.41,408.36 146.6,408.21 146.79,408.06 146.98,407.92 147.17,407.77 147.36,407.62 147.55,407.47 147.75,407.32 147.94,407.18 148.13,407.03 148.32,406.88 148.51,406.73 148.7,406.59 148.89,406.44 149.08,406.29 149.28,406.15 149.47,406 149.66,405.85 149.85,405.71 150.04,405.56 150.23,405.41 150.42,405.27 150.61,405.12 150.81,404.98 151,404.83 151.19,404.68 151.38,404.54 151.57,404.39 151.76,404.25 151.95,404.11 152.14,403.96 152.34,403.82 152.53,403.67 152.72,403.53 152.91,403.38 153.1,403.24 153.29,403.1 153.48,402.96 153.67,402.81 153.87,402.67 154.06,402.53 154.25,402.39 154.44,402.24 154.63,402.1 154.82,401.96 155.01,401.82 155.2,401.68 155.4,401.54 155.59,401.4 155.78,401.26 155.97,401.12 156.16,400.98 156.35,400.84 156.54,400.7 156.73,400.56 156.93,400.42 157.12,400.28 157.31,400.14 157.5,400 157.69,399.87 157.88,399.73 158.07,399.59 158.26,399.46 158.46,399.32 158.65,399.18 158.84,399.05 159.03,398.91 159.22,398.78 159.41,398.64 159.6,398.51 159.79,398.37 159.99,398.24 160.18,398.1 160.37,397.97 160.56,397.84 160.75,397.7 160.94,397.57 161.13,397.44 161.32,397.31 161.52,397.18 161.71,397.04 161.9,396.91 162.09,396.78 162.28,396.65 162.47,396.52 162.66,396.39 162.85,396.26 163.05,396.13 163.24,396 163.43,395.88 163.62,395.75 163.81,395.62 164,395.49 164.19,395.37 164.38,395.24 164.58,395.11 164.77,394.99 164.96,394.86 165.15,394.74 165.34,394.61 165.53,394.49 165.72,394.36 165.91,394.24 166.11,394.12 166.3,393.99 166.49,393.87 166.68,393.75 166.87,393.63 167.06,393.51 167.25,393.38 167.44,393.26 167.64,393.14 167.83,393.02 168.02,392.9 168.21,392.78 168.4,392.67 168.59,392.55 168.78,392.43 168.97,392.31 169.17,392.19 169.36,392.08 169.55,391.96 169.74,391.85 169.93,391.73 170.12,391.61 170.31,391.5 170.5,391.38 170.7,391.27 170.89,391.16 171.08,391.04 171.27,390.93 171.46,390.82 171.65,390.71 171.84,390.59 172.03,390.48 172.23,390.37 172.42,390.26 172.61,390.15 172.8,390.04 172.99,389.93 173.18,389.82 173.37,389.71 173.56,389.61 173.76,389.5 173.95,389.39 174.14,389.28 174.33,389.18 174.52,389.07 174.71,388.97 174.9,388.86 175.09,388.76 175.29,388.65 175.48,388.55 175.67,388.44 175.86,388.34 176.05,388.24 176.24,388.14 176.43,388.03 176.62,387.93 176.82,387.83 177.01,387.73 177.2,387.63 177.39,387.53 177.58,387.43 177.77,387.33 177.96,387.23 178.15,387.13 178.35,387.04 178.54,386.94 178.73,386.84 178.92,386.74 179.11,386.65 179.3,386.55 179.49,386.46 179.69,386.36 179.88,386.27 180.07,386.17 180.26,386.08 180.45,385.99 180.64,385.89 180.83,385.8 181.02,385.71 181.21,385.62 181.41,385.53 181.6,385.43 181.79,385.34 181.98,385.25 182.17,385.16 182.36,385.07 182.55,384.99 182.75,384.9 182.94,384.81 183.13,384.72 183.32,384.63 183.51,384.55 183.7,384.46 183.89,384.37 184.08,384.29 184.27,384.2 184.47,384.12 184.66,384.03 184.85,383.95 185.04,383.87 185.23,383.78 185.42,383.7 185.61,383.62 185.8,383.54 186,383.45 186.19,383.37 186.38,383.29 186.57,383.21 186.76,383.13 186.95,383.05 187.14,382.97 187.33,382.89 187.53,382.81 187.72,382.74 187.91,382.66 188.1,382.58 188.29,382.5 188.48,382.43 188.67,382.35 188.86,382.27 189.06,382.2 189.25,382.12 189.44,382.05 189.63,381.97 189.82,381.9 190.01,381.83 190.2,381.75 190.39,381.68 190.59,381.61 190.78,381.54 190.97,381.46 191.16,381.39 191.35,381.32 191.54,381.25 191.73,381.18 191.92,381.11 192.12,381.04 192.31,380.97 192.5,380.9 192.69,380.83 192.88,380.77 193.07,380.7 193.26,380.63 193.45,380.56 193.65,380.5 193.84,380.43 194.03,380.36 194.22,380.3 194.41,380.23 194.6,380.17 194.79,380.1 194.98,380.04 195.18,379.98 195.37,379.91 195.56,379.85 195.75,379.79 195.94,379.72 196.13,379.66 196.32,379.6 196.51,379.54 196.71,379.48 196.9,379.42 197.09,379.36 197.28,379.3 197.48,379.23 197.7,379.17 197.92,379.1 198.14,379.03 198.35,378.97 198.54,378.91 198.69,378.86 198.81,378.83" fill="none" stroke="#000" stroke-width="2.1" stroke-linejoin="round" stroke-linecap="round"/>
</g>
<rect x="80.6" y="368.34" width="124.8" height="80.7" fill="none" stroke="#1e1e1e" stroke-width="1.15"/>
<rect x="80.6" y="347.94" width="124.8" height="20.4" fill="#fff" stroke="#1e1e1e" stroke-width="1.15"/>
<line x1="80.6" x2="205.4" y1="368.34" y2="368.34" stroke="#1e1e1e" stroke-width="2.0"/>
<text transform="translate(143,362.94) scale(1,1.08)" font-size="12.6" text-anchor="middle" fill="#1a1a1a" >Normal</text>
<line x1="81" x2="81" y1="449.04" y2="454.34" stroke="#1e1e1e" stroke-width="1.9"/>
<text transform="translate(81,467.84) scale(1,1.1)" font-size="12.35" text-anchor="middle" fill="#1a1a1a" >-4</text>
<line x1="111.6" x2="111.6" y1="449.04" y2="454.34" stroke="#1e1e1e" stroke-width="1.9"/>
<text transform="translate(111.6,467.84) scale(1,1.1)" font-size="12.35" text-anchor="middle" fill="#1a1a1a" >-2</text>
<line x1="142.2" x2="142.2" y1="449.04" y2="454.34" stroke="#1e1e1e" stroke-width="1.9"/>
<text transform="translate(142.2,467.84) scale(1,1.1)" font-size="12.35" text-anchor="middle" fill="#1a1a1a" >0</text>
<line x1="172.8" x2="172.8" y1="449.04" y2="454.34" stroke="#1e1e1e" stroke-width="1.9"/>
<text transform="translate(172.8,467.84) scale(1,1.1)" font-size="12.35" text-anchor="middle" fill="#1a1a1a" >2</text>
<line x1="203.4" x2="203.4" y1="449.04" y2="454.34" stroke="#1e1e1e" stroke-width="1.9"/>
<text transform="translate(203.4,467.84) scale(1,1.1)" font-size="12.35" text-anchor="middle" fill="#1a1a1a" >4</text>
<line x1="75.3" x2="80.6" y1="435.54" y2="435.54" stroke="#1e1e1e" stroke-width="1.9"/>
<text transform="translate(71.5,440.29) scale(1,1.1)" font-size="12.35" text-anchor="end" fill="#1a1a1a" >-2</text>
<line x1="75.3" x2="80.6" y1="411.64" y2="411.64" stroke="#1e1e1e" stroke-width="1.9"/>
<text transform="translate(71.5,416.39) scale(1,1.1)" font-size="12.35" text-anchor="end" fill="#1a1a1a" >0</text>
<line x1="75.3" x2="80.6" y1="387.74" y2="387.74" stroke="#1e1e1e" stroke-width="1.9"/>
<text transform="translate(71.5,392.49) scale(1,1.1)" font-size="12.35" text-anchor="end" fill="#1a1a1a" >2</text>
<g clip-path="url(#c21)"><line x1="216.3" x2="341.1" y1="447.49" y2="447.49" stroke="#dedede" stroke-width="1.0"/><line x1="216.3" x2="341.1" y1="423.59" y2="423.59" stroke="#dedede" stroke-width="1.0"/><line x1="216.3" x2="341.1" y1="399.69" y2="399.69" stroke="#dedede" stroke-width="1.0"/><line x1="216.3" x2="341.1" y1="375.79" y2="375.79" stroke="#dedede" stroke-width="1.0"/><line x1="241.45" x2="241.45" y1="368.34" y2="449.04" stroke="#dedede" stroke-width="1.0"/><line x1="269.15" x2="269.15" y1="368.34" y2="449.04" stroke="#dedede" stroke-width="1.0"/><line x1="296.85" x2="296.85" y1="368.34" y2="449.04" stroke="#dedede" stroke-width="1.0"/><line x1="324.55" x2="324.55" y1="368.34" y2="449.04" stroke="#dedede" stroke-width="1.0"/><line x1="216.3" x2="341.1" y1="435.54" y2="435.54" stroke="#d2d2d2" stroke-width="1.4"/><line x1="216.3" x2="341.1" y1="411.64" y2="411.64" stroke="#d2d2d2" stroke-width="1.4"/><line x1="216.3" x2="341.1" y1="387.74" y2="387.74" stroke="#d2d2d2" stroke-width="1.4"/><line x1="227.6" x2="227.6" y1="368.34" y2="449.04" stroke="#d2d2d2" stroke-width="1.4"/><line x1="255.3" x2="255.3" y1="368.34" y2="449.04" stroke="#d2d2d2" stroke-width="1.4"/><line x1="283" x2="283" y1="368.34" y2="449.04" stroke="#d2d2d2" stroke-width="1.4"/><line x1="310.7" x2="310.7" y1="368.34" y2="449.04" stroke="#d2d2d2" stroke-width="1.4"/><line x1="338.4" x2="338.4" y1="368.34" y2="449.04" stroke="#d2d2d2" stroke-width="1.4"/>
<polygon points="247.54,434.56 248.4,434.42 249.25,434.26 250.1,434.08 250.95,433.89 251.8,433.68 252.65,433.45 253.51,433.2 254.36,431.73 255.21,431.43 256.06,431.11 256.91,430.76 257.77,430.38 258.62,429.97 259.47,429.52 260.32,429.05 261.17,428.54 262.02,428 262.88,427.42 263.73,426.8 264.58,426.15 265.43,425.45 266.28,424.72 267.13,423.95 267.99,423.14 268.84,422.29 269.69,421.41 270.54,420.48 271.39,419.53 272.25,418.53 273.1,417.51 273.95,416.46 274.8,415.38 275.65,414.28 276.5,413.17 277.36,412.03 278.21,410.89 279.06,409.74 279.91,408.59 280.76,407.44 281.62,406.3 282.47,405.18 283.32,404.07 284.17,402.98 285.02,401.93 285.87,400.9 286.73,399.91 287.58,398.96 288.43,398.04 289.28,397.17 290.13,396.34 290.98,395.56 291.84,394.82 292.69,394.13 293.54,393.48 294.39,392.88 295.24,392.31 296.1,391.8 296.95,391.31 297.8,390.87 298.65,390.46 299.5,390.09 300.35,389.74 301.21,389.43 302.06,389.14 302.91,388.87 303.76,388.63 304.61,388.41 305.46,388.2 306.32,388.01 307.17,387.84 308.02,387.69 308.87,387.54 309.72,387.69 310.58,388.48 311.43,388.36 312.28,388.26 313.13,388.16 313.98,388.07 314.83,387.98 315.69,387.9 315.69,388.9 314.83,389.06 313.98,389.23 313.13,389.43 312.28,389.64 311.43,389.87 310.58,390.13 309.72,391.31 308.87,391.9 308.02,392.23 307.17,392.59 306.32,392.97 305.46,393.39 304.61,393.84 303.76,394.33 302.91,394.85 302.06,395.42 301.21,396.01 300.35,396.65 299.5,397.33 298.65,398.05 297.8,398.82 296.95,399.62 296.1,400.47 295.24,401.36 294.39,402.29 293.54,403.25 292.69,404.26 291.84,405.3 290.98,406.37 290.13,407.47 289.28,408.6 288.43,409.75 287.58,410.92 286.73,412.11 285.87,413.3 285.02,414.5 284.17,415.69 283.32,416.87 282.47,418.05 281.62,419.2 280.76,420.34 279.91,421.44 279.06,422.51 278.21,423.55 277.36,424.54 276.5,425.5 275.65,426.41 274.8,427.27 273.95,428.08 273.1,428.84 272.25,429.56 271.39,430.22 270.54,430.84 269.69,431.41 268.84,431.94 267.99,432.42 267.13,432.86 266.28,433.27 265.43,433.63 264.58,433.97 263.73,434.27 262.88,434.55 262.02,434.8 261.17,435.02 260.32,435.23 259.47,435.41 258.62,435.58 257.77,435.73 256.91,435.86 256.06,435.99 255.21,436.1 254.36,436.21 253.51,435.11 252.65,435.2 251.8,435.28 250.95,435.35 250.1,435.42 249.25,435.49 248.4,435.55 247.54,435.61" fill="#666666"/><path d="M253.49,435.23h0.01M289.42,408.95h0.01M311.47,388.32h0.01M293.61,403.46h0.01M302.52,395.12h0.01M276.75,425.32h0.01M298.86,390.34h0.01M276.83,412.34h0.01M311.39,389.92h0.01M269.52,421.55h0.01M257.46,430.32h0.01M309.36,387.28h0.01M256.86,436.01h0.01M285.94,413.23h0.01M262.34,434.71h0.01M296.06,391.78h0.01M281.11,420.35h0.01M259.86,429h0.01M261.54,428.2h0.01M272.27,430.28h0.01M301.49,395.85h0.01M301.98,388.87h0.01M288.04,398.11h0.01M281.43,406.29h0.01M277.34,411.47h0.01M257.83,430.19h0.01M299.06,390.22h0.01M293.47,403.41h0.01M312.83,388.18h0.01M266.46,424.39h0.01M286.99,399.25h0.01M252.22,435.35h0.01M265.15,433.82h0.01M300.04,389.25h0.01M299.34,397.54h0.01M250.78,433.87h0.01M264.31,434.26h0.01M298.75,398.25h0.01M297.24,399.34h0.01M292.62,404.38h0.01M303.48,388.67h0.01M278.22,410.75h0.01M300.13,396.99h0.01M253.69,432.99h0.01M308.22,387.45h0.01M298.74,390.34h0.01M274.41,415.58h0.01M283.69,403.3h0.01M274.1,428.73h0.01M248.78,434.33h0.01M296.23,391.68h0.01M256.93,435.89h0.01M298.25,398.96h0.01M275.92,426.3h0.01M312.8,388.16h0.01M277.52,424.56h0.01M277.32,424.71h0.01M314.08,388.04h0.01M294.54,392.54h0.01M260.03,429.18h0.01M296.07,391.29h0.01M296.21,400.77h0.01M266.19,424.61h0.01M299.28,397.53h0.01M288.21,397.66h0.01M290.97,395.15h0.01M285.09,414.77h0.01M254.57,431.47h0.01M262.53,434.67h0.01M291.45,395.13h0.01M263.21,427.1h0.01M310.88,388.37h0.01M272.32,429.54h0.01M264.54,434.18h0.01M275.98,412.92h0.01M281.47,406.25h0.01M273.15,417.29h0.01M276.31,413.25h0.01M266.11,424.29h0.01M311.53,389.88h0.01M314.52,389.13h0.01M262.82,427.31h0.01M297.51,390.65h0.01M305.76,388.01h0.01M305.74,387.99h0.01M249.7,435.54h0.01M285.04,414.59h0.01M273.89,416.41h0.01M288.5,397.87h0.01M249.49,435.48h0.01M283.43,417.43h0.01M311.37,388.25h0.01M270.01,420.92h0.01M298.47,390.51h0.01M308.8,387.54h0.01M306.92,387.78h0.01M298.08,390.72h0.01M296.78,391.24h0.01M315.16,387.94h0.01M250.18,435.43h0.01M313.41,388.11h0.01M251.27,433.77h0.01M272.73,417.82h0.01M250.03,435.48h0.01M262.19,427.87h0.01M311.77,389.79h0.01M280.74,406.72h0.01M295.16,401.61h0.01M300.02,396.96h0.01M263.51,434.57h0.01M287.35,399.12h0.01M307.36,387.77h0.01M284.64,415.08h0.01M290.54,395.92h0.01M257.99,430.16h0.01M297.21,399.45h0.01M305.22,393.7h0.01M269.81,431.36h0.01M308.76,392.18h0.01M248.5,435.57h0.01" stroke="#666666" stroke-width="1.4" stroke-linecap="round" fill="none"/><path d="M246.62,435.49h0.01M241.59,435.39h0.01M222.9,435.47h0.01M222.39,435.94h0.01M244.43,435.88h0.01M253.71,435.55h0.01M254.85,435.93h0.01M247.96,435.29h0.01M254.33,434.99h0.01M228.59,435.44h0.01M225.4,435.91h0.01M253.81,435.8h0.01M233.46,435.51h0.01M254.22,435.59h0.01M231.03,435.66h0.01M222.46,435.57h0.01M221.22,435.79h0.01M248.98,435.72h0.01M250.19,435.95h0.01M227.85,435.33h0.01M251.21,435.54h0.01M234.15,434.97h0.01M235.66,435.62h0.01M223.52,435.55h0.01M239.67,435.56h0.01M234.92,435.61h0.01M233.66,435.4h0.01M224.06,436.25h0.01M239.63,435.21h0.01M253.32,435.29h0.01M245.22,435.6h0.01M224.26,435.57h0.01M229.18,435.43h0.01M253.9,435.48h0.01M232.9,435.2h0.01M247.59,435.76h0.01M252.31,435.61h0.01M237.08,435.75h0.01M234.35,435.47h0.01M240.45,435.53h0.01M324.31,387.05h0.01M332.02,387.44h0.01M323.11,387.76h0.01M311.59,387.6h0.01M311.2,387.56h0.01M321.85,387.3h0.01M312.37,387.33h0.01M326.55,387.29h0.01M311.56,387.02h0.01M321.72,387.34h0.01M311.29,387.12h0.01M335.1,387.48h0.01M327.59,387.61h0.01M313.32,387.45h0.01M335.85,387.57h0.01M314.49,387.31h0.01M326.21,387.14h0.01M331.71,387.41h0.01M328.92,387.73h0.01M329.77,387.41h0.01M334.87,387.25h0.01M317.01,387.35h0.01M312.45,387.43h0.01M316.39,387.13h0.01M323.7,386.85h0.01M329.31,387.36h0.01M313.4,387.29h0.01M314.42,386.99h0.01M329.82,387.06h0.01M328.42,387.3h0.01M324.8,387.22h0.01M336.35,387.93h0.01M312.08,387.5h0.01M330.08,387.37h0.01M316.06,387.34h0.01M311.11,387.31h0.01M317.51,387.28h0.01M332.04,387.11h0.01M329.47,387.46h0.01M330.98,387.22h0.01" stroke="#666666" stroke-width="1.1" stroke-linecap="round" fill="none"/><polyline points="221.73,416.3 222.23,416.91 222.91,417.75 223.72,418.75 224.61,419.85 225.53,420.98 226.44,422.08 227.27,423.09 227.99,423.95 228.59,424.66 229.14,425.31 229.65,425.9 230.12,426.44 230.58,426.94 231.03,427.42 231.49,427.9 231.98,428.37 232.48,428.83 232.99,429.27 233.49,429.69 234,430.09 234.51,430.47 235.01,430.85 235.52,431.22 236.02,431.6 236.52,431.97 237.02,432.35 237.52,432.71 238.02,433.08 238.52,433.42 239.01,433.75 239.51,434.06 240.01,434.34 240.51,434.6 241.01,434.83 241.51,435.04 242,435.23 242.5,435.41 243,435.58 243.5,435.74 244,435.9 244.5,436.05 245,436.2 245.49,436.34 245.99,436.47 246.49,436.58 246.99,436.69 247.49,436.78 247.99,436.85 248.49,436.91 248.98,436.96 249.48,436.99 249.98,437 250.48,437.01 250.97,437.01 251.47,436.99 251.98,436.97 252.48,436.95 252.98,436.92 253.49,436.89 254,436.84 254.51,436.78 255.01,436.71 255.52,436.61 256.02,436.5 256.52,436.36 257.02,436.2 257.52,436.02 258.02,435.83 258.52,435.62 259.01,435.41 259.51,435.18 260.01,434.94 260.51,434.7 261.01,434.45 261.5,434.19 262,433.92 262.5,433.63 263,433.33 263.5,433.01 264,432.67 264.5,432.31 264.99,431.94 265.49,431.54 265.99,431.13 266.48,430.71 266.98,430.26 267.48,429.8 267.99,429.33 268.49,428.83 269.01,428.3 269.52,427.75 270.04,427.19 270.55,426.62 271.07,426.04 271.58,425.47 272.09,424.9 272.6,424.33 273.13,423.74 273.66,423.14 274.19,422.54 274.71,421.96 275.2,421.39 275.66,420.86 276.07,420.36 276.44,419.93 276.74,419.55 277.01,419.21 277.26,418.89 277.5,418.57 277.76,418.22 278.06,417.83 278.4,417.38 278.8,416.85 279.25,416.27 279.72,415.65 280.21,415.01 280.71,414.35 281.2,413.7 281.67,413.07 282.11,412.48 282.53,411.91 282.93,411.36 283.33,410.82 283.71,410.29 284.09,409.76 284.46,409.24 284.84,408.71 285.22,408.17 285.59,407.63 285.97,407.09 286.34,406.55 286.71,406 287.08,405.46 287.45,404.92 287.83,404.39 288.21,403.87 288.59,403.36 288.98,402.85 289.37,402.34 289.76,401.84 290.15,401.35 290.54,400.86 290.93,400.39 291.31,399.93 291.68,399.48 292.05,399.05 292.41,398.64 292.77,398.23 293.13,397.82 293.51,397.41 293.89,397 294.3,396.58 294.73,396.15 295.18,395.71 295.65,395.27 296.12,394.83 296.6,394.39 297.08,393.95 297.55,393.53 298.01,393.12 298.47,392.71 298.93,392.31 299.38,391.91 299.83,391.52 300.29,391.14 300.73,390.78 301.18,390.44 301.61,390.13 302.05,389.84 302.47,389.58 302.9,389.34 303.32,389.11 303.74,388.9 304.15,388.71 304.57,388.52 304.99,388.34 305.42,388.16 305.84,388 306.26,387.86 306.69,387.72 307.11,387.59 307.53,387.47 307.95,387.36 308.37,387.26 308.79,387.17 309.21,387.09 309.62,387.02 310.04,386.96 310.45,386.9 310.87,386.86 311.28,386.82 311.7,386.78 312.11,386.76 312.53,386.74 312.94,386.73 313.36,386.72 313.77,386.73 314.19,386.74 314.6,386.76 315.02,386.78 315.44,386.82 315.86,386.85 316.29,386.9 316.71,386.95 317.13,387.01 317.56,387.08 317.98,387.16 318.4,387.26 318.82,387.37 319.24,387.5 319.65,387.63 320.07,387.78 320.48,387.93 320.9,388.1 321.31,388.27 321.72,388.46 322.14,388.65 322.54,388.85 322.95,389.06 323.36,389.28 323.76,389.51 324.17,389.75 324.58,389.99 324.99,390.25 325.41,390.52 325.83,390.8 326.25,391.09 326.68,391.38 327.1,391.69 327.53,392 327.95,392.32 328.37,392.64 328.79,392.96 329.21,393.3 329.62,393.63 330.03,393.98 330.45,394.32 330.86,394.68 331.28,395.03 331.7,395.39 332.14,395.77 332.62,396.19 333.11,396.62 333.59,397.05 334.05,397.46 334.47,397.83 334.81,398.14 335.08,398.38" fill="none" stroke="#000" stroke-width="2.1" stroke-linejoin="round" stroke-linecap="round"/>
</g>
<rect x="216.3" y="368.34" width="124.8" height="80.7" fill="none" stroke="#1e1e1e" stroke-width="1.15"/>
<rect x="216.3" y="347.94" width="124.8" height="20.4" fill="#fff" stroke="#1e1e1e" stroke-width="1.15"/>
<line x1="216.3" x2="341.1" y1="368.34" y2="368.34" stroke="#1e1e1e" stroke-width="2.0"/>
<text transform="translate(278.7,362.94) scale(1,1.08)" font-size="12.6" text-anchor="middle" fill="#1a1a1a" >Logistic</text>
<line x1="227.6" x2="227.6" y1="449.04" y2="454.34" stroke="#1e1e1e" stroke-width="1.9"/>
<text transform="translate(227.6,467.84) scale(1,1.1)" font-size="12.35" text-anchor="middle" fill="#1a1a1a" >-10</text>
<line x1="255.3" x2="255.3" y1="449.04" y2="454.34" stroke="#1e1e1e" stroke-width="1.9"/>
<text transform="translate(255.3,467.84) scale(1,1.1)" font-size="12.35" text-anchor="middle" fill="#1a1a1a" >-5</text>
<line x1="283" x2="283" y1="449.04" y2="454.34" stroke="#1e1e1e" stroke-width="1.9"/>
<text transform="translate(283,467.84) scale(1,1.1)" font-size="12.35" text-anchor="middle" fill="#1a1a1a" >0</text>
<line x1="310.7" x2="310.7" y1="449.04" y2="454.34" stroke="#1e1e1e" stroke-width="1.9"/>
<text transform="translate(310.7,467.84) scale(1,1.1)" font-size="12.35" text-anchor="middle" fill="#1a1a1a" >5</text>
<line x1="338.4" x2="338.4" y1="449.04" y2="454.34" stroke="#1e1e1e" stroke-width="1.9"/>
<text transform="translate(338.4,467.84) scale(1,1.1)" font-size="12.35" text-anchor="middle" fill="#1a1a1a" >10</text>
<g clip-path="url(#c22)"><line x1="352" x2="476.8" y1="447.49" y2="447.49" stroke="#dedede" stroke-width="1.0"/><line x1="352" x2="476.8" y1="423.59" y2="423.59" stroke="#dedede" stroke-width="1.0"/><line x1="352" x2="476.8" y1="399.69" y2="399.69" stroke="#dedede" stroke-width="1.0"/><line x1="352" x2="476.8" y1="375.79" y2="375.79" stroke="#dedede" stroke-width="1.0"/><line x1="371.25" x2="371.25" y1="368.34" y2="449.04" stroke="#dedede" stroke-width="1.0"/><line x1="399.75" x2="399.75" y1="368.34" y2="449.04" stroke="#dedede" stroke-width="1.0"/><line x1="428.25" x2="428.25" y1="368.34" y2="449.04" stroke="#dedede" stroke-width="1.0"/><line x1="456.75" x2="456.75" y1="368.34" y2="449.04" stroke="#dedede" stroke-width="1.0"/><line x1="352" x2="476.8" y1="435.54" y2="435.54" stroke="#d2d2d2" stroke-width="1.4"/><line x1="352" x2="476.8" y1="411.64" y2="411.64" stroke="#d2d2d2" stroke-width="1.4"/><line x1="352" x2="476.8" y1="387.74" y2="387.74" stroke="#d2d2d2" stroke-width="1.4"/><line x1="357" x2="357" y1="368.34" y2="449.04" stroke="#d2d2d2" stroke-width="1.4"/><line x1="385.5" x2="385.5" y1="368.34" y2="449.04" stroke="#d2d2d2" stroke-width="1.4"/><line x1="414" x2="414" y1="368.34" y2="449.04" stroke="#d2d2d2" stroke-width="1.4"/><line x1="442.5" x2="442.5" y1="368.34" y2="449.04" stroke="#d2d2d2" stroke-width="1.4"/><line x1="471" x2="471" y1="368.34" y2="449.04" stroke="#d2d2d2" stroke-width="1.4"/>
<polygon points="357,422.87 358.43,422.47 359.85,422.06 361.27,421.65 362.7,421.25 364.12,420.84 365.55,420.44 366.98,420.03 368.4,419.62 369.82,419.22 371.25,418.81 372.68,418.24 374.1,417.66 375.52,417.09 376.95,416.52 378.38,415.94 379.8,415.37 381.23,414.79 382.65,414.22 384.07,413.65 385.5,413.07 386.93,412.4 388.35,411.74 389.77,411.07 391.2,410.4 392.62,409.73 394.05,409.06 395.48,408.39 396.9,407.72 398.32,407.05 399.75,406.38 401.18,405.89 402.6,405.4 404.02,404.91 405.45,404.42 406.88,403.93 408.3,403.44 409.73,402.95 411.15,402.46 412.57,401.97 414,401.48 415.43,401.06 416.85,400.65 418.27,400.23 419.7,399.81 421.12,399.39 422.55,398.97 423.98,398.55 425.4,398.14 426.82,397.72 428.25,397.3 429.68,396.81 431.1,396.32 432.52,395.83 433.95,395.34 435.38,394.85 436.8,394.36 438.23,393.87 439.65,393.38 441.07,392.89 442.5,392.4 443.93,391.97 445.35,391.54 446.77,391.11 448.2,390.68 449.62,390.25 451.05,389.82 452.48,389.39 453.9,388.96 455.32,388.53 456.75,388.1 458.18,387.94 459.6,387.79 461.02,387.63 462.45,387.48 463.88,387.32 465.3,387.17 466.73,387.01 468.15,386.86 469.57,386.7 471,386.54 471,399.69 469.57,400.28 468.15,400.86 466.73,401.45 465.3,402.03 463.88,402.62 462.45,403.2 461.02,403.79 459.6,404.37 458.18,404.96 456.75,405.55 455.32,406.21 453.9,406.88 452.48,407.55 451.05,408.22 449.62,408.89 448.2,409.56 446.77,410.23 445.35,410.9 443.93,411.57 442.5,412.24 441.07,412.73 439.65,413.22 438.23,413.71 436.8,414.2 435.38,414.69 433.95,415.18 432.52,415.67 431.1,416.16 429.68,416.65 428.25,417.14 426.82,417.72 425.4,418.31 423.98,418.89 422.55,419.48 421.12,420.06 419.7,420.65 418.27,421.24 416.85,421.82 415.43,422.41 414,422.99 412.57,423.24 411.15,423.49 409.73,423.75 408.3,424 406.88,424.25 405.45,424.5 404.02,424.75 402.6,425 401.18,425.25 399.75,425.5 398.32,426.08 396.9,426.65 395.48,427.22 394.05,427.8 392.62,428.37 391.2,428.94 389.77,429.52 388.35,430.09 386.93,430.66 385.5,431.24 384.07,431.57 382.65,431.91 381.23,432.24 379.8,432.58 378.38,432.91 376.95,433.25 375.52,433.58 374.1,433.91 372.68,434.25 371.25,434.58 369.82,434.82 368.4,435.06 366.98,435.3 365.55,435.54 364.12,435.78 362.7,436.02 361.27,436.26 359.85,436.5 358.43,436.73 357,436.97" fill="#666666"/><path d="M415.14,423.08h0.01M440.19,414.55h0.01M409.22,423.93h0.01M369.08,418.7h0.01M467.62,401.58h0.01M373.2,417.48h0.01M445.84,390.01h0.01M416.46,399.46h0.01M366.33,435.84h0.01M463.26,402.89h0.01M418.52,422.74h0.01M435.22,393.75h0.01M408.95,423.97h0.01M454.15,388.82h0.01M391.18,410.14h0.01M427.54,396.52h0.01M411.84,401.73h0.01M362.79,436.92h0.01M448.87,409.52h0.01M429.74,418.32h0.01M441.19,392.64h0.01M417.68,399.4h0.01M464.49,402.45h0.01M376.33,416.34h0.01M400.33,406.16h0.01M470.37,386.14h0.01M402.2,426.09h0.01M453.71,406.98h0.01M376.5,416.1h0.01M416.06,400.78h0.01M414.6,400.73h0.01M434.43,415.91h0.01M451.87,407.98h0.01M416.76,422.09h0.01M458.45,405.31h0.01M382.76,432.04h0.01M358.97,436.81h0.01M377.92,416.09h0.01M449.9,409.54h0.01M416.35,400.29h0.01M420.58,420.7h0.01M378.23,434.19h0.01M410.52,401.81h0.01M460.63,387.17h0.01M359.65,422.04h0.01M402.6,404.96h0.01M357.23,422.4h0.01M437.35,414.8h0.01M460.04,404.78h0.01M392.89,429.05h0.01M371.88,434.83h0.01M397.46,426.51h0.01M375.71,416.89h0.01M443.67,390.3h0.01M437.12,393.72h0.01M396.66,427.26h0.01M367.8,436.22h0.01M442.42,413.22h0.01M431.44,394.65h0.01M436.64,414.83h0.01M435.23,394.81h0.01M422.14,398.56h0.01M428.87,395.87h0.01M427.68,417.96h0.01M438.38,414.24h0.01M468.86,386.65h0.01M412.38,423.42h0.01M468.6,401.07h0.01M377.71,433.82h0.01M454.55,388.45h0.01M391.98,409.06h0.01M393.26,409.4h0.01M435.73,415.02h0.01M363.79,420.42h0.01M371.18,435.48h0.01M366.59,419.47h0.01M425.38,418.4h0.01M400.73,425.42h0.01M406.16,424.9h0.01M360.56,421.46h0.01M388.25,430.75h0.01M385.75,412.61h0.01M419.02,421.14h0.01M405.27,403.33h0.01M372.24,434.49h0.01M398.23,405.5h0.01M455.69,387.72h0.01M372.14,417.87h0.01M367.46,436.06h0.01M387.89,431.01h0.01M421.23,420.3h0.01M428.71,417.39h0.01M364.57,420.57h0.01M462.38,387.05h0.01M410.63,424.38h0.01M368.07,435.16h0.01M412.16,401.4h0.01M413.56,423.33h0.01M368.27,419.53h0.01M439.12,392.52h0.01M381.84,432.91h0.01M442.71,392.1h0.01M461.59,403.64h0.01M389.69,410.88h0.01M439.36,414.19h0.01M455.16,406.43h0.01M458.94,406.7h0.01M393.79,409.03h0.01M366.43,420.02h0.01M363.6,420.89h0.01M454.74,406.98h0.01M405.16,404.49h0.01M385.4,431.32h0.01M410.19,402.59h0.01M369.03,419.1h0.01M436.4,414.72h0.01M357.76,437.22h0.01M366.07,420.26h0.01M466.62,402.1h0.01M469.19,400.57h0.01M427.67,397.4h0.01M451.68,389.23h0.01M457.34,406.39h0.01M407.48,403.39h0.01M445.34,391.12h0.01M403.24,425.96h0.01M429.35,396.5h0.01M462.04,404.19h0.01M403.82,404.92h0.01M402.68,425.06h0.01M454.44,406.94h0.01M454.65,407.04h0.01M391.44,429.02h0.01M360.72,436.37h0.01M466.2,385.55h0.01M404.36,403.5h0.01M397.44,426.65h0.01M424.85,397.41h0.01M378.39,415.48h0.01M469.81,386.57h0.01M417.52,399.01h0.01M434.55,394.93h0.01M428.53,417.84h0.01M412.51,423.6h0.01M366.85,435.34h0.01M442.7,412.55h0.01M409.33,424.92h0.01M375.25,433.8h0.01M382.04,413.83h0.01M435.5,394.7h0.01M388.72,410.87h0.01M466.79,401.77h0.01M407.82,424.52h0.01M369.43,435.52h0.01M427.5,418.68h0.01M435.62,393.89h0.01M375.12,417.24h0.01M425.93,397.31h0.01M458.27,405.41h0.01M434.9,394.32h0.01M447.81,410.54h0.01M420.75,421.91h0.01M418.83,421.92h0.01M469.64,386.57h0.01M412.72,401.55h0.01M422.67,419.66h0.01M358.44,422.4h0.01M375.63,434.15h0.01M468,401.57h0.01M436.28,394.22h0.01M468.49,401.37h0.01M423.55,398.32h0.01M385.79,412.45h0.01M462.74,387.31h0.01M363.43,420.45h0.01M423.54,420.39h0.01M454.28,388.25h0.01M383.25,413.71h0.01M446.82,410.98h0.01M436.52,394.22h0.01M465.06,403.01h0.01M368.68,435.14h0.01M444.39,412.24h0.01M441.1,392.6h0.01M428.03,397.11h0.01M432.11,416.44h0.01M407.96,402.98h0.01M416.17,422.58h0.01M388.25,430.91h0.01M379.52,414.76h0.01M461.05,404.11h0.01M383.7,413.02h0.01M403.14,405.01h0.01M369.86,419.06h0.01M409.18,402.92h0.01M446.35,389.97h0.01M456.01,406h0.01M439.59,414.81h0.01M432.87,395.38h0.01M381.48,414.69h0.01M436,414.86h0.01M383.98,432.33h0.01M395.9,427.13h0.01M427.21,397.22h0.01M361.35,420.9h0.01M458.32,405.06h0.01M403.15,425.4h0.01M404.4,425.49h0.01M445.5,390.66h0.01M456.9,406.22h0.01M360.17,436.9h0.01M365.6,419.87h0.01M436.07,414.62h0.01M411.38,401.04h0.01M400.91,405.75h0.01M404.42,425.91h0.01M422.96,419.89h0.01M416.14,400.28h0.01M394.85,427.9h0.01M460.49,387.5h0.01" stroke="#666666" stroke-width="1.4" stroke-linecap="round" fill="none"/><polyline points="357,430.4 359.2,429.71 362.12,428.79 365.6,427.7 369.47,426.49 373.56,425.19 377.71,423.87 381.74,422.56 385.5,421.32 389.06,420.11 392.62,418.87 396.19,417.61 399.75,416.35 403.31,415.07 406.88,413.8 410.44,412.53 414,411.28 417.56,410.04 421.12,408.81 424.69,407.57 428.25,406.34 431.81,405.12 435.38,403.9 438.94,402.69 442.5,401.48 446.26,400.22 450.29,398.88 454.44,397.5 458.53,396.15 462.4,394.87 465.88,393.73 468.8,392.77 471,392.04" fill="none" stroke="#000" stroke-width="2.1" stroke-linejoin="round" stroke-linecap="round"/>
</g>
<rect x="352" y="368.34" width="124.8" height="80.7" fill="none" stroke="#1e1e1e" stroke-width="1.15"/>
<rect x="352" y="347.94" width="124.8" height="20.4" fill="#fff" stroke="#1e1e1e" stroke-width="1.15"/>
<line x1="352" x2="476.8" y1="368.34" y2="368.34" stroke="#1e1e1e" stroke-width="2.0"/>
<text transform="translate(414.4,362.94) scale(1,1.08)" font-size="12.6" text-anchor="middle" fill="#1a1a1a" >Uniform</text>
<line x1="357" x2="357" y1="449.04" y2="454.34" stroke="#1e1e1e" stroke-width="1.9"/>
<text transform="translate(357,467.84) scale(1,1.1)" font-size="12.35" text-anchor="middle" fill="#1a1a1a" >-2</text>
<line x1="385.5" x2="385.5" y1="449.04" y2="454.34" stroke="#1e1e1e" stroke-width="1.9"/>
<text transform="translate(385.5,467.84) scale(1,1.1)" font-size="12.35" text-anchor="middle" fill="#1a1a1a" >-1</text>
<line x1="414" x2="414" y1="449.04" y2="454.34" stroke="#1e1e1e" stroke-width="1.9"/>
<text transform="translate(414,467.84) scale(1,1.1)" font-size="12.35" text-anchor="middle" fill="#1a1a1a" >0</text>
<line x1="442.5" x2="442.5" y1="449.04" y2="454.34" stroke="#1e1e1e" stroke-width="1.9"/>
<text transform="translate(442.5,467.84) scale(1,1.1)" font-size="12.35" text-anchor="middle" fill="#1a1a1a" >1</text>
<line x1="471" x2="471" y1="449.04" y2="454.34" stroke="#1e1e1e" stroke-width="1.9"/>
<text transform="translate(471,467.84) scale(1,1.1)" font-size="12.35" text-anchor="middle" fill="#1a1a1a" >2</text>
<g clip-path="url(#c23)"><line x1="487.7" x2="612.5" y1="447.49" y2="447.49" stroke="#dedede" stroke-width="1.0"/><line x1="487.7" x2="612.5" y1="423.59" y2="423.59" stroke="#dedede" stroke-width="1.0"/><line x1="487.7" x2="612.5" y1="399.69" y2="399.69" stroke="#dedede" stroke-width="1.0"/><line x1="487.7" x2="612.5" y1="375.79" y2="375.79" stroke="#dedede" stroke-width="1.0"/><line x1="496.21" x2="496.21" y1="368.34" y2="449.04" stroke="#dedede" stroke-width="1.0"/><line x1="528.94" x2="528.94" y1="368.34" y2="449.04" stroke="#dedede" stroke-width="1.0"/><line x1="561.66" x2="561.66" y1="368.34" y2="449.04" stroke="#dedede" stroke-width="1.0"/><line x1="594.39" x2="594.39" y1="368.34" y2="449.04" stroke="#dedede" stroke-width="1.0"/><line x1="487.7" x2="612.5" y1="435.54" y2="435.54" stroke="#d2d2d2" stroke-width="1.4"/><line x1="487.7" x2="612.5" y1="411.64" y2="411.64" stroke="#d2d2d2" stroke-width="1.4"/><line x1="487.7" x2="612.5" y1="387.74" y2="387.74" stroke="#d2d2d2" stroke-width="1.4"/><line x1="512.57" x2="512.57" y1="368.34" y2="449.04" stroke="#d2d2d2" stroke-width="1.4"/><line x1="545.3" x2="545.3" y1="368.34" y2="449.04" stroke="#d2d2d2" stroke-width="1.4"/><line x1="578.02" x2="578.02" y1="368.34" y2="449.04" stroke="#d2d2d2" stroke-width="1.4"/><line x1="610.75" x2="610.75" y1="368.34" y2="449.04" stroke="#d2d2d2" stroke-width="1.4"/>
<polygon points="492.94,432.35 494.36,431.85 495.79,431.34 497.21,430.81 498.63,430.26 500.06,429.7 501.48,429.12 502.9,428.52 504.33,427.9 505.75,427.29 507.18,426.67 508.6,426.01 510.02,425.34 511.45,424.64 512.87,423.93 514.29,423.19 515.72,422.42 517.14,421.63 518.56,420.82 519.99,419.99 521.41,419.2 522.83,418.43 524.26,417.63 525.68,416.81 527.1,415.97 528.53,415.11 529.95,414.22 531.38,413.32 532.8,412.41 534.22,411.48 535.65,410.53 537.07,409.57 538.49,408.72 539.92,407.87 541.34,407 542.76,406.14 544.19,405.26 545.61,404.39 547.03,403.52 548.46,402.65 549.88,401.79 551.31,400.93 552.73,400.08 554.15,399.3 555.58,398.58 557,397.89 558.42,397.2 559.85,396.54 561.27,395.89 562.69,395.27 564.12,394.66 565.54,394.08 566.96,393.51 568.39,392.97 569.81,392.45 571.23,392.01 572.66,391.61 574.08,391.24 575.51,390.89 576.93,390.56 578.35,390.25 579.78,389.97 581.2,389.71 582.62,389.47 584.05,389.25 585.47,389.06 586.89,388.87 588.32,388.68 589.74,388.51 591.16,388.36 592.59,388.22 594.01,388.1 595.43,388 596.86,387.91 598.28,387.84 599.71,387.78 601.13,387.73 602.55,387.7 603.98,387.68 605.4,387.69 606.82,387.71 606.82,388.67 605.4,389.03 603.98,389.41 602.55,389.79 601.13,390.17 599.71,390.56 598.28,390.97 596.86,391.39 595.43,391.83 594.01,392.28 592.59,392.75 591.16,393.23 589.74,393.73 588.32,394.25 586.89,394.79 585.47,395.38 584.05,395.99 582.62,396.62 581.2,397.27 579.78,397.94 578.35,398.64 576.93,399.36 575.51,400.1 574.08,400.86 572.66,401.65 571.23,402.46 569.81,403.28 568.39,404.06 566.96,404.87 565.54,405.7 564.12,406.55 562.69,407.42 561.27,408.31 559.85,409.22 558.42,410.15 557,411.1 555.58,412.07 554.15,413.04 552.73,413.97 551.31,414.86 549.88,415.76 548.46,416.66 547.03,417.57 545.61,418.48 544.19,419.4 542.76,420.31 541.34,421.22 539.92,422.12 538.49,423.02 537.07,423.91 535.65,424.67 534.22,425.41 532.8,426.14 531.38,426.85 529.95,427.54 528.53,428.22 527.1,428.88 525.68,429.52 524.26,430.13 522.83,430.72 521.41,431.3 519.99,431.81 518.56,432.23 517.14,432.63 515.72,433.01 514.29,433.36 512.87,433.69 511.45,433.99 510.02,434.27 508.6,434.54 507.18,434.77 505.75,434.99 504.33,435.19 502.9,435.34 501.48,435.47 500.06,435.58 498.63,435.67 497.21,435.75 495.79,435.8 494.36,435.84 492.94,435.87" fill="#666666"/><path d="M498.9,430.08h0.01M595.57,387.95h0.01M554,399.2h0.01M531.34,413.12h0.01M520.86,419.33h0.01M561,395.94h0.01M528.87,414.73h0.01M509.13,434.51h0.01M495.36,435.92h0.01M588.36,394.31h0.01M532.05,426.69h0.01M552.96,414.46h0.01M528.84,414.85h0.01M570.93,403.08h0.01M568.86,404.36h0.01M535.59,410.5h0.01M578.83,389.89h0.01M567.88,392.38h0.01M531.31,412.9h0.01M558.21,397.08h0.01M514.47,423.05h0.01M533.02,412.21h0.01M553.53,414.06h0.01M605.89,388.94h0.01M564.69,394.17h0.01M605.91,387.7h0.01M578.54,390.09h0.01M522.14,418.6h0.01M523.91,417.64h0.01M500.07,429.65h0.01M503.05,428.16h0.01M501.31,435.5h0.01M538.97,422.77h0.01M578.45,389.91h0.01M532.61,427.21h0.01M540.66,421.85h0.01M570.27,392.28h0.01M593.03,388.12h0.01M552.01,414.85h0.01M597.24,391.42h0.01M537.27,408.85h0.01M564.64,406.31h0.01M536.93,409.18h0.01M532.75,426.7h0.01M577.23,399.33h0.01M583.03,389.22h0.01M552.34,414.48h0.01M549.9,415.77h0.01M534.96,425.23h0.01M550.6,401.03h0.01M529.62,414.26h0.01M515.39,422.54h0.01M606.28,388.82h0.01M502.63,428.35h0.01M531.79,427.42h0.01M553.77,413.68h0.01M548.05,416.98h0.01M587.78,394.61h0.01M548.3,402.65h0.01M507.3,435.09h0.01M595.24,392.01h0.01M572.18,391.48h0.01M498.91,435.84h0.01M540.86,406.73h0.01M580.66,389.79h0.01M513.52,434.18h0.01M500.05,429.31h0.01M512.86,433.69h0.01M534.91,425.33h0.01M586.3,388.83h0.01M600.47,387.72h0.01M558.26,410.41h0.01M529.92,427.61h0.01M558.03,396.91h0.01M571.57,402.5h0.01M601.68,387.68h0.01M495.21,435.84h0.01M497.81,435.92h0.01M509.06,434.62h0.01M591.33,388.26h0.01M595.39,391.86h0.01M559,410.14h0.01M529.45,414.47h0.01M521.79,418.86h0.01M540.32,407.17h0.01M511.7,424.27h0.01M552.7,414.82h0.01M527.42,429.12h0.01M546.17,403.6h0.01M555,398.59h0.01M515.18,433.93h0.01M539.22,423.05h0.01M505.58,435.04h0.01M533.54,411.41h0.01M515.09,422.76h0.01M596.58,387.89h0.01M598.53,387.75h0.01M497.71,435.91h0.01M576.16,399.99h0.01M514.11,423.16h0.01M569.35,403.55h0.01M534.11,411.44h0.01M518.56,420.6h0.01M556.77,397.58h0.01M604.96,387.66h0.01M576.21,399.77h0.01M507.29,426.38h0.01M494.92,435.97h0.01M525.82,416.53h0.01M587.43,394.62h0.01M560.45,395.7h0.01M602.18,387.65h0.01M507.31,426.59h0.01M582.77,389.43h0.01M496.62,430.65h0.01M568.25,392.78h0.01M510.22,424.85h0.01M533.82,426.01h0.01M586.29,395.06h0.01M569.42,392.19h0.01" stroke="#666666" stroke-width="1.4" stroke-linecap="round" fill="none"/><polyline points="492.94,434.11 493.04,434.09 493.18,434.07 493.34,434.04 493.51,434.01 493.7,433.97 493.89,433.94 494.08,433.9 494.25,433.87 494.41,433.84 494.58,433.81 494.74,433.78 494.9,433.75 495.07,433.71 495.23,433.68 495.39,433.65 495.56,433.62 495.72,433.58 495.89,433.55 496.05,433.52 496.21,433.49 496.38,433.45 496.54,433.42 496.7,433.38 496.87,433.35 497.03,433.32 497.19,433.28 497.36,433.25 497.52,433.21 497.69,433.18 497.85,433.14 498.01,433.11 498.18,433.07 498.34,433.03 498.5,433 498.67,432.96 498.83,432.92 498.99,432.89 499.16,432.85 499.32,432.81 499.48,432.77 499.65,432.74 499.81,432.7 499.98,432.66 500.14,432.62 500.3,432.58 500.47,432.54 500.63,432.5 500.79,432.46 500.96,432.42 501.12,432.38 501.28,432.34 501.45,432.3 501.61,432.26 501.78,432.22 501.94,432.18 502.1,432.14 502.27,432.1 502.43,432.05 502.59,432.01 502.76,431.97 502.92,431.93 503.08,431.88 503.25,431.84 503.41,431.8 503.58,431.75 503.74,431.71 503.9,431.66 504.07,431.62 504.23,431.58 504.39,431.53 504.56,431.48 504.72,431.44 504.88,431.39 505.05,431.35 505.21,431.3 505.38,431.25 505.54,431.21 505.7,431.16 505.87,431.11 506.03,431.06 506.19,431.02 506.36,430.97 506.52,430.92 506.68,430.87 506.85,430.82 507.01,430.77 507.18,430.72 507.34,430.67 507.5,430.62 507.67,430.57 507.83,430.52 507.99,430.47 508.16,430.42 508.32,430.36 508.48,430.31 508.65,430.26 508.81,430.21 508.98,430.15 509.14,430.1 509.3,430.05 509.47,429.99 509.63,429.94 509.79,429.88 509.96,429.83 510.12,429.78 510.28,429.72 510.45,429.66 510.61,429.61 510.78,429.55 510.94,429.5 511.1,429.44 511.27,429.38 511.43,429.33 511.59,429.27 511.76,429.21 511.92,429.15 512.08,429.09 512.25,429.03 512.41,428.97 512.57,428.92 512.74,428.86 512.9,428.8 513.07,428.74 513.23,428.67 513.39,428.61 513.56,428.55 513.72,428.49 513.88,428.43 514.05,428.37 514.21,428.3 514.37,428.24 514.54,428.18 514.7,428.12 514.87,428.05 515.03,427.99 515.19,427.92 515.36,427.86 515.52,427.79 515.68,427.73 515.85,427.66 516.01,427.6 516.17,427.53 516.34,427.46 516.5,427.4 516.67,427.33 516.83,427.26 516.99,427.2 517.16,427.13 517.32,427.06 517.48,426.99 517.65,426.92 517.81,426.85 517.97,426.78 518.14,426.71 518.3,426.64 518.47,426.57 518.63,426.5 518.79,426.43 518.96,426.36 519.12,426.29 519.28,426.22 519.45,426.14 519.61,426.07 519.77,426 519.94,425.92 520.1,425.85 520.27,425.78 520.43,425.7 520.59,425.63 520.76,425.55 520.92,425.48 521.08,425.4 521.25,425.33 521.41,425.25 521.57,425.18 521.74,425.1 521.9,425.02 522.07,424.95 522.23,424.87 522.39,424.79 522.56,424.71 522.72,424.63 522.88,424.55 523.05,424.48 523.21,424.4 523.37,424.32 523.54,424.24 523.7,424.16 523.87,424.08 524.03,424 524.19,423.91 524.36,423.83 524.52,423.75 524.68,423.67 524.85,423.59 525.01,423.51 525.17,423.42 525.34,423.34 525.5,423.26 525.66,423.17 525.83,423.09 525.99,423 526.16,422.92 526.32,422.84 526.48,422.75 526.65,422.67 526.81,422.58 526.97,422.49 527.14,422.41 527.3,422.32 527.46,422.23 527.63,422.15 527.79,422.06 527.96,421.97 528.12,421.89 528.28,421.8 528.45,421.71 528.61,421.62 528.77,421.53 528.94,421.44 529.1,421.35 529.26,421.26 529.43,421.17 529.59,421.08 529.76,420.99 529.92,420.9 530.08,420.81 530.25,420.72 530.41,420.63 530.57,420.54 530.74,420.45 530.9,420.36 531.06,420.26 531.23,420.17 531.39,420.08 531.56,419.99 531.72,419.89 531.88,419.8 532.05,419.71 532.21,419.61 532.37,419.52 532.54,419.42 532.7,419.33 532.86,419.24 533.03,419.14 533.19,419.05 533.36,418.95 533.52,418.86 533.68,418.76 533.85,418.66 534.01,418.57 534.17,418.47 534.34,418.38 534.5,418.28 534.66,418.18 534.83,418.09 534.99,417.99 535.16,417.89 535.32,417.79 535.48,417.7 535.65,417.6 535.81,417.5 535.97,417.4 536.14,417.3 536.3,417.21 536.46,417.11 536.63,417.01 536.79,416.91 536.96,416.81 537.12,416.71 537.28,416.61 537.45,416.51 537.61,416.41 537.77,416.31 537.94,416.21 538.1,416.11 538.26,416.01 538.43,415.91 538.59,415.81 538.75,415.71 538.92,415.61 539.08,415.51 539.25,415.41 539.41,415.31 539.57,415.21 539.74,415.11 539.9,415.01 540.06,414.91 540.23,414.8 540.39,414.7 540.55,414.6 540.72,414.5 540.88,414.4 541.05,414.3 541.21,414.19 541.37,414.09 541.54,413.99 541.7,413.89 541.86,413.79 542.03,413.68 542.19,413.58 542.35,413.48 542.52,413.38 542.68,413.27 542.85,413.17 543.01,413.07 543.17,412.97 543.34,412.86 543.5,412.76 543.66,412.66 543.83,412.56 543.99,412.45 544.15,412.35 544.32,412.25 544.48,412.15 544.65,412.04 544.81,411.94 544.97,411.84 545.14,411.74 545.3,411.63 545.46,411.53 545.63,411.43 545.79,411.32 545.95,411.22 546.12,411.12 546.28,411.02 546.45,410.91 546.61,410.81 546.77,410.71 546.94,410.61 547.1,410.5 547.26,410.4 547.43,410.3 547.59,410.2 547.75,410.09 547.92,409.99 548.08,409.89 548.25,409.79 548.41,409.69 548.57,409.58 548.74,409.48 548.9,409.38 549.06,409.28 549.23,409.18 549.39,409.08 549.55,408.97 549.72,408.87 549.88,408.77 550.05,408.67 550.21,408.57 550.37,408.47 550.54,408.37 550.7,408.27 550.86,408.17 551.03,408.07 551.19,407.96 551.35,407.86 551.52,407.76 551.68,407.66 551.84,407.56 552.01,407.46 552.17,407.36 552.34,407.26 552.5,407.17 552.66,407.07 552.83,406.97 552.99,406.87 553.15,406.77 553.32,406.67 553.48,406.57 553.64,406.47 553.81,406.37 553.97,406.28 554.14,406.18 554.3,406.08 554.46,405.98 554.63,405.89 554.79,405.79 554.95,405.69 555.12,405.59 555.28,405.5 555.44,405.4 555.61,405.31 555.77,405.21 555.94,405.11 556.1,405.02 556.26,404.92 556.43,404.83 556.59,404.73 556.75,404.64 556.92,404.54 557.08,404.45 557.24,404.35 557.41,404.26 557.57,404.16 557.74,404.07 557.9,403.98 558.06,403.88 558.23,403.79 558.39,403.7 558.55,403.6 558.72,403.51 558.88,403.42 559.04,403.33 559.21,403.24 559.37,403.15 559.54,403.05 559.7,402.96 559.86,402.87 560.03,402.78 560.19,402.69 560.35,402.6 560.52,402.51 560.68,402.42 560.84,402.33 561.01,402.24 561.17,402.15 561.34,402.07 561.5,401.98 561.66,401.89 561.83,401.8 561.99,401.71 562.15,401.63 562.32,401.54 562.48,401.45 562.64,401.37 562.81,401.28 562.97,401.2 563.14,401.11 563.3,401.02 563.46,400.94 563.63,400.85 563.79,400.77 563.95,400.69 564.12,400.6 564.28,400.52 564.44,400.44 564.61,400.35 564.77,400.27 564.93,400.19 565.1,400.1 565.26,400.02 565.43,399.94 565.59,399.86 565.75,399.78 565.92,399.7 566.08,399.62 566.24,399.54 566.41,399.46 566.57,399.38 566.73,399.3 566.9,399.22 567.06,399.14 567.23,399.06 567.39,398.98 567.55,398.91 567.72,398.83 567.88,398.75 568.04,398.67 568.21,398.6 568.37,398.52 568.53,398.45 568.7,398.37 568.86,398.29 569.03,398.22 569.19,398.14 569.35,398.07 569.52,398 569.68,397.92 569.84,397.85 570.01,397.77 570.17,397.7 570.33,397.63 570.5,397.56 570.66,397.48 570.83,397.41 570.99,397.34 571.15,397.27 571.32,397.2 571.48,397.13 571.64,397.06 571.81,396.99 571.97,396.92 572.13,396.85 572.3,396.78 572.46,396.71 572.63,396.64 572.79,396.58 572.95,396.51 573.12,396.44 573.28,396.37 573.44,396.31 573.61,396.24 573.77,396.17 573.93,396.11 574.1,396.04 574.26,395.98 574.43,395.91 574.59,395.85 574.75,395.78 574.92,395.72 575.08,395.66 575.24,395.59 575.41,395.53 575.57,395.47 575.73,395.4 575.9,395.34 576.06,395.28 576.23,395.22 576.39,395.16 576.55,395.1 576.72,395.03 576.88,394.97 577.04,394.91 577.21,394.85 577.37,394.8 577.53,394.74 577.7,394.68 577.86,394.62 578.02,394.56 578.19,394.5 578.35,394.44 578.52,394.39 578.68,394.33 578.84,394.27 579.01,394.22 579.17,394.16 579.33,394.1 579.5,394.05 579.66,393.99 579.82,393.94 579.99,393.88 580.15,393.83 580.32,393.78 580.48,393.72 580.64,393.67 580.81,393.61 580.97,393.56 581.13,393.51 581.3,393.46 581.46,393.4 581.62,393.35 581.79,393.3 581.95,393.25 582.12,393.2 582.28,393.15 582.44,393.1 582.61,393.05 582.77,393 582.93,392.95 583.1,392.9 583.26,392.85 583.42,392.8 583.59,392.75 583.75,392.7 583.92,392.66 584.08,392.61 584.24,392.56 584.41,392.51 584.57,392.47 584.73,392.42 584.9,392.37 585.06,392.33 585.22,392.28 585.39,392.24 585.55,392.19 585.72,392.15 585.88,392.1 586.04,392.06 586.21,392.01 586.37,391.97 586.53,391.93 586.7,391.88 586.86,391.84 587.02,391.8 587.19,391.75 587.35,391.71 587.52,391.67 587.68,391.63 587.84,391.59 588.01,391.54 588.17,391.5 588.33,391.46 588.5,391.42 588.66,391.38 588.82,391.34 588.99,391.3 589.15,391.26 589.32,391.22 589.48,391.18 589.64,391.14 589.81,391.11 589.97,391.07 590.13,391.03 590.3,390.99 590.46,390.95 590.62,390.92 590.79,390.88 590.95,390.84 591.12,390.8 591.28,390.77 591.44,390.73 591.61,390.7 591.77,390.66 591.93,390.62 592.1,390.59 592.26,390.55 592.42,390.52 592.59,390.48 592.75,390.45 592.91,390.41 593.08,390.38 593.24,390.35 593.41,390.31 593.57,390.28 593.73,390.25 593.9,390.21 594.06,390.18 594.22,390.15 594.39,390.11 594.55,390.08 594.71,390.05 594.88,390.02 595.04,389.99 595.21,389.96 595.37,389.92 595.53,389.89 595.7,389.86 595.86,389.83 596.02,389.8 596.19,389.77 596.35,389.74 596.51,389.71 596.68,389.68 596.84,389.65 597.01,389.62 597.17,389.59 597.33,389.57 597.5,389.54 597.66,389.51 597.82,389.48 597.99,389.45 598.15,389.42 598.31,389.4 598.48,389.37 598.64,389.34 598.81,389.32 598.97,389.29 599.13,389.26 599.3,389.23 599.46,389.21 599.62,389.18 599.79,389.16 599.95,389.13 600.11,389.1 600.28,389.08 600.44,389.05 600.61,389.03 600.77,389 600.93,388.98 601.1,388.95 601.26,388.93 601.42,388.9 601.59,388.88 601.75,388.86 601.91,388.83 602.08,388.81 602.24,388.79 602.41,388.76 602.57,388.74 602.73,388.72 602.9,388.69 603.06,388.67 603.22,388.65 603.39,388.63 603.55,388.6 603.71,388.58 603.88,388.56 604.04,388.54 604.2,388.52 604.37,388.49 604.53,388.47 604.7,388.45 604.86,388.43 605.02,388.41 605.19,388.39 605.35,388.37 605.51,388.35 605.69,388.33 605.87,388.3 606.06,388.28 606.25,388.26 606.43,388.24 606.59,388.22 606.72,388.2 606.82,388.19" fill="none" stroke="#000" stroke-width="2.1" stroke-linejoin="round" stroke-linecap="round"/>
</g>
<rect x="487.7" y="368.34" width="124.8" height="80.7" fill="none" stroke="#1e1e1e" stroke-width="1.15"/>
<rect x="487.7" y="347.94" width="124.8" height="20.4" fill="#fff" stroke="#1e1e1e" stroke-width="1.15"/>
<line x1="487.7" x2="612.5" y1="368.34" y2="368.34" stroke="#1e1e1e" stroke-width="2.0"/>
<text transform="translate(550.1,362.94) scale(1,1.08)" font-size="12.6" text-anchor="middle" fill="#1a1a1a" >Bimodal Normal</text>
<line x1="512.57" x2="512.57" y1="449.04" y2="454.34" stroke="#1e1e1e" stroke-width="1.9"/>
<text transform="translate(512.57,467.84) scale(1,1.1)" font-size="12.35" text-anchor="middle" fill="#1a1a1a" >-2.5</text>
<line x1="545.3" x2="545.3" y1="449.04" y2="454.34" stroke="#1e1e1e" stroke-width="1.9"/>
<text transform="translate(545.3,467.84) scale(1,1.1)" font-size="12.35" text-anchor="middle" fill="#1a1a1a" >0.0</text>
<line x1="578.02" x2="578.02" y1="449.04" y2="454.34" stroke="#1e1e1e" stroke-width="1.9"/>
<text transform="translate(578.02,467.84) scale(1,1.1)" font-size="12.35" text-anchor="middle" fill="#1a1a1a" >2.5</text>
<line x1="610.75" x2="610.75" y1="449.04" y2="454.34" stroke="#1e1e1e" stroke-width="1.9"/>
<text transform="translate(610.75,467.84) scale(1,1.1)" font-size="12.35" text-anchor="middle" fill="#1a1a1a" >5.0</text>
<g clip-path="url(#c24)"><line x1="623.4" x2="748.2" y1="447.49" y2="447.49" stroke="#dedede" stroke-width="1.0"/><line x1="623.4" x2="748.2" y1="423.59" y2="423.59" stroke="#dedede" stroke-width="1.0"/><line x1="623.4" x2="748.2" y1="399.69" y2="399.69" stroke="#dedede" stroke-width="1.0"/><line x1="623.4" x2="748.2" y1="375.79" y2="375.79" stroke="#dedede" stroke-width="1.0"/><line x1="643.67" x2="643.67" y1="368.34" y2="449.04" stroke="#dedede" stroke-width="1.0"/><line x1="674.23" x2="674.23" y1="368.34" y2="449.04" stroke="#dedede" stroke-width="1.0"/><line x1="704.77" x2="704.77" y1="368.34" y2="449.04" stroke="#dedede" stroke-width="1.0"/><line x1="735.32" x2="735.32" y1="368.34" y2="449.04" stroke="#dedede" stroke-width="1.0"/><line x1="623.4" x2="748.2" y1="435.54" y2="435.54" stroke="#d2d2d2" stroke-width="1.4"/><line x1="623.4" x2="748.2" y1="411.64" y2="411.64" stroke="#d2d2d2" stroke-width="1.4"/><line x1="623.4" x2="748.2" y1="387.74" y2="387.74" stroke="#d2d2d2" stroke-width="1.4"/><line x1="628.4" x2="628.4" y1="368.34" y2="449.04" stroke="#d2d2d2" stroke-width="1.4"/><line x1="658.95" x2="658.95" y1="368.34" y2="449.04" stroke="#d2d2d2" stroke-width="1.4"/><line x1="689.5" x2="689.5" y1="368.34" y2="449.04" stroke="#d2d2d2" stroke-width="1.4"/><line x1="720.05" x2="720.05" y1="368.34" y2="449.04" stroke="#d2d2d2" stroke-width="1.4"/>
<polygon points="628.4,407.22 629.81,406.46 631.23,405.69 632.64,404.93 634.05,404.17 635.46,403.4 636.88,402.64 638.29,401.88 639.7,401.12 641.12,400.35 642.53,399.59 643.94,398.86 645.36,398.25 646.77,397.64 648.18,397.03 649.59,396.43 651.01,395.82 652.42,395.21 653.83,394.6 655.25,393.99 656.66,393.39 658.07,392.78 659.48,392.16 660.9,391.53 662.31,390.9 663.72,390.27 665.14,389.64 666.55,389.01 667.96,388.38 669.38,387.75 670.79,387.12 672.2,386.49 673.61,385.86 675.03,385.33 676.44,384.88 677.85,384.43 679.27,383.97 680.68,383.52 682.09,383.07 683.5,382.61 684.92,382.16 686.33,381.71 687.74,381.25 689.16,380.8 690.57,380.4 691.98,380.01 693.4,379.62 694.81,379.24 696.22,378.85 697.63,378.46 699.05,378.08 700.46,377.69 701.87,377.3 703.29,376.91 704.7,376.53 706.11,376.29 707.52,376.06 708.94,375.82 710.35,375.59 711.76,375.36 713.18,375.13 714.59,374.89 716,374.66 717.42,374.43 718.83,374.2 720.24,373.99 721.65,373.92 723.07,373.86 724.48,373.79 725.89,373.72 727.31,373.66 728.72,373.59 730.13,373.52 731.54,373.46 732.96,373.39 734.37,373.33 735.78,373.29 737.2,373.32 738.61,373.34 740.02,373.37 741.43,373.4 741.43,375.79 740.02,376.37 738.61,376.95 737.2,377.53 735.78,378.11 734.37,378.76 732.96,379.45 731.54,380.13 730.13,380.82 728.72,381.5 727.31,382.19 725.89,382.87 724.48,383.56 723.07,384.25 721.65,384.93 720.24,385.62 718.83,386.44 717.42,387.3 716,388.15 714.59,389 713.18,389.85 711.76,390.7 710.35,391.55 708.94,392.4 707.52,393.25 706.11,394.1 704.7,394.95 703.29,395.78 701.87,396.61 700.46,397.44 699.05,398.27 697.63,399.1 696.22,399.93 694.81,400.76 693.4,401.59 691.98,402.42 690.57,403.25 689.16,404.08 687.74,404.93 686.33,405.78 684.92,406.63 683.5,407.48 682.09,408.34 680.68,409.19 679.27,410.04 677.85,410.89 676.44,411.74 675.03,412.59 673.61,413.47 672.2,414.39 670.79,415.31 669.38,416.22 667.96,417.14 666.55,418.06 665.14,418.98 663.72,419.89 662.31,420.81 660.9,421.73 659.48,422.65 658.07,423.6 656.66,424.59 655.25,425.57 653.83,426.56 652.42,427.54 651.01,428.52 649.59,429.51 648.18,430.49 646.77,431.47 645.36,432.46 643.94,433.44 642.53,434.5 641.12,435.57 639.7,436.64 638.29,437.71 636.88,438.79 635.46,439.86 634.05,440.93 632.64,442 631.23,443.08 629.81,444.15 628.4,445.22" fill="#666666"/><path d="M737,377.78h0.01M675.44,414.55h0.01M631.97,402.94h0.01M630.86,405.41h0.01M676.5,384.2h0.01M644.43,398.02h0.01M726.06,373.63h0.01M640.39,437.32h0.01M686.39,406.15h0.01M692.65,379.8h0.01M715.29,388.82h0.01M688.67,404.52h0.01M735.57,372.98h0.01M679,383.93h0.01M711.62,390.94h0.01M647.94,433.34h0.01M635.37,440.08h0.01M706.75,375.44h0.01M681.77,382.05h0.01M710.62,375.17h0.01M673.8,384.95h0.01M736.21,373.28h0.01M645.9,397.79h0.01M669.94,417.71h0.01M634.65,440.97h0.01M651.6,428.46h0.01M728.9,373.39h0.01M636.38,402.72h0.01M646.8,433.84h0.01M651.87,394.38h0.01M725.16,373.21h0.01M628.53,406.75h0.01M638.36,400.55h0.01M675.77,384.45h0.01M657.29,392.91h0.01M739.11,373.06h0.01M699.51,398.8h0.01M655.24,393.39h0.01M735.55,373.12h0.01M665.25,389.53h0.01M679.54,410.6h0.01M663.97,387.69h0.01M644.57,433.38h0.01M679.06,411.47h0.01M736.13,378.09h0.01M633.45,443.12h0.01M658.14,424.46h0.01M658.53,423.3h0.01M642.82,399.19h0.01M715.73,374.49h0.01M676,412.31h0.01M694.16,379.28h0.01M718.54,386.73h0.01M702.16,397.52h0.01M703.9,376.59h0.01M685.56,406.55h0.01M655.01,393.5h0.01M726.49,382.98h0.01M637.1,401.21h0.01M729.35,373.5h0.01M724.09,383.79h0.01M703.14,376.89h0.01M733.39,379.33h0.01M682.52,408.3h0.01M645.2,397.65h0.01M637.96,401.25h0.01M669.77,386.89h0.01M636.86,401.82h0.01M721.08,385.7h0.01M739.21,373.21h0.01M693.78,379.02h0.01M640.07,439.39h0.01M677.69,383.5h0.01M704.96,395.4h0.01M699.94,397.89h0.01M677.84,384.03h0.01M695.07,401.66h0.01M714.03,389.64h0.01M645.71,396.14h0.01M658.18,423.54h0.01M645.07,433.23h0.01M634.58,402.49h0.01M738.64,377.16h0.01M692.9,403.16h0.01M726.56,382.57h0.01M726.66,382.65h0.01M644.24,398.02h0.01M684.24,381.88h0.01M629.01,405.71h0.01M688.83,404.81h0.01M645.87,396.33h0.01M680.36,410.17h0.01M724.33,383.67h0.01M629.37,445.92h0.01M641.23,397.98h0.01M646.53,396.48h0.01M700.04,377.63h0.01M734.98,378.5h0.01M681.29,383.3h0.01M693.46,378.56h0.01M646.67,396.62h0.01M677.55,383.9h0.01M708.32,393.38h0.01M666.04,418.86h0.01M655.55,425.93h0.01M733.05,373.28h0.01M740.18,373.34h0.01M704.1,395.58h0.01M661.52,390.28h0.01M647.78,396.25h0.01M725.44,383.39h0.01M704.83,375.87h0.01M702.17,376.63h0.01M699.42,377.02h0.01M685.25,381.88h0.01M714.72,374.39h0.01M640.17,400h0.01M642.4,398.75h0.01M668.97,416.97h0.01M704.93,395.16h0.01M691.45,378.42h0.01M727.65,373.38h0.01M677.74,411.76h0.01M714.18,389.92h0.01M677.68,384.28h0.01M686.38,380.28h0.01M696.46,378.71h0.01M673.13,414.42h0.01M644.08,433.49h0.01M639.59,439.79h0.01M661.65,389.93h0.01M728.98,373.39h0.01M662.25,421.26h0.01M635.51,440.94h0.01M699.76,377.31h0.01M689.32,404.65h0.01M667.06,386.37h0.01M673.49,385.5h0.01M635.2,401.79h0.01M728.45,373.56h0.01M641.16,399.14h0.01M710.78,391.93h0.01M697.28,399.33h0.01M683.93,382.36h0.01M665.35,419.45h0.01M691.46,379.7h0.01M659.52,391.97h0.01M727.08,382.77h0.01M656.56,393.32h0.01M650.11,396.01h0.01M657.26,392.29h0.01M736.09,378.15h0.01M663.82,420.39h0.01M633.32,443.7h0.01M643.37,433.89h0.01M718.22,374.23h0.01M693.75,401.82h0.01M730.27,380.9h0.01M666.21,388.73h0.01M733.7,373.23h0.01M721.86,385.11h0.01M717.51,373.97h0.01M694.94,378.17h0.01M640.87,436.36h0.01M655.96,393.07h0.01M684.27,381.63h0.01M646.04,433.01h0.01M645.25,398.11h0.01M680.51,409.49h0.01M736.65,377.96h0.01M691.28,379.61h0.01M702.5,376.22h0.01M708.94,375.38h0.01M652.84,394.11h0.01M722.88,384.47h0.01M698.6,377.94h0.01M669.16,416.66h0.01M687.37,380.6h0.01M643.21,435.06h0.01M649.62,429.51h0.01M681.36,381.69h0.01M695.74,400.72h0.01M684.02,381.62h0.01M684.84,381.49h0.01M723.01,384.34h0.01M636.84,401.69h0.01M661.28,390.85h0.01M634.77,441.4h0.01M684.43,381.46h0.01M717.34,374.21h0.01M662.63,420.81h0.01M641.81,399.04h0.01M684.27,407.72h0.01M640.8,399.98h0.01M682.91,382.46h0.01M667.41,387.29h0.01M633.87,441.64h0.01M690.19,379.98h0.01M631.62,442.98h0.01M661.73,422h0.01M728.88,373.06h0.01M734.8,378.67h0.01M740.08,373.28h0.01M722.43,373.16h0.01M683.38,382.57h0.01M666.76,419.03h0.01M737.02,373.25h0.01M717.49,387.36h0.01M700.36,398.3h0.01M685.97,406.94h0.01M702.39,377.11h0.01M669.31,416.29h0.01M657.77,424.8h0.01M698.45,399h0.01M670.48,387.02h0.01M714.35,374.77h0.01M652.21,395.27h0.01M678.07,384.34h0.01M641.63,435.63h0.01M672.46,385.33h0.01" stroke="#666666" stroke-width="1.4" stroke-linecap="round" fill="none"/><path d="M729.19,375.68h0.01M734.47,378.95h0.01M730.94,371.82h0.01M736.43,379.69h0.01M730.93,375.42h0.01M727.76,371.67h0.01M728.29,378.38h0.01M737.17,373.65h0.01M723.44,381.46h0.01M727.6,383.72h0.01M729.99,374.11h0.01M726.11,373.69h0.01M736.84,374.76h0.01M731.57,381.82h0.01M718.19,374.25h0.01M723.08,382.82h0.01M736.17,372.34h0.01M719.63,382.36h0.01M722.18,382.27h0.01M717.13,380.65h0.01M723.5,380.33h0.01M720.96,384.74h0.01M717.7,375.85h0.01M732.98,375.63h0.01M719.64,384.62h0.01M719.55,382.45h0.01M718.23,383.5h0.01M721.33,383.55h0.01M730.97,377.5h0.01M727.12,379.84h0.01" stroke="#666666" stroke-width="1.3" stroke-linecap="round" fill="none"/><polyline points="628.4,426.22 629.58,425.58 631.14,424.74 633.01,423.74 635.08,422.62 637.28,421.44 639.5,420.24 641.66,419.07 643.67,417.97 645.58,416.93 647.49,415.89 649.4,414.83 651.31,413.78 653.22,412.73 655.13,411.69 657.04,410.64 658.95,409.61 660.86,408.58 662.77,407.55 664.68,406.52 666.59,405.49 668.5,404.48 670.41,403.47 672.32,402.47 674.23,401.48 676.13,400.51 678.04,399.56 679.95,398.61 681.86,397.67 683.77,396.74 685.68,395.81 687.59,394.89 689.5,393.95 691.41,393.01 693.32,392.06 695.23,391.1 697.14,390.14 699.05,389.2 700.96,388.29 702.87,387.4 704.77,386.54 706.68,385.73 708.59,384.93 710.5,384.16 712.41,383.42 714.32,382.69 716.23,382 718.14,381.33 720.05,380.69 722.02,380.08 724.06,379.49 726.14,378.93 728.2,378.39 730.2,377.88 732.09,377.4 733.81,376.94 735.32,376.51 736.65,376.1 737.83,375.7 738.87,375.33 739.79,374.99 740.59,374.68 741.28,374.41 741.87,374.18 742.35,374" fill="none" stroke="#000" stroke-width="2.1" stroke-linejoin="round" stroke-linecap="round"/>
</g>
<rect x="623.4" y="368.34" width="124.8" height="80.7" fill="none" stroke="#1e1e1e" stroke-width="1.15"/>
<rect x="623.4" y="347.94" width="124.8" height="20.4" fill="#fff" stroke="#1e1e1e" stroke-width="1.15"/>
<line x1="623.4" x2="748.2" y1="368.34" y2="368.34" stroke="#1e1e1e" stroke-width="2.0"/>
<text transform="translate(685.8,362.94) scale(1,1.08)" font-size="12.6" text-anchor="middle" fill="#1a1a1a" >Half Normal</text>
<line x1="628.4" x2="628.4" y1="449.04" y2="454.34" stroke="#1e1e1e" stroke-width="1.9"/>
<text transform="translate(628.4,467.84) scale(1,1.1)" font-size="12.35" text-anchor="middle" fill="#1a1a1a" >0</text>
<line x1="658.95" x2="658.95" y1="449.04" y2="454.34" stroke="#1e1e1e" stroke-width="1.9"/>
<text transform="translate(658.95,467.84) scale(1,1.1)" font-size="12.35" text-anchor="middle" fill="#1a1a1a" >1</text>
<line x1="689.5" x2="689.5" y1="449.04" y2="454.34" stroke="#1e1e1e" stroke-width="1.9"/>
<text transform="translate(689.5,467.84) scale(1,1.1)" font-size="12.35" text-anchor="middle" fill="#1a1a1a" >2</text>
<line x1="720.05" x2="720.05" y1="449.04" y2="454.34" stroke="#1e1e1e" stroke-width="1.9"/>
<text transform="translate(720.05,467.84) scale(1,1.1)" font-size="12.35" text-anchor="middle" fill="#1a1a1a" >3</text>
<g clip-path="url(#c30)"><line x1="80.6" x2="205.4" y1="612.8" y2="612.8" stroke="#dedede" stroke-width="1.0"/><line x1="80.6" x2="205.4" y1="591.47" y2="591.47" stroke="#dedede" stroke-width="1.0"/><line x1="80.6" x2="205.4" y1="570.15" y2="570.15" stroke="#dedede" stroke-width="1.0"/><line x1="80.6" x2="205.4" y1="548.82" y2="548.82" stroke="#dedede" stroke-width="1.0"/><line x1="96.3" x2="96.3" y1="535.91" y2="616.61" stroke="#dedede" stroke-width="1.0"/><line x1="126.9" x2="126.9" y1="535.91" y2="616.61" stroke="#dedede" stroke-width="1.0"/><line x1="157.5" x2="157.5" y1="535.91" y2="616.61" stroke="#dedede" stroke-width="1.0"/><line x1="188.1" x2="188.1" y1="535.91" y2="616.61" stroke="#dedede" stroke-width="1.0"/><line x1="80.6" x2="205.4" y1="602.13" y2="602.13" stroke="#d2d2d2" stroke-width="1.4"/><line x1="80.6" x2="205.4" y1="580.81" y2="580.81" stroke="#d2d2d2" stroke-width="1.4"/><line x1="80.6" x2="205.4" y1="559.48" y2="559.48" stroke="#d2d2d2" stroke-width="1.4"/><line x1="80.6" x2="205.4" y1="538.16" y2="538.16" stroke="#d2d2d2" stroke-width="1.4"/><line x1="81" x2="81" y1="535.91" y2="616.61" stroke="#d2d2d2" stroke-width="1.4"/><line x1="111.6" x2="111.6" y1="535.91" y2="616.61" stroke="#d2d2d2" stroke-width="1.4"/><line x1="142.2" x2="142.2" y1="535.91" y2="616.61" stroke="#d2d2d2" stroke-width="1.4"/><line x1="172.8" x2="172.8" y1="535.91" y2="616.61" stroke="#d2d2d2" stroke-width="1.4"/><line x1="203.4" x2="203.4" y1="535.91" y2="616.61" stroke="#d2d2d2" stroke-width="1.4"/>
<polygon points="85.59,607.76 87.01,606.88 88.44,605.92 89.86,604.96 91.29,603.99 92.71,603.03 94.14,602.07 95.56,601.1 96.99,600.19 98.41,599.33 99.84,598.47 101.26,597.61 102.69,596.76 104.11,595.9 105.54,595.04 106.96,594.18 108.39,593.32 109.81,592.46 111.24,591.6 112.66,590.74 114.09,589.89 115.51,589.03 116.94,588.17 118.36,587.31 119.79,586.45 121.21,585.59 122.64,584.73 124.06,583.88 125.48,583.02 126.91,582.16 128.33,581.36 129.76,580.57 131.18,579.77 132.61,578.98 134.03,578.18 135.46,577.39 136.88,576.59 138.31,575.8 139.73,575 141.16,574.21 142.58,573.44 144.01,572.74 145.43,572.04 146.86,571.34 148.28,570.64 149.71,569.94 151.13,569.24 152.56,568.54 153.98,567.84 155.41,567.14 156.83,566.44 158.26,565.77 159.68,565.14 161.11,564.5 162.53,563.86 163.95,563.23 165.38,562.59 166.8,561.95 168.23,561.32 169.65,560.68 171.08,560.05 172.5,559.41 173.93,558.8 175.35,558.19 176.78,557.59 178.2,556.98 179.63,556.38 181.05,555.78 182.48,555.17 183.9,554.57 185.33,553.96 186.75,553.36 188.18,552.76 189.6,552.23 191.03,551.71 192.45,551.18 193.88,550.66 195.3,550.13 196.73,549.61 198.15,549.08 199.57,548.56 199.57,553.16 198.15,554.13 196.73,555.1 195.3,556.07 193.88,557.04 192.45,558.01 191.03,558.98 189.6,559.95 188.18,560.92 186.75,561.82 185.33,562.71 183.9,563.6 182.48,564.49 181.05,565.38 179.63,566.27 178.2,567.16 176.78,568.05 175.35,568.94 173.93,569.83 172.5,570.72 171.08,571.57 169.65,572.43 168.23,573.29 166.8,574.15 165.38,575.01 163.95,575.87 162.53,576.73 161.11,577.58 159.68,578.44 158.26,579.3 156.83,580.13 155.41,580.93 153.98,581.72 152.56,582.52 151.13,583.31 149.71,584.11 148.28,584.9 146.86,585.7 145.43,586.49 144.01,587.29 142.58,588.08 141.16,588.81 139.73,589.51 138.31,590.21 136.88,590.91 135.46,591.61 134.03,592.31 132.61,593.01 131.18,593.71 129.76,594.41 128.33,595.11 126.91,595.81 125.48,596.44 124.06,597.08 122.64,597.72 121.21,598.35 119.79,598.99 118.36,599.62 116.94,600.26 115.51,600.9 114.09,601.53 112.66,602.17 111.24,602.81 109.81,603.44 108.39,604.08 106.96,604.72 105.54,605.35 104.11,605.99 102.69,606.62 101.26,607.26 99.84,607.9 98.41,608.53 96.99,609.17 95.56,609.75 94.14,610.28 92.71,610.82 91.29,611.35 89.86,611.88 88.44,612.41 87.01,612.94 85.59,613.39" fill="#666666"/><path d="M144.84,572.28h0.01M159.37,564.44h0.01M112.95,589.99h0.01M145.87,586.36h0.01M97.61,609.01h0.01M126.51,582.13h0.01M194.58,550.01h0.01M184.1,554.38h0.01M168.31,573.73h0.01M148,585.52h0.01M146.9,586.69h0.01M100.36,608.03h0.01M98.79,599.02h0.01M135.7,577.08h0.01M135.39,591.81h0.01M171.9,571.16h0.01M106.59,594.39h0.01M190.74,551.48h0.01M135.42,576.7h0.01M110.33,591.55h0.01M124.6,597.45h0.01M111.77,602.74h0.01M102.01,607.13h0.01M142.78,572.45h0.01M156.23,566.53h0.01M161.6,564.23h0.01M91.41,603.77h0.01M106.03,594.39h0.01M101.01,597.64h0.01M127.03,595.96h0.01M104.98,595.26h0.01M185.37,563.31h0.01M93.34,602.57h0.01M98.58,598.97h0.01M189.78,552.13h0.01M158.54,579.26h0.01M88.62,605.34h0.01M151.98,568.28h0.01M129.12,580.7h0.01M170.37,572.21h0.01M136.23,576.78h0.01M147.69,570.64h0.01M90.51,604.5h0.01M117.65,587.4h0.01M136.53,576h0.01M139.4,574.63h0.01M193.94,550.28h0.01M106.6,604.92h0.01M127.67,581.71h0.01M101.02,597.44h0.01M148.95,570.17h0.01M142.73,572.97h0.01M164.4,575.89h0.01M170.7,572.01h0.01M137.63,590.77h0.01M147.18,586.05h0.01M129.81,580.38h0.01M163.58,563.18h0.01M146.63,585.83h0.01M186.58,562.12h0.01M107.78,593.55h0.01M129.34,595.27h0.01M141.86,573.53h0.01M98.52,608.85h0.01M116.44,600.94h0.01M166.33,562.14h0.01M134.8,577.34h0.01M126.54,596.37h0.01M111.52,603.15h0.01M188.15,552.64h0.01M180.79,566h0.01M151.52,583.99h0.01M182.15,555.26h0.01M140.15,573.79h0.01M180.91,555.8h0.01M105.77,605.76h0.01M147.53,585.95h0.01M121.86,585.18h0.01M120.18,585.9h0.01M88.54,612.56h0.01M197.53,554.84h0.01M175.56,568.95h0.01M154.87,581.63h0.01M91.3,611.59h0.01M156.96,580.08h0.01M199.08,553.59h0.01M144.94,572.26h0.01M142.78,572.84h0.01M125.44,596.76h0.01M135.89,576.58h0.01M134.62,577.03h0.01M107.69,593.72h0.01M151.1,568.63h0.01M186.01,562.32h0.01M181.95,555.34h0.01M165.2,575.47h0.01M109.6,592.57h0.01M149.16,569.16h0.01M176.19,568.7h0.01M134.52,577.62h0.01M154.02,567.56h0.01M100.07,607.91h0.01M131.81,579.07h0.01M129.8,579.84h0.01M166.95,561.76h0.01M173.12,570.46h0.01M147.55,570.67h0.01M97.66,599.68h0.01M109.18,592.74h0.01M178.99,567.24h0.01M126.83,595.98h0.01M163.94,576.15h0.01M149.33,584.71h0.01M112.66,590.64h0.01M88.56,605.71h0.01M130.93,594.08h0.01M156.6,566.2h0.01M186.04,562.44h0.01M97.17,609.28h0.01M147.32,571.01h0.01M167.54,574.17h0.01M100.54,597.72h0.01M168.24,560.96h0.01M86.38,606.95h0.01M137.22,590.85h0.01M116.14,600.71h0.01M162.79,563.69h0.01M86.33,607.15h0.01M167.15,561.48h0.01M165.02,562.01h0.01M93.86,610.47h0.01M147.59,570.57h0.01M171.59,571.52h0.01M91.81,611.29h0.01M188.92,560.76h0.01M165.02,562.24h0.01M101.43,607.23h0.01M122.04,585h0.01M132.92,578.46h0.01M121.12,598.53h0.01M186.09,562.46h0.01M92.39,611.04h0.01M188.28,560.98h0.01M118.85,586.56h0.01M190,559.75h0.01M130.1,594.34h0.01M162.92,563.46h0.01M187.37,562.17h0.01M106.79,593.98h0.01M91.4,611.66h0.01M129.77,580.54h0.01M158.31,579.64h0.01M164.81,562.83h0.01M136.41,576.77h0.01M135.83,591.9h0.01M137.3,576.15h0.01M105.03,605.73h0.01M123.83,597.92h0.01M101.83,607.14h0.01M136.15,576.59h0.01M176.33,569.16h0.01M86.56,613.27h0.01M149.6,569.82h0.01M183.44,564.02h0.01M162.44,576.84h0.01M86.92,612.99h0.01M174.03,569.85h0.01M110.4,591.23h0.01M157.9,565.33h0.01M190.57,559.58h0.01M110.68,591.57h0.01M114.45,601.52h0.01M199.39,548.4h0.01M89.47,605.15h0.01M94.65,601.65h0.01M106.62,593.99h0.01M97.27,599.91h0.01M135.92,591.61h0.01M165.53,562.13h0.01M124.72,597.1h0.01M96.89,609.34h0.01M92.65,603h0.01M91.82,603.46h0.01M144.81,587.28h0.01M145.98,586.39h0.01M86.73,607.06h0.01M135,592.12h0.01M102.45,607.16h0.01M196.93,554.97h0.01M196.63,549.55h0.01M118.71,586.4h0.01M169.13,572.94h0.01M147.51,585.64h0.01M118.61,599.9h0.01M182.62,564.44h0.01M106.41,605.2h0.01M107.53,593.21h0.01M117.2,600.77h0.01M121.31,598.41h0.01M95.55,600.82h0.01M117.02,587.39h0.01M137.6,575.87h0.01M119.3,599.25h0.01M93.82,602.09h0.01M161.76,577.28h0.01M138.19,575.73h0.01M173.36,558.85h0.01M110.23,591.5h0.01M144.31,572.2h0.01M133.33,592.93h0.01M198.77,548.84h0.01M131.68,594.41h0.01M105.55,605.38h0.01M142.6,588.89h0.01M141.67,588.71h0.01M145.46,571.83h0.01M149.98,569.47h0.01M180.49,555.6h0.01M164.96,575.34h0.01M119.12,599.97h0.01" stroke="#666666" stroke-width="1.4" stroke-linecap="round" fill="none"/><polyline points="85.74,610.58 199.88,550.7" fill="none" stroke="#000" stroke-width="2.1" stroke-linejoin="round" stroke-linecap="round"/>
</g>
<rect x="80.6" y="535.91" width="124.8" height="80.7" fill="none" stroke="#1e1e1e" stroke-width="1.15"/>
<rect x="80.6" y="515.51" width="124.8" height="20.4" fill="#fff" stroke="#1e1e1e" stroke-width="1.15"/>
<line x1="80.6" x2="205.4" y1="535.91" y2="535.91" stroke="#1e1e1e" stroke-width="2.0"/>
<text transform="translate(143,530.51) scale(1,1.08)" font-size="12.6" text-anchor="middle" fill="#1a1a1a" >Normal</text>
<line x1="81" x2="81" y1="616.61" y2="621.91" stroke="#1e1e1e" stroke-width="1.9"/>
<text transform="translate(81,635.41) scale(1,1.1)" font-size="12.35" text-anchor="middle" fill="#1a1a1a" >-4</text>
<line x1="111.6" x2="111.6" y1="616.61" y2="621.91" stroke="#1e1e1e" stroke-width="1.9"/>
<text transform="translate(111.6,635.41) scale(1,1.1)" font-size="12.35" text-anchor="middle" fill="#1a1a1a" >-2</text>
<line x1="142.2" x2="142.2" y1="616.61" y2="621.91" stroke="#1e1e1e" stroke-width="1.9"/>
<text transform="translate(142.2,635.41) scale(1,1.1)" font-size="12.35" text-anchor="middle" fill="#1a1a1a" >0</text>
<line x1="172.8" x2="172.8" y1="616.61" y2="621.91" stroke="#1e1e1e" stroke-width="1.9"/>
<text transform="translate(172.8,635.41) scale(1,1.1)" font-size="12.35" text-anchor="middle" fill="#1a1a1a" >2</text>
<line x1="203.4" x2="203.4" y1="616.61" y2="621.91" stroke="#1e1e1e" stroke-width="1.9"/>
<text transform="translate(203.4,635.41) scale(1,1.1)" font-size="12.35" text-anchor="middle" fill="#1a1a1a" >4</text>
<line x1="75.3" x2="80.6" y1="602.13" y2="602.13" stroke="#1e1e1e" stroke-width="1.9"/>
<text transform="translate(71.5,606.88) scale(1,1.1)" font-size="12.35" text-anchor="end" fill="#1a1a1a" >-2.5</text>
<line x1="75.3" x2="80.6" y1="580.81" y2="580.81" stroke="#1e1e1e" stroke-width="1.9"/>
<text transform="translate(71.5,585.56) scale(1,1.1)" font-size="12.35" text-anchor="end" fill="#1a1a1a" >0.0</text>
<line x1="75.3" x2="80.6" y1="559.48" y2="559.48" stroke="#1e1e1e" stroke-width="1.9"/>
<text transform="translate(71.5,564.23) scale(1,1.1)" font-size="12.35" text-anchor="end" fill="#1a1a1a" >2.5</text>
<line x1="75.3" x2="80.6" y1="538.16" y2="538.16" stroke="#1e1e1e" stroke-width="1.9"/>
<text transform="translate(71.5,542.91) scale(1,1.1)" font-size="12.35" text-anchor="end" fill="#1a1a1a" >5.0</text>
<g clip-path="url(#c31)"><line x1="216.3" x2="341.1" y1="612.8" y2="612.8" stroke="#dedede" stroke-width="1.0"/><line x1="216.3" x2="341.1" y1="591.47" y2="591.47" stroke="#dedede" stroke-width="1.0"/><line x1="216.3" x2="341.1" y1="570.15" y2="570.15" stroke="#dedede" stroke-width="1.0"/><line x1="216.3" x2="341.1" y1="548.82" y2="548.82" stroke="#dedede" stroke-width="1.0"/><line x1="241.45" x2="241.45" y1="535.91" y2="616.61" stroke="#dedede" stroke-width="1.0"/><line x1="269.15" x2="269.15" y1="535.91" y2="616.61" stroke="#dedede" stroke-width="1.0"/><line x1="296.85" x2="296.85" y1="535.91" y2="616.61" stroke="#dedede" stroke-width="1.0"/><line x1="324.55" x2="324.55" y1="535.91" y2="616.61" stroke="#dedede" stroke-width="1.0"/><line x1="216.3" x2="341.1" y1="602.13" y2="602.13" stroke="#d2d2d2" stroke-width="1.4"/><line x1="216.3" x2="341.1" y1="580.81" y2="580.81" stroke="#d2d2d2" stroke-width="1.4"/><line x1="216.3" x2="341.1" y1="559.48" y2="559.48" stroke="#d2d2d2" stroke-width="1.4"/><line x1="216.3" x2="341.1" y1="538.16" y2="538.16" stroke="#d2d2d2" stroke-width="1.4"/><line x1="227.6" x2="227.6" y1="535.91" y2="616.61" stroke="#d2d2d2" stroke-width="1.4"/><line x1="255.3" x2="255.3" y1="535.91" y2="616.61" stroke="#d2d2d2" stroke-width="1.4"/><line x1="283" x2="283" y1="535.91" y2="616.61" stroke="#d2d2d2" stroke-width="1.4"/><line x1="310.7" x2="310.7" y1="535.91" y2="616.61" stroke="#d2d2d2" stroke-width="1.4"/><line x1="338.4" x2="338.4" y1="535.91" y2="616.61" stroke="#d2d2d2" stroke-width="1.4"/>
<polygon points="238.68,606.13 239.79,605.82 240.9,605.52 242,605.22 243.11,604.81 244.22,604.3 245.33,603.8 246.44,603.3 247.54,602.76 248.65,602.19 249.76,601.62 250.87,601.04 251.98,600.47 253.08,599.9 254.19,599.33 255.3,598.76 256.41,597.92 257.52,596.89 258.62,595.85 259.73,594.82 260.84,593.79 261.95,592.76 263.06,591.73 264.16,590.76 265.27,589.84 266.38,588.93 267.49,588.02 268.6,587.11 269.7,586.21 270.81,585.3 271.92,584.39 273.03,583.49 274.14,582.58 275.24,581.67 276.35,580.76 277.46,579.86 278.57,578.95 279.68,578.04 280.78,577.14 281.89,576.23 283,575.27 284.11,574.32 285.22,573.37 286.32,572.41 287.43,571.46 288.54,570.51 289.65,569.56 290.76,568.61 291.86,567.65 292.97,566.7 294.08,565.75 295.19,564.8 296.3,563.87 297.4,562.96 298.51,562.04 299.62,561.13 300.73,560.21 301.84,559.3 302.94,558.44 304.05,557.65 305.16,556.86 306.27,556.44 307.38,556.12 308.48,555.8 309.59,555.48 310.7,555.16 311.81,554.93 312.92,554.7 314.02,554.47 315.13,554.24 316.24,554.21 317.35,554.22 318.46,554.23 319.56,554.2 320.67,554.15 321.78,554.09 322.89,554.03 324,553.97 325.1,553.91 326.21,554.06 327.32,554.25 327.32,555.27 326.21,555.4 325.1,555.57 324,555.95 322.89,556.33 321.78,556.7 320.67,557.08 319.56,557.46 318.46,557.87 317.35,558.31 316.24,558.76 315.13,559.24 314.02,559.93 312.92,560.61 311.81,561.3 310.7,561.98 309.59,562.57 308.48,563.17 307.38,563.76 306.27,564.36 305.16,565.04 304.05,566.11 302.94,567.18 301.84,568.18 300.73,569.13 299.62,570.07 298.51,571.02 297.4,571.96 296.3,572.9 295.19,573.86 294.08,574.84 292.97,575.82 291.86,576.8 290.76,577.78 289.65,578.77 288.54,579.75 287.43,580.73 286.32,581.71 285.22,582.69 284.11,583.67 283,584.65 281.89,585.58 280.78,586.46 279.68,587.34 278.57,588.22 277.46,589.09 276.35,589.97 275.24,590.85 274.14,591.73 273.03,592.61 271.92,593.48 270.81,594.36 269.7,595.24 268.6,596.12 267.49,597 266.38,597.88 265.27,598.76 264.16,599.64 263.06,600.46 261.95,601.22 260.84,601.98 259.73,602.74 258.62,603.5 257.52,604.26 256.41,605.02 255.3,605.58 254.19,605.7 253.08,605.82 251.98,605.93 250.87,606.05 249.76,606.17 248.65,606.28 247.54,606.4 246.44,606.55 245.33,606.73 244.22,606.92 243.11,607.1 242,607.2 240.9,607.18 239.79,607.17 238.68,607.15" fill="#666666"/><path d="M266.64,597.89h0.01M273.29,592.53h0.01M269.53,595.53h0.01M300.65,569.3h0.01M302.53,558.53h0.01M258.48,595.97h0.01M253.56,599.36h0.01M295.66,573.73h0.01M304.03,557.4h0.01M277.29,579.75h0.01M252.27,600.03h0.01M271.77,593.91h0.01M325.95,555.44h0.01M324.2,553.92h0.01M268.49,596.51h0.01M239.58,605.8h0.01M268.48,596.6h0.01M310.23,562.32h0.01M312.36,561.06h0.01M274.76,581.99h0.01M311.18,554.63h0.01M296.33,563.8h0.01M307.97,563.59h0.01M308.58,555.6h0.01M278.87,578.64h0.01M327.23,554.14h0.01M296.13,563.79h0.01M259.14,595.15h0.01M298.13,571.44h0.01M304.66,565.79h0.01M300.92,559.53h0.01M310.15,562.42h0.01M253.97,605.94h0.01M298.86,570.92h0.01M252.78,599.99h0.01M300.96,559.89h0.01M293.63,575.24h0.01M285.38,572.65h0.01M318.36,558.16h0.01M310.9,561.86h0.01M273.37,583.12h0.01M240.75,607.19h0.01M250.3,606.13h0.01M323.68,553.94h0.01M247.66,606.56h0.01M309,555.14h0.01M290.58,568.57h0.01M259.7,603.03h0.01M308.36,555.73h0.01M254.99,598.69h0.01M249.24,606.24h0.01M244.44,604.17h0.01M316.07,554.09h0.01M245.79,603.41h0.01M319.35,557.55h0.01M260.51,602.25h0.01M251.24,600.66h0.01M256.33,605.21h0.01M246.01,606.7h0.01M272.93,592.78h0.01M256.92,604.8h0.01M283.41,574.64h0.01M317.5,554.17h0.01M262.1,592.55h0.01M301.26,559.41h0.01M260.98,601.9h0.01M270.81,594.8h0.01M323.57,556.13h0.01M310.67,562.04h0.01M269.41,595.81h0.01M266.55,588.76h0.01M287.55,571.24h0.01M253.87,605.8h0.01M326.09,555.47h0.01M319.4,557.58h0.01M309.8,555.22h0.01M311.24,554.77h0.01M279.19,577.8h0.01M266.05,589.1h0.01M274.54,581.97h0.01M309.12,562.98h0.01M254.46,605.69h0.01M259.12,595.11h0.01M311.44,554.8h0.01M281.8,576.05h0.01M303.11,558.05h0.01M253.91,605.73h0.01M292.77,576.29h0.01M243.7,604.48h0.01M251.32,600.78h0.01M281.48,586.81h0.01M311.08,554.96h0.01M248.55,602.17h0.01M308.17,563.79h0.01M244.37,604.18h0.01M270.76,594.62h0.01M238.78,606.05h0.01M285.98,572.61h0.01M247.18,602.68h0.01M315.53,554.11h0.01M309.53,555.29h0.01M243.44,607.06h0.01M269.41,596.12h0.01M311.16,562.29h0.01M293.52,565.9h0.01M248.59,602.18h0.01M292.4,567.08h0.01M287.77,580.44h0.01M261.37,602.17h0.01M276.47,590.4h0.01M262.58,600.89h0.01M319.25,557.67h0.01M274.92,591.25h0.01M239.94,607.28h0.01M283.69,584.2h0.01M255.84,605.5h0.01M316.72,558.62h0.01M295.24,564.59h0.01M272.1,593.67h0.01M287.08,581.37h0.01M318,554.05h0.01M244.55,606.92h0.01M277.76,579.54h0.01M245.89,606.64h0.01M279.63,587.84h0.01M239.62,605.81h0.01M300.45,569.5h0.01M241.31,605.41h0.01M251.47,606.05h0.01M240.62,605.57h0.01M248.69,606.44h0.01M279.83,587.57h0.01M239.8,607.17h0.01M292.76,566.88h0.01M322.24,553.98h0.01M250.81,600.85h0.01M321.65,556.83h0.01M274.42,592.13h0.01M255.76,597.86h0.01M248.79,606.42h0.01M270.33,594.84h0.01M302.19,568.05h0.01M305.21,556.6h0.01M255.62,598.58h0.01M263.13,591.01h0.01M248.95,606.56h0.01M319.23,557.79h0.01M294.37,565.09h0.01M270.1,585.79h0.01M263.33,590.75h0.01" stroke="#666666" stroke-width="1.4" stroke-linecap="round" fill="none"/><path d="M233.06,605.12h0.01M242.86,605.59h0.01M240.73,605.54h0.01M238.02,605.55h0.01M231.72,605.57h0.01M236.91,605.73h0.01M236.62,605.83h0.01M243.91,605.69h0.01M233.34,605.42h0.01M234.12,605.88h0.01M229.65,605.84h0.01M236.31,605.54h0.01M230.67,605.59h0.01M242.33,605.69h0.01M230.4,605.69h0.01M335.42,556.59h0.01M323.7,556.37h0.01M326.93,556.62h0.01M324.66,556.89h0.01M335.62,556.49h0.01M334.79,556.6h0.01M328.81,556.58h0.01M330.78,556.64h0.01M322.95,556.02h0.01M325.03,556.47h0.01M322.66,556.4h0.01M325.1,556.78h0.01M329.33,556.21h0.01M330.43,556.56h0.01M329.59,556.41h0.01" stroke="#666666" stroke-width="1.1" stroke-linecap="round" fill="none"/><polyline points="221.78,605.38 222.62,605.56 223.74,605.82 225.08,606.14 226.56,606.48 228.13,606.81 229.69,607.1 231.2,607.31 232.59,607.42 233.85,607.44 235.05,607.4 236.23,607.31 237.4,607.17 238.58,606.98 239.81,606.74 241.11,606.46 242.5,606.14 243.99,605.81 245.57,605.47 247.2,605.11 248.88,604.69 250.59,604.2 252.31,603.61 254.01,602.9 255.69,602.05 257.34,601.02 259.01,599.83 260.67,598.5 262.33,597.09 264,595.62 265.66,594.14 267.32,592.69 268.98,591.3 270.64,589.97 272.3,588.65 273.95,587.34 275.6,586.02 277.26,584.7 278.91,583.37 280.57,582.02 282.22,580.64 283.91,579.21 285.63,577.73 287.36,576.21 289.08,574.69 290.78,573.19 292.44,571.73 294.02,570.34 295.52,569.04 296.92,567.82 298.23,566.64 299.47,565.51 300.66,564.43 301.83,563.41 302.99,562.46 304.17,561.58 305.38,560.76 306.62,560.04 307.86,559.4 309.09,558.83 310.33,558.32 311.57,557.87 312.81,557.45 314.06,557.05 315.3,556.67 316.54,556.31 317.79,555.98 319.04,555.68 320.28,555.42 321.53,555.19 322.78,554.99 324.03,554.83 325.27,554.71 326.58,554.64 327.99,554.62 329.43,554.65 330.85,554.71 332.2,554.79 333.41,554.87 334.42,554.93 335.19,554.96" fill="none" stroke="#000" stroke-width="2.1" stroke-linejoin="round" stroke-linecap="round"/>
</g>
<rect x="216.3" y="535.91" width="124.8" height="80.7" fill="none" stroke="#1e1e1e" stroke-width="1.15"/>
<rect x="216.3" y="515.51" width="124.8" height="20.4" fill="#fff" stroke="#1e1e1e" stroke-width="1.15"/>
<line x1="216.3" x2="341.1" y1="535.91" y2="535.91" stroke="#1e1e1e" stroke-width="2.0"/>
<text transform="translate(278.7,530.51) scale(1,1.08)" font-size="12.6" text-anchor="middle" fill="#1a1a1a" >Logistic</text>
<line x1="227.6" x2="227.6" y1="616.61" y2="621.91" stroke="#1e1e1e" stroke-width="1.9"/>
<text transform="translate(227.6,635.41) scale(1,1.1)" font-size="12.35" text-anchor="middle" fill="#1a1a1a" >-10</text>
<line x1="255.3" x2="255.3" y1="616.61" y2="621.91" stroke="#1e1e1e" stroke-width="1.9"/>
<text transform="translate(255.3,635.41) scale(1,1.1)" font-size="12.35" text-anchor="middle" fill="#1a1a1a" >-5</text>
<line x1="283" x2="283" y1="616.61" y2="621.91" stroke="#1e1e1e" stroke-width="1.9"/>
<text transform="translate(283,635.41) scale(1,1.1)" font-size="12.35" text-anchor="middle" fill="#1a1a1a" >0</text>
<line x1="310.7" x2="310.7" y1="616.61" y2="621.91" stroke="#1e1e1e" stroke-width="1.9"/>
<text transform="translate(310.7,635.41) scale(1,1.1)" font-size="12.35" text-anchor="middle" fill="#1a1a1a" >5</text>
<line x1="338.4" x2="338.4" y1="616.61" y2="621.91" stroke="#1e1e1e" stroke-width="1.9"/>
<text transform="translate(338.4,635.41) scale(1,1.1)" font-size="12.35" text-anchor="middle" fill="#1a1a1a" >10</text>
<g clip-path="url(#c32)"><line x1="352" x2="476.8" y1="612.8" y2="612.8" stroke="#dedede" stroke-width="1.0"/><line x1="352" x2="476.8" y1="591.47" y2="591.47" stroke="#dedede" stroke-width="1.0"/><line x1="352" x2="476.8" y1="570.15" y2="570.15" stroke="#dedede" stroke-width="1.0"/><line x1="352" x2="476.8" y1="548.82" y2="548.82" stroke="#dedede" stroke-width="1.0"/><line x1="371.25" x2="371.25" y1="535.91" y2="616.61" stroke="#dedede" stroke-width="1.0"/><line x1="399.75" x2="399.75" y1="535.91" y2="616.61" stroke="#dedede" stroke-width="1.0"/><line x1="428.25" x2="428.25" y1="535.91" y2="616.61" stroke="#dedede" stroke-width="1.0"/><line x1="456.75" x2="456.75" y1="535.91" y2="616.61" stroke="#dedede" stroke-width="1.0"/><line x1="352" x2="476.8" y1="602.13" y2="602.13" stroke="#d2d2d2" stroke-width="1.4"/><line x1="352" x2="476.8" y1="580.81" y2="580.81" stroke="#d2d2d2" stroke-width="1.4"/><line x1="352" x2="476.8" y1="559.48" y2="559.48" stroke="#d2d2d2" stroke-width="1.4"/><line x1="352" x2="476.8" y1="538.16" y2="538.16" stroke="#d2d2d2" stroke-width="1.4"/><line x1="357" x2="357" y1="535.91" y2="616.61" stroke="#d2d2d2" stroke-width="1.4"/><line x1="385.5" x2="385.5" y1="535.91" y2="616.61" stroke="#d2d2d2" stroke-width="1.4"/><line x1="414" x2="414" y1="535.91" y2="616.61" stroke="#d2d2d2" stroke-width="1.4"/><line x1="442.5" x2="442.5" y1="535.91" y2="616.61" stroke="#d2d2d2" stroke-width="1.4"/><line x1="471" x2="471" y1="535.91" y2="616.61" stroke="#d2d2d2" stroke-width="1.4"/>
<polygon points="357,589.25 358.43,588.88 359.85,588.51 361.27,588.14 362.7,587.77 364.12,587.4 365.55,587.03 366.98,586.66 368.4,586.29 369.82,585.92 371.25,585.55 372.68,585.18 374.1,584.81 375.52,584.44 376.95,584.07 378.38,583.7 379.8,583.33 381.23,582.96 382.65,582.59 384.07,582.22 385.5,581.85 386.93,581.48 388.35,581.11 389.77,580.74 391.2,580.37 392.62,580 394.05,579.63 395.48,579.27 396.9,578.9 398.32,578.53 399.75,578.16 401.18,577.79 402.6,577.42 404.02,577.05 405.45,576.68 406.88,576.31 408.3,575.94 409.73,575.57 411.15,575.2 412.57,574.83 414,574.46 415.43,574.12 416.85,573.78 418.27,573.45 419.7,573.11 421.12,572.78 422.55,572.44 423.98,572.1 425.4,571.77 426.82,571.43 428.25,571.1 429.68,570.76 431.1,570.42 432.52,570.09 433.95,569.75 435.38,569.42 436.8,569.08 438.23,568.75 439.65,568.41 441.07,568.07 442.5,567.74 443.93,567.4 445.35,567.07 446.77,566.73 448.2,566.39 449.62,566.06 451.05,565.72 452.48,565.39 453.9,565.05 455.32,564.71 456.75,564.38 458.18,564.04 459.6,563.71 461.02,563.37 462.45,563.04 463.88,562.7 465.3,562.36 466.73,562.03 468.15,561.69 469.57,561.36 471,561.02 471,572.28 469.57,572.64 468.15,573 466.73,573.36 465.3,573.73 463.88,574.09 462.45,574.45 461.02,574.81 459.6,575.17 458.18,575.53 456.75,575.89 455.32,576.26 453.9,576.62 452.48,576.98 451.05,577.34 449.62,577.7 448.2,578.06 446.77,578.42 445.35,578.79 443.93,579.15 442.5,579.51 441.07,579.87 439.65,580.23 438.23,580.59 436.8,580.96 435.38,581.32 433.95,581.68 432.52,582.04 431.1,582.4 429.68,582.76 428.25,583.12 426.82,583.49 425.4,583.85 423.98,584.21 422.55,584.57 421.12,584.93 419.7,585.29 418.27,585.65 416.85,586.02 415.43,586.38 414,586.74 412.57,587.07 411.15,587.39 409.73,587.72 408.3,588.05 406.88,588.38 405.45,588.7 404.02,589.03 402.6,589.36 401.18,589.68 399.75,590.01 398.32,590.34 396.9,590.67 395.48,590.99 394.05,591.32 392.62,591.65 391.2,591.98 389.77,592.3 388.35,592.63 386.93,592.96 385.5,593.29 384.07,593.61 382.65,593.94 381.23,594.27 379.8,594.59 378.38,594.92 376.95,595.25 375.52,595.58 374.1,595.9 372.68,596.23 371.25,596.56 369.82,596.89 368.4,597.21 366.98,597.54 365.55,597.87 364.12,598.2 362.7,598.52 361.27,598.85 359.85,599.18 358.43,599.5 357,599.83" fill="#666666"/><path d="M404.02,576.33h0.01M392.01,592.31h0.01M466.24,574.59h0.01M386.59,593.21h0.01M376.48,595.84h0.01M444.63,579.33h0.01M451.73,577.53h0.01M446.13,578.93h0.01M447.66,565.69h0.01M379.33,594.93h0.01M419.49,585.55h0.01M433.25,582.45h0.01M374.3,584.68h0.01M371.96,585.02h0.01M412.02,587.28h0.01M456.41,576.42h0.01M423.15,572.13h0.01M366.34,586.49h0.01M425.15,571.73h0.01M402.6,590.07h0.01M374.81,584.47h0.01M369.35,597.62h0.01M444.99,578.89h0.01M400.83,590.51h0.01M387.05,592.93h0.01M441.17,580.66h0.01M369.7,597.49h0.01M365.17,598.45h0.01M413.25,586.96h0.01M440.78,567.65h0.01M465.12,561.61h0.01M390.17,592.59h0.01M451.18,577.75h0.01M410.87,587.71h0.01M414.59,586.67h0.01M386.24,593.28h0.01M393.22,592.43h0.01M412.36,574.76h0.01M432.78,569.95h0.01M391.45,579.93h0.01M411.63,587.4h0.01M409.08,588.69h0.01M419,572.67h0.01M366.03,586.71h0.01M466.78,573.47h0.01M460.18,575.3h0.01M409.27,587.93h0.01M375.43,584.4h0.01M456.53,563.56h0.01M380.38,582.88h0.01M469.57,573.19h0.01M460.32,563.02h0.01M425.58,584.49h0.01M436.78,581.3h0.01M416.08,586.47h0.01M363.33,598.72h0.01M447.08,579.35h0.01M402.86,589.43h0.01M444.87,567.12h0.01M430.02,570.29h0.01M358.84,588.36h0.01M469.95,572.72h0.01M373.66,596.06h0.01M448.18,578.1h0.01M445.35,579.24h0.01M373.23,584.75h0.01M452.26,564.84h0.01M464.53,574.16h0.01M468.4,561.46h0.01M410.47,588.18h0.01M431.52,582.33h0.01M400.29,577.02h0.01M448.67,566.24h0.01M446.53,566.69h0.01M369.43,585.7h0.01M413.91,574.23h0.01M439.03,568.1h0.01M411.66,574.86h0.01M434.97,568.63h0.01M425.92,571.56h0.01M469.65,572.71h0.01M368.92,585.83h0.01M422.84,572.23h0.01M440.85,567.94h0.01M417.42,573.58h0.01M457.65,564.12h0.01M427.76,584.06h0.01M415.57,586.45h0.01M446.98,578.83h0.01M430,570.24h0.01M419.26,573.09h0.01M420.95,585.49h0.01M404.13,576.59h0.01M389.19,580.61h0.01M377.32,583.82h0.01M381.63,594.24h0.01M428.21,584.1h0.01M406.76,588.58h0.01M375.1,584.39h0.01M371.2,596.87h0.01M464.52,574.12h0.01M390.26,592.54h0.01M381.31,594.69h0.01M398.83,578.37h0.01M382.7,581.39h0.01M460.45,575.13h0.01M393.07,579.86h0.01M455.86,576.63h0.01M422.93,584.75h0.01M450.92,577.58h0.01M408.51,588.12h0.01M398.42,590.74h0.01M359.47,599.91h0.01M431.47,582.31h0.01M427.18,583.5h0.01M391.17,580.31h0.01M451.4,577.38h0.01M393.07,579.43h0.01M435.11,581.59h0.01M379.5,583.23h0.01M384.38,594.41h0.01M429.69,570.61h0.01M470.47,572.8h0.01M368.82,586.15h0.01M376.2,584.23h0.01M357.11,600.2h0.01M466.91,561.85h0.01M441.43,580.26h0.01M424.47,585.02h0.01M427.91,571.15h0.01M384.78,593.76h0.01M415.61,573.34h0.01M400.91,590.24h0.01M372.89,584.98h0.01M429.02,583.64h0.01M437.73,568.18h0.01M386.01,581.52h0.01M432.74,569.37h0.01M445.34,566.63h0.01M375.84,595.86h0.01M457.67,575.93h0.01M395.53,579.21h0.01M437.42,568.62h0.01M358.99,600.04h0.01M431.55,583.03h0.01M381.96,582.57h0.01M409.49,588.57h0.01M462.19,562.97h0.01M385.92,593.4h0.01M378.71,595.01h0.01M399.22,590.42h0.01M433.34,582.15h0.01M384.37,593.99h0.01M376.26,595.62h0.01M453.67,576.91h0.01M422.06,584.97h0.01M470.93,572.88h0.01M368.68,597.44h0.01M390.9,580.28h0.01M395.58,591.52h0.01M411.98,574.59h0.01M400.22,590.22h0.01M389.58,580.74h0.01M469.17,572.79h0.01M382.43,594.02h0.01M432.48,582.2h0.01M388.72,592.67h0.01M455.67,564.45h0.01M389,580.84h0.01M460.58,575.17h0.01M425.68,571.34h0.01M420.5,585.63h0.01M444.32,567.17h0.01M413.7,574.4h0.01M453.2,564.83h0.01M415.12,586.82h0.01M470.74,560.91h0.01M396.13,591.09h0.01M364.57,587.1h0.01M385.08,581.75h0.01M419.8,585.61h0.01M386.24,593.81h0.01M465.11,573.83h0.01M435.57,581.41h0.01M391.62,592.45h0.01M436.1,581.57h0.01M411.47,587.56h0.01M397.57,578.01h0.01M397.02,578.82h0.01M440.14,580.53h0.01M433.78,582.2h0.01M455.7,564.13h0.01M399.65,577.84h0.01M440.47,567.94h0.01M359.15,599.5h0.01M435.3,582.23h0.01M457.22,564.23h0.01M452.71,577.05h0.01M425.84,571.18h0.01M418.17,572.98h0.01M378.34,595.56h0.01M402.58,577.27h0.01M466.86,561.6h0.01M435.17,569.3h0.01M360.72,588.12h0.01M457.47,564.06h0.01M377.64,595.24h0.01M409.97,588.06h0.01M419.08,572.91h0.01M423.15,572.1h0.01M377.67,595.14h0.01M397.64,591.23h0.01M408.47,588.16h0.01M408.25,575.91h0.01M431.47,570.09h0.01M371.98,585.35h0.01M392.26,592.19h0.01M371.79,584.75h0.01M410.52,587.84h0.01M460.2,575.21h0.01" stroke="#666666" stroke-width="1.4" stroke-linecap="round" fill="none"/><polyline points="357,594.54 471,566.65" fill="none" stroke="#000" stroke-width="2.1" stroke-linejoin="round" stroke-linecap="round"/>
</g>
<rect x="352" y="535.91" width="124.8" height="80.7" fill="none" stroke="#1e1e1e" stroke-width="1.15"/>
<rect x="352" y="515.51" width="124.8" height="20.4" fill="#fff" stroke="#1e1e1e" stroke-width="1.15"/>
<line x1="352" x2="476.8" y1="535.91" y2="535.91" stroke="#1e1e1e" stroke-width="2.0"/>
<text transform="translate(414.4,530.51) scale(1,1.08)" font-size="12.6" text-anchor="middle" fill="#1a1a1a" >Uniform</text>
<line x1="357" x2="357" y1="616.61" y2="621.91" stroke="#1e1e1e" stroke-width="1.9"/>
<text transform="translate(357,635.41) scale(1,1.1)" font-size="12.35" text-anchor="middle" fill="#1a1a1a" >-2</text>
<line x1="385.5" x2="385.5" y1="616.61" y2="621.91" stroke="#1e1e1e" stroke-width="1.9"/>
<text transform="translate(385.5,635.41) scale(1,1.1)" font-size="12.35" text-anchor="middle" fill="#1a1a1a" >-1</text>
<line x1="414" x2="414" y1="616.61" y2="621.91" stroke="#1e1e1e" stroke-width="1.9"/>
<text transform="translate(414,635.41) scale(1,1.1)" font-size="12.35" text-anchor="middle" fill="#1a1a1a" >0</text>
<line x1="442.5" x2="442.5" y1="616.61" y2="621.91" stroke="#1e1e1e" stroke-width="1.9"/>
<text transform="translate(442.5,635.41) scale(1,1.1)" font-size="12.35" text-anchor="middle" fill="#1a1a1a" >1</text>
<line x1="471" x2="471" y1="616.61" y2="621.91" stroke="#1e1e1e" stroke-width="1.9"/>
<text transform="translate(471,635.41) scale(1,1.1)" font-size="12.35" text-anchor="middle" fill="#1a1a1a" >2</text>
<g clip-path="url(#c33)"><line x1="487.7" x2="612.5" y1="612.8" y2="612.8" stroke="#dedede" stroke-width="1.0"/><line x1="487.7" x2="612.5" y1="591.47" y2="591.47" stroke="#dedede" stroke-width="1.0"/><line x1="487.7" x2="612.5" y1="570.15" y2="570.15" stroke="#dedede" stroke-width="1.0"/><line x1="487.7" x2="612.5" y1="548.82" y2="548.82" stroke="#dedede" stroke-width="1.0"/><line x1="496.21" x2="496.21" y1="535.91" y2="616.61" stroke="#dedede" stroke-width="1.0"/><line x1="528.94" x2="528.94" y1="535.91" y2="616.61" stroke="#dedede" stroke-width="1.0"/><line x1="561.66" x2="561.66" y1="535.91" y2="616.61" stroke="#dedede" stroke-width="1.0"/><line x1="594.39" x2="594.39" y1="535.91" y2="616.61" stroke="#dedede" stroke-width="1.0"/><line x1="487.7" x2="612.5" y1="602.13" y2="602.13" stroke="#d2d2d2" stroke-width="1.4"/><line x1="487.7" x2="612.5" y1="580.81" y2="580.81" stroke="#d2d2d2" stroke-width="1.4"/><line x1="487.7" x2="612.5" y1="559.48" y2="559.48" stroke="#d2d2d2" stroke-width="1.4"/><line x1="487.7" x2="612.5" y1="538.16" y2="538.16" stroke="#d2d2d2" stroke-width="1.4"/><line x1="512.57" x2="512.57" y1="535.91" y2="616.61" stroke="#d2d2d2" stroke-width="1.4"/><line x1="545.3" x2="545.3" y1="535.91" y2="616.61" stroke="#d2d2d2" stroke-width="1.4"/><line x1="578.02" x2="578.02" y1="535.91" y2="616.61" stroke="#d2d2d2" stroke-width="1.4"/><line x1="610.75" x2="610.75" y1="535.91" y2="616.61" stroke="#d2d2d2" stroke-width="1.4"/>
<polygon points="492.94,597.94 494.33,597.32 495.72,596.7 497.11,596.08 498.5,595.46 499.89,594.84 501.28,594.22 502.68,593.6 504.07,592.98 505.46,592.36 506.85,591.77 508.24,591.21 509.63,590.64 511.02,590.08 512.41,589.52 513.8,588.95 515.19,588.39 516.58,587.83 517.97,587.26 519.37,586.7 520.76,586.14 522.15,585.57 523.54,585.01 524.93,584.45 526.32,583.9 527.71,583.36 529.1,582.83 530.49,582.3 531.88,581.77 533.27,581.23 534.66,580.7 536.06,580.17 537.45,579.63 538.84,579.1 540.23,578.57 541.62,578.03 543.01,577.5 544.4,576.97 545.79,576.44 547.18,575.93 548.57,575.42 549.96,574.92 551.35,574.41 552.74,573.9 554.14,573.39 555.53,572.88 556.92,572.37 558.31,571.86 559.7,571.35 561.09,570.84 562.48,570.34 563.87,569.83 565.26,569.33 566.65,568.85 568.04,568.37 569.43,567.89 570.83,567.41 572.22,566.93 573.61,566.45 575,565.97 576.39,565.5 577.78,565.02 579.17,564.54 580.56,564.06 581.95,563.58 583.34,563.1 584.73,562.63 586.12,562.21 587.52,561.79 588.91,561.37 590.3,560.94 591.69,560.52 593.08,560.1 594.47,559.68 595.86,559.26 597.25,558.84 598.64,558.5 600.03,558.2 601.42,557.89 602.81,557.59 604.2,557.29 604.2,558.99 602.81,559.73 601.42,560.47 600.03,561.21 598.64,561.95 597.25,562.65 595.86,563.27 594.47,563.89 593.08,564.51 591.69,565.13 590.3,565.75 588.91,566.37 587.52,566.99 586.12,567.62 584.73,568.24 583.34,568.81 581.95,569.37 580.56,569.93 579.17,570.5 577.78,571.06 576.39,571.62 575,572.19 573.61,572.75 572.22,573.31 570.83,573.88 569.43,574.44 568.04,575 566.65,575.57 565.26,576.13 563.87,576.67 562.48,577.2 561.09,577.74 559.7,578.27 558.31,578.8 556.92,579.33 555.53,579.87 554.14,580.4 552.74,580.93 551.35,581.47 549.96,582 548.57,582.53 547.18,583.07 545.79,583.6 544.4,584.12 543.01,584.63 541.62,585.13 540.23,585.64 538.84,586.15 537.45,586.66 536.06,587.17 534.66,587.68 533.27,588.19 531.88,588.7 530.49,589.21 529.1,589.71 527.71,590.22 526.32,590.73 524.93,591.23 523.54,591.7 522.15,592.18 520.76,592.66 519.37,593.14 517.97,593.62 516.58,594.1 515.19,594.58 513.8,595.06 512.41,595.53 511.02,596.01 509.63,596.49 508.24,596.97 506.85,597.45 505.46,597.9 504.07,598.33 502.68,598.75 501.28,599.17 499.89,599.59 498.5,600.01 497.11,600.43 495.72,600.85 494.33,601.27 492.94,601.7" fill="#666666"/><path d="M547.89,575.62h0.01M530.62,589.59h0.01M562.03,577.75h0.01M590.18,565.89h0.01M522.29,585.24h0.01M510.55,590.26h0.01M509.59,590.64h0.01M565.61,576.2h0.01M525.25,591.2h0.01M571,567.27h0.01M602.86,557.44h0.01M500.91,594.08h0.01M548.05,575.61h0.01M545.69,576.23h0.01M560.3,578.1h0.01M594.26,559.73h0.01M537.74,579.46h0.01M540.25,585.96h0.01M544.95,576.51h0.01M600.23,561.26h0.01M556.71,579.48h0.01M493.58,601.55h0.01M581.39,563.77h0.01M587.26,561.73h0.01M524.19,584.35h0.01M549.17,582.4h0.01M500.79,599.38h0.01M539.62,585.91h0.01M568.11,575.21h0.01M593.68,564.57h0.01M583.01,569.03h0.01M557.01,572.11h0.01M566.38,575.78h0.01M591.62,565.56h0.01M571.2,567.14h0.01M556.39,572.55h0.01M532.16,581.53h0.01M523.93,584.74h0.01M590.11,561h0.01M563.56,576.96h0.01M531.79,588.89h0.01M545.5,576.46h0.01M596.81,558.79h0.01M545.03,576.65h0.01M511.39,596.14h0.01M540.31,585.63h0.01M502.78,593.46h0.01M572.15,573.52h0.01M568.68,568h0.01M567.53,575.46h0.01M540.11,585.84h0.01M515.66,588.17h0.01M526.9,583.61h0.01M493.47,601.61h0.01M567.85,568.24h0.01M535.39,580.31h0.01M603.31,559.51h0.01M591.06,560.62h0.01M506.59,591.62h0.01M535.98,580.16h0.01M594.23,559.5h0.01M541.71,577.95h0.01M528.27,583.1h0.01M505.67,592.2h0.01M566.01,568.86h0.01M577.31,565.06h0.01M510.94,589.92h0.01M494.56,596.91h0.01M526.43,590.7h0.01M564.98,569.15h0.01M557.15,572.17h0.01M537.74,579.5h0.01M592.06,560.29h0.01M597.08,558.83h0.01M571.23,573.72h0.01M521.28,592.62h0.01M524.13,591.61h0.01M501.97,599.25h0.01M543.38,577.12h0.01M556.58,572.24h0.01M521.89,592.54h0.01M544.84,576.72h0.01M576.17,565.37h0.01M536.5,579.87h0.01M543.31,584.76h0.01M560.61,570.82h0.01M537.66,579.39h0.01M504.51,598.44h0.01M564.68,569.34h0.01M549.59,574.81h0.01M499.62,594.87h0.01M576.5,565.42h0.01M528.53,582.92h0.01M558.78,571.5h0.01M520.49,586.04h0.01M565.2,576.35h0.01M591.82,565.22h0.01M498.95,600.04h0.01M543.58,577.2h0.01M542.58,585.1h0.01M569,574.66h0.01M542.68,577.12h0.01M497.36,600.62h0.01M547.51,575.61h0.01M546.29,583.82h0.01M517.76,593.74h0.01M587.32,561.79h0.01M581.92,563.54h0.01M574.73,565.87h0.01M601.86,560.42h0.01M497.93,600.47h0.01M581.37,563.66h0.01M581.4,563.7h0.01M594.65,563.85h0.01M504.68,598.24h0.01M558.17,578.89h0.01M554.01,580.96h0.01M499.04,599.86h0.01M548.22,575.55h0.01M515.79,594.53h0.01M557.03,579.42h0.01M560.57,578.11h0.01M539.97,585.76h0.01M596.32,559.06h0.01M535.31,580.39h0.01M550.09,574.87h0.01M505.22,598.01h0.01M526.96,583.64h0.01M508.55,596.9h0.01M589.94,560.86h0.01M508.21,596.99h0.01M502.51,599.17h0.01M502.57,593.55h0.01M500.88,599.51h0.01M553.38,573.63h0.01M548.9,575.26h0.01M527.06,583.55h0.01M555.89,572.68h0.01M568.14,568.25h0.01M555.83,572.71h0.01M566.47,575.72h0.01M523.89,591.65h0.01M516.09,587.69h0.01M521.07,592.92h0.01M597.91,562.48h0.01M520.06,586.34h0.01M514.22,594.98h0.01M528.71,589.98h0.01M493.72,601.47h0.01M593.79,564.39h0.01" stroke="#666666" stroke-width="1.4" stroke-linecap="round" fill="none"/><polyline points="492.68,599.92 607.22,557.01" fill="none" stroke="#000" stroke-width="2.1" stroke-linejoin="round" stroke-linecap="round"/>
</g>
<rect x="487.7" y="535.91" width="124.8" height="80.7" fill="none" stroke="#1e1e1e" stroke-width="1.15"/>
<rect x="487.7" y="515.51" width="124.8" height="20.4" fill="#fff" stroke="#1e1e1e" stroke-width="1.15"/>
<line x1="487.7" x2="612.5" y1="535.91" y2="535.91" stroke="#1e1e1e" stroke-width="2.0"/>
<text transform="translate(550.1,530.51) scale(1,1.08)" font-size="12.6" text-anchor="middle" fill="#1a1a1a" >Bimodal Normal</text>
<line x1="512.57" x2="512.57" y1="616.61" y2="621.91" stroke="#1e1e1e" stroke-width="1.9"/>
<text transform="translate(512.57,635.41) scale(1,1.1)" font-size="12.35" text-anchor="middle" fill="#1a1a1a" >-2.5</text>
<line x1="545.3" x2="545.3" y1="616.61" y2="621.91" stroke="#1e1e1e" stroke-width="1.9"/>
<text transform="translate(545.3,635.41) scale(1,1.1)" font-size="12.35" text-anchor="middle" fill="#1a1a1a" >0.0</text>
<line x1="578.02" x2="578.02" y1="616.61" y2="621.91" stroke="#1e1e1e" stroke-width="1.9"/>
<text transform="translate(578.02,635.41) scale(1,1.1)" font-size="12.35" text-anchor="middle" fill="#1a1a1a" >2.5</text>
<line x1="610.75" x2="610.75" y1="616.61" y2="621.91" stroke="#1e1e1e" stroke-width="1.9"/>
<text transform="translate(610.75,635.41) scale(1,1.1)" font-size="12.35" text-anchor="middle" fill="#1a1a1a" >5.0</text>
<g clip-path="url(#c34)"><line x1="623.4" x2="748.2" y1="612.8" y2="612.8" stroke="#dedede" stroke-width="1.0"/><line x1="623.4" x2="748.2" y1="591.47" y2="591.47" stroke="#dedede" stroke-width="1.0"/><line x1="623.4" x2="748.2" y1="570.15" y2="570.15" stroke="#dedede" stroke-width="1.0"/><line x1="623.4" x2="748.2" y1="548.82" y2="548.82" stroke="#dedede" stroke-width="1.0"/><line x1="643.67" x2="643.67" y1="535.91" y2="616.61" stroke="#dedede" stroke-width="1.0"/><line x1="674.23" x2="674.23" y1="535.91" y2="616.61" stroke="#dedede" stroke-width="1.0"/><line x1="704.77" x2="704.77" y1="535.91" y2="616.61" stroke="#dedede" stroke-width="1.0"/><line x1="735.32" x2="735.32" y1="535.91" y2="616.61" stroke="#dedede" stroke-width="1.0"/><line x1="623.4" x2="748.2" y1="602.13" y2="602.13" stroke="#d2d2d2" stroke-width="1.4"/><line x1="623.4" x2="748.2" y1="580.81" y2="580.81" stroke="#d2d2d2" stroke-width="1.4"/><line x1="623.4" x2="748.2" y1="559.48" y2="559.48" stroke="#d2d2d2" stroke-width="1.4"/><line x1="623.4" x2="748.2" y1="538.16" y2="538.16" stroke="#d2d2d2" stroke-width="1.4"/><line x1="628.4" x2="628.4" y1="535.91" y2="616.61" stroke="#d2d2d2" stroke-width="1.4"/><line x1="658.95" x2="658.95" y1="535.91" y2="616.61" stroke="#d2d2d2" stroke-width="1.4"/><line x1="689.5" x2="689.5" y1="535.91" y2="616.61" stroke="#d2d2d2" stroke-width="1.4"/><line x1="720.05" x2="720.05" y1="535.91" y2="616.61" stroke="#d2d2d2" stroke-width="1.4"/>
<polygon points="628.4,580.21 629.72,579.7 631.03,579.18 632.35,578.67 633.67,578.15 634.99,577.64 636.3,577.12 637.62,576.6 638.94,576.09 640.26,575.57 641.57,575.06 642.89,574.54 644.21,574.03 645.53,573.51 646.84,573 648.16,572.48 649.48,571.97 650.8,571.45 652.11,570.93 653.43,570.42 654.75,569.9 656.07,569.39 657.38,568.87 658.7,568.36 660.02,567.89 661.34,567.43 662.65,566.97 663.97,566.5 665.29,566.04 666.61,565.58 667.92,565.12 669.24,564.66 670.56,564.2 671.88,563.74 673.19,563.28 674.51,562.82 675.83,562.36 677.15,561.9 678.46,561.44 679.78,560.98 681.1,560.52 682.42,560.06 683.73,559.6 685.05,559.14 686.37,558.68 687.69,558.22 689,557.76 690.32,557.34 691.64,556.96 692.96,556.57 694.27,556.18 695.59,555.8 696.91,555.41 698.23,555.02 699.54,554.64 700.86,554.25 702.18,553.86 703.5,553.48 704.81,553.09 706.13,552.7 707.45,552.32 708.77,551.93 710.08,551.54 711.4,551.16 712.72,550.77 714.04,550.38 715.35,550 716.67,549.61 717.99,549.22 719.31,548.84 720.62,548.51 721.94,548.27 723.26,548.02 724.58,547.77 725.89,547.53 727.21,547.28 728.53,547.04 729.85,546.88 731.16,546.82 732.48,546.76 733.8,546.69 733.8,547.55 732.48,548.59 731.16,549.63 729.85,550.67 728.53,551.62 727.21,552.48 725.89,553.34 724.58,554.2 723.26,555.06 721.94,555.92 720.62,556.77 719.31,557.55 717.99,558.27 716.67,558.99 715.35,559.71 714.04,560.42 712.72,561.14 711.4,561.86 710.08,562.58 708.77,563.3 707.45,564.01 706.13,564.73 704.81,565.45 703.5,566.17 702.18,566.88 700.86,567.6 699.54,568.32 698.23,569.04 696.91,569.76 695.59,570.47 694.27,571.19 692.96,571.91 691.64,572.63 690.32,573.35 689,574.04 687.69,574.68 686.37,575.32 685.05,575.97 683.73,576.61 682.42,577.26 681.1,577.9 679.78,578.54 678.46,579.19 677.15,579.83 675.83,580.48 674.51,581.12 673.19,581.77 671.88,582.41 670.56,583.05 669.24,583.7 667.92,584.34 666.61,584.99 665.29,585.63 663.97,586.28 662.65,586.92 661.34,587.56 660.02,588.21 658.7,588.84 657.38,589.43 656.07,590.02 654.75,590.61 653.43,591.2 652.11,591.79 650.8,592.38 649.48,592.97 648.16,593.55 646.84,594.14 645.53,594.73 644.21,595.32 642.89,595.91 641.57,596.5 640.26,597.09 638.94,597.68 637.62,598.27 636.3,598.86 634.99,599.45 633.67,600.03 632.35,600.62 631.03,601.21 629.72,601.8 628.4,602.39" fill="#666666"/><path d="M679.42,559.76h0.01M707.04,564.33h0.01M631.23,601.71h0.01M680.1,560.48h0.01M685.92,558.36h0.01M682.81,577.16h0.01M704.87,552.48h0.01M701.1,553.75h0.01M720.41,557.25h0.01M725.28,553.97h0.01M698.41,569.53h0.01M704.88,566.05h0.01M718.61,558.41h0.01M681.41,578.04h0.01M633.42,578.23h0.01M638.79,598.16h0.01M638.6,575.76h0.01M694.8,555.7h0.01M701.62,567.35h0.01M647.54,572.03h0.01M712,550.41h0.01M715.47,549.69h0.01M703.03,553.56h0.01M726.39,553.15h0.01M683.56,577.42h0.01M666.19,564.94h0.01M727.23,546.92h0.01M727.89,547.14h0.01M701.12,554.13h0.01M634.1,577.96h0.01M628.48,602.91h0.01M709.02,551.78h0.01M706.71,551.78h0.01M686.95,575.38h0.01M633.55,578.14h0.01M664.41,565.54h0.01M668.39,584.74h0.01M660.19,589.11h0.01M654.54,591.18h0.01M720.53,556.91h0.01M658.2,568.45h0.01M733.39,547.93h0.01M638.53,598.32h0.01M632.22,577.55h0.01M719.55,557.65h0.01M633.21,578.25h0.01M663.19,587.68h0.01M732.92,546.71h0.01M628.63,603.34h0.01M657.36,591.36h0.01M708.39,563.74h0.01M648.35,571.69h0.01M695.67,555.54h0.01M728.15,546.95h0.01M691.09,573.57h0.01M670.99,563.52h0.01M654.57,569.37h0.01M676.48,581.96h0.01M629.75,602.05h0.01M676.62,561.28h0.01M654.44,569.92h0.01M683.46,576.91h0.01M652.91,591.66h0.01M702.64,566.84h0.01M641.42,574.26h0.01M722.06,556h0.01M696.87,555.32h0.01M689,574.51h0.01M691.27,556.8h0.01M628.98,602.25h0.01M665.59,586.3h0.01M709.59,551.43h0.01M694.01,555.79h0.01M644,573.85h0.01M712.94,550.68h0.01M728.28,547.05h0.01M716.34,559.24h0.01M676.58,580.67h0.01M660.69,588.15h0.01M648.31,593.92h0.01M652,570.86h0.01M662.79,566.68h0.01M651.67,570.96h0.01M659.95,566.76h0.01M655.17,591.62h0.01M643.15,596.93h0.01M678.21,579.81h0.01M678.03,579.46h0.01M633.96,600.17h0.01M686.51,557.6h0.01M669.16,564.34h0.01M727.27,552.48h0.01M713.05,550.46h0.01M678.41,560.69h0.01M702.41,552.94h0.01M650.66,592.87h0.01M703.95,566.06h0.01M715.56,559.61h0.01M731.81,546.67h0.01M652.2,592.22h0.01M678.59,580.11h0.01M648.63,572.05h0.01M661.05,566.99h0.01M714.98,550.07h0.01M707.67,564.39h0.01M676.73,580.34h0.01M663.25,566.21h0.01M731.82,549.3h0.01M647.04,594.28h0.01M651.57,570.9h0.01M730.01,550.67h0.01M711.86,550.85h0.01M668.01,585.37h0.01M662.76,566.62h0.01M711.68,550.96h0.01M639.82,597.42h0.01M643.18,596.08h0.01M646.47,594.34h0.01M698.82,554.21h0.01M637.26,599.58h0.01M701.41,553.93h0.01M731.96,546.66h0.01M646.47,594.58h0.01M710.02,551.35h0.01M730.41,546.83h0.01M669.75,584.01h0.01M658.74,588.96h0.01M672.49,563.38h0.01M671.82,563.08h0.01M689.08,574.16h0.01M733.51,547.77h0.01M630.98,578.61h0.01M729.03,546.92h0.01M689.52,574.26h0.01M666.21,565.45h0.01M635.68,577.28h0.01M683.29,577.67h0.01M722.78,547.79h0.01M717.2,558.8h0.01M716.61,559.23h0.01M688.28,557.18h0.01M680.51,560.16h0.01M719.23,557.68h0.01M688.47,574.63h0.01M714.75,560.6h0.01M716.54,559.37h0.01M728.63,551.78h0.01M699.76,553.73h0.01M633.71,577.69h0.01M719.75,548.59h0.01M657.9,567.97h0.01M727.08,547.11h0.01M650.69,571.36h0.01M676.18,562.17h0.01M709.36,562.98h0.01M733.28,546.7h0.01M675.33,580.86h0.01M687.96,574.74h0.01M716.85,549.37h0.01M672.07,561.78h0.01M654.97,568.86h0.01M659.92,567.25h0.01M666.63,585.66h0.01M654.34,591.79h0.01M651.09,592.76h0.01M708.86,563.92h0.01M718.03,558.42h0.01M685.69,577.15h0.01M698.98,554.53h0.01M727.51,546.92h0.01M652.25,570.07h0.01M731.1,546.67h0.01M690.2,556.94h0.01M687.56,557.74h0.01M646.68,595.34h0.01M631.59,601.19h0.01M728.58,547.03h0.01M700.12,554.23h0.01M680.02,579.15h0.01M719.49,557.57h0.01M687.24,557.93h0.01M656.67,590.38h0.01M691.45,573h0.01M656.17,568.26h0.01M683.8,577.73h0.01M644.73,573.27h0.01M684.52,558.1h0.01M730.55,550.12h0.01M687.87,557.54h0.01M681.58,559.43h0.01M721.75,547.65h0.01M731.66,549.36h0.01M683.67,559.31h0.01M690.53,573.7h0.01M669.13,564.19h0.01M731.16,549.75h0.01M633.41,578.24h0.01M686.53,558.4h0.01M645.85,594.59h0.01M722.98,548.07h0.01M640.08,597.68h0.01M715.22,549.72h0.01M711.48,550.99h0.01M731.68,549.23h0.01M712.42,550.63h0.01M670.01,564.08h0.01M724.64,547.47h0.01M683.9,559.49h0.01M713.82,560.67h0.01M687.63,557.79h0.01M720.87,548.32h0.01M639.23,575.43h0.01M634.32,601.15h0.01M634.16,577.07h0.01M702.21,553.19h0.01M702.61,567.53h0.01M710.27,551.26h0.01M696.29,570.13h0.01M666.64,565.11h0.01M648.91,593.94h0.01" stroke="#666666" stroke-width="1.4" stroke-linecap="round" fill="none"/><path d="M717.88,551.78h0.01M720.29,553.16h0.01M732.38,544.71h0.01M727.38,549.83h0.01M717.43,554.67h0.01M725.53,546.98h0.01M729.53,546.3h0.01M726.94,553.31h0.01M736.49,542.71h0.01M725.61,554.69h0.01M728.74,549.28h0.01M734.69,545.75h0.01M728.6,548.53h0.01M725.63,555.16h0.01M718.4,549.05h0.01M736.22,548.19h0.01M737.36,545.4h0.01M719.36,549.53h0.01M730.38,544.12h0.01M732.56,551.79h0.01M731.26,545.25h0.01M737.59,547.26h0.01M729.11,547.02h0.01M720.82,549h0.01M734.89,551.27h0.01M730.55,549.83h0.01M721.26,551.31h0.01M739.2,544.32h0.01M719.59,553.13h0.01M734.85,542.02h0.01" stroke="#666666" stroke-width="1.3" stroke-linecap="round" fill="none"/><polyline points="628.4,591.3 742.35,543.53" fill="none" stroke="#000" stroke-width="2.1" stroke-linejoin="round" stroke-linecap="round"/>
</g>
<rect x="623.4" y="535.91" width="124.8" height="80.7" fill="none" stroke="#1e1e1e" stroke-width="1.15"/>
<rect x="623.4" y="515.51" width="124.8" height="20.4" fill="#fff" stroke="#1e1e1e" stroke-width="1.15"/>
<line x1="623.4" x2="748.2" y1="535.91" y2="535.91" stroke="#1e1e1e" stroke-width="2.0"/>
<text transform="translate(685.8,530.51) scale(1,1.08)" font-size="12.6" text-anchor="middle" fill="#1a1a1a" >Half Normal</text>
<line x1="628.4" x2="628.4" y1="616.61" y2="621.91" stroke="#1e1e1e" stroke-width="1.9"/>
<text transform="translate(628.4,635.41) scale(1,1.1)" font-size="12.35" text-anchor="middle" fill="#1a1a1a" >0</text>
<line x1="658.95" x2="658.95" y1="616.61" y2="621.91" stroke="#1e1e1e" stroke-width="1.9"/>
<text transform="translate(658.95,635.41) scale(1,1.1)" font-size="12.35" text-anchor="middle" fill="#1a1a1a" >1</text>
<line x1="689.5" x2="689.5" y1="616.61" y2="621.91" stroke="#1e1e1e" stroke-width="1.9"/>
<text transform="translate(689.5,635.41) scale(1,1.1)" font-size="12.35" text-anchor="middle" fill="#1a1a1a" >2</text>
<line x1="720.05" x2="720.05" y1="616.61" y2="621.91" stroke="#1e1e1e" stroke-width="1.9"/>
<text transform="translate(720.05,635.41) scale(1,1.1)" font-size="12.35" text-anchor="middle" fill="#1a1a1a" >3</text>
<text transform="translate(414.4,151.7) scale(1,1.0)" font-size="16.3" text-anchor="middle" fill="#1a1a1a" >Random Intercept Value</text>
<text transform="translate(32.3,74.35) rotate(-90) scale(1,1.0)" font-size="16.3" text-anchor="middle" fill="#1a1a1a" >Density</text>
<text x="0.3" y="10.8" font-size="19.5" font-weight="bold" class="tag" fill="#000">a</text>
<text transform="translate(414.4,319.27) scale(1,1.0)" font-size="16.3" text-anchor="middle" fill="#1a1a1a" >Mean of Simulated Ratings</text>
<text transform="translate(23,241.92) rotate(-90) scale(1,1.0)" font-size="16.3" text-anchor="middle" fill="#1a1a1a" >SD of Simulated</text>
<text transform="translate(40.3,241.92) rotate(-90) scale(1,1.0)" font-size="16.3" text-anchor="middle" fill="#1a1a1a" >Ratings</text>
<text x="0.3" y="178.37" font-size="19.5" font-weight="bold" class="tag" fill="#000">b</text>
<text transform="translate(414.4,486.84) scale(1,1.0)" font-size="16.3" text-anchor="middle" fill="#1a1a1a" >Simulated Latent Mean</text>
<text transform="translate(23,409.49) rotate(-90) scale(1,1.0)" font-size="16.3" text-anchor="middle" fill="#1a1a1a" >Scaled Mean of</text>
<text transform="translate(40.3,409.49) rotate(-90) scale(1,1.0)" font-size="16.3" text-anchor="middle" fill="#1a1a1a" >Simulated Ratings</text>
<text x="0.3" y="345.94" font-size="19.5" font-weight="bold" class="tag" fill="#000">c</text>
<text transform="translate(414.4,654.41) scale(1,1.0)" font-size="16.3" text-anchor="middle" fill="#1a1a1a" >Simulated Latent Mean</text>
<text transform="translate(23,577.06) rotate(-90) scale(1,1.0)" font-size="16.3" text-anchor="middle" fill="#1a1a1a" >Scaled Item Random</text>
<text transform="translate(40.3,577.06) rotate(-90) scale(1,1.0)" font-size="16.3" text-anchor="middle" fill="#1a1a1a" >Effect Estimate</text>
<text x="0.3" y="513.51" font-size="19.5" font-weight="bold" class="tag" fill="#000">d</text>
</svg>
</body></html>
